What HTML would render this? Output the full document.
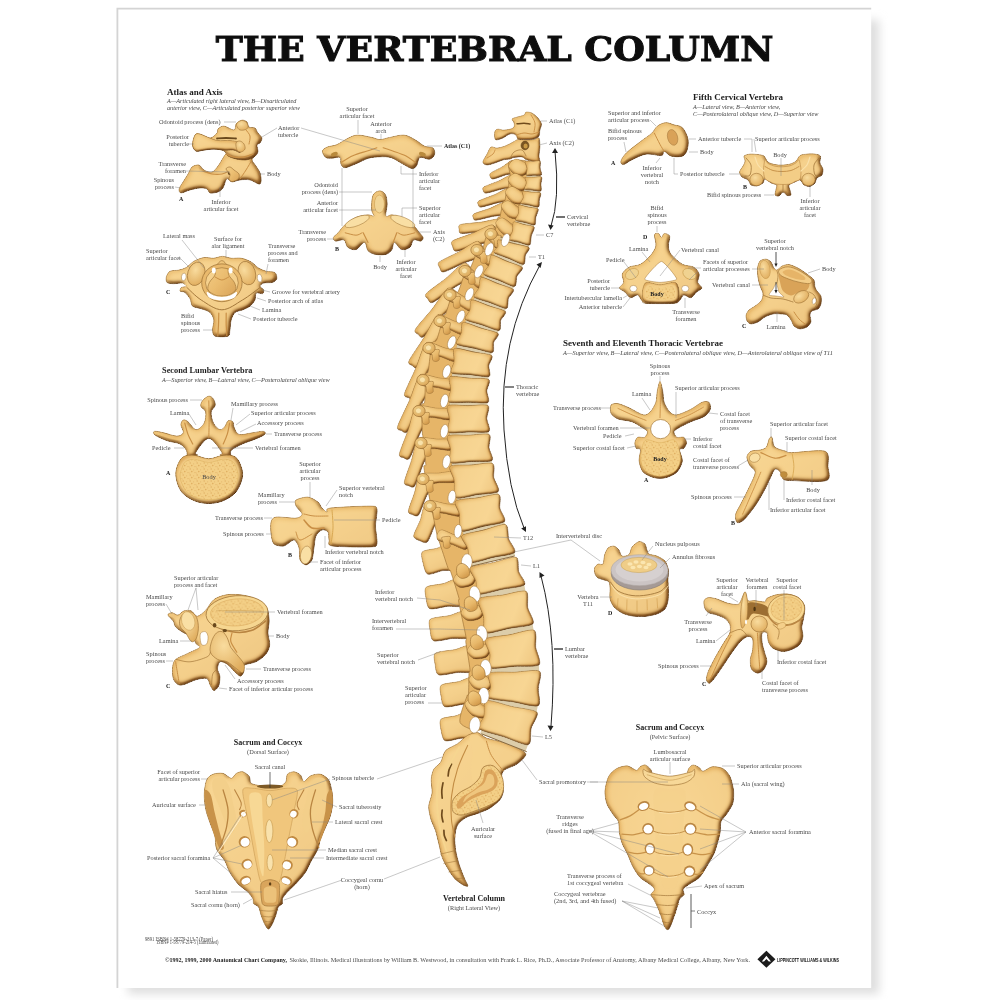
<!DOCTYPE html>
<html lang="en"><head><meta charset="utf-8"><title>The Vertebral Column</title>
<style>
html,body{margin:0;padding:0;background:#fff}
svg{display:block}
text{font-family:"Liberation Serif","DejaVu Serif",serif;fill:#4a4a4a}
.l{font-size:6.3px}
.lb{font-size:6px;font-weight:bold;fill:#222}
.i{font-style:italic;fill:#444}
.h{font-weight:bold;fill:#1c1c1c}
.b{font-weight:bold;fill:#111;font-family:"Liberation Sans",sans-serif}
.m{font-weight:bold;fill:#222}
.title{font-family:"DejaVu Serif","Liberation Serif",serif;font-weight:bold;fill:#111}
</style></head><body>
<svg width="1000" height="1000" viewBox="0 0 1000 1000">

<defs>
<linearGradient id="b1" x1="0" y1="0" x2="1" y2="1"><stop offset="0" stop-color="#f4cf88"/><stop offset=".5" stop-color="#ebbd70"/><stop offset="1" stop-color="#d9a358"/></linearGradient>
<linearGradient id="b2" x1="0" y1="0" x2="0.8" y2="1"><stop offset="0" stop-color="#f2cb84"/><stop offset=".55" stop-color="#e9b96c"/><stop offset="1" stop-color="#d59e52"/></linearGradient>
<radialGradient id="b3" cx=".4" cy=".35" r=".7"><stop offset="0" stop-color="#f9dc9e"/><stop offset="1" stop-color="#e0ad5e"/></radialGradient>
<radialGradient id="b4" cx=".5" cy=".5" r=".6"><stop offset="0" stop-color="#f5d28c"/><stop offset=".8" stop-color="#edc278"/><stop offset="1" stop-color="#dca85a"/></radialGradient>
<radialGradient id="b5" cx=".5" cy=".35" r=".75"><stop offset="0" stop-color="#f3cd86"/><stop offset=".6" stop-color="#e9b96b"/><stop offset="1" stop-color="#d59e50"/></radialGradient>
<linearGradient id="bv" x1="0" y1="0" x2="1" y2="0.3"><stop offset="0" stop-color="#dca85a"/><stop offset=".35" stop-color="#edc278"/><stop offset=".75" stop-color="#f2cb84"/><stop offset="1" stop-color="#dfab5e"/></linearGradient>
<linearGradient id="bs" x1="0" y1="0" x2="0.6" y2="1"><stop offset="0" stop-color="#f4cf88"/><stop offset=".6" stop-color="#e8b86a"/><stop offset="1" stop-color="#d29a4c"/></linearGradient>
<radialGradient id="kn" cx=".4" cy=".4" r=".7"><stop offset="0" stop-color="#f6d690"/><stop offset="1" stop-color="#d7a152"/></radialGradient>
<pattern id="sp" width="7" height="6" patternUnits="userSpaceOnUse"><rect width="7" height="6" fill="#f3cf86"/><circle cx="1.2" cy="1" r=".75" fill="#e2b267"/><circle cx="4.6" cy="1.8" r=".6" fill="#e6b970"/><circle cx="2.8" cy="3.6" r=".8" fill="#e0ae60"/><circle cx="6" cy="4.6" r=".65" fill="#e4b56a"/><circle cx=".6" cy="5" r=".5" fill="#e6b970"/></pattern>
<filter id="vol" x="-10%" y="-10%" width="120%" height="120%" color-interpolation-filters="sRGB">
<feGaussianBlur in="SourceAlpha" stdDeviation="2" result="a"/>
<feDiffuseLighting in="a" surfaceScale="4" diffuseConstant="1.22" lighting-color="#ffffff" result="lit0"><feDistantLight azimuth="230" elevation="55"/></feDiffuseLighting>
<feComponentTransfer in="lit0" result="lit"><feFuncR type="linear" slope=".5" intercept=".5"/><feFuncG type="linear" slope=".62" intercept=".38"/><feFuncB type="linear" slope=".78" intercept=".22"/></feComponentTransfer>
<feComposite in="lit" in2="SourceGraphic" operator="arithmetic" k1="1" k2="0" k3="0" k4="0" result="sh"/>
<feGaussianBlur in="SourceAlpha" stdDeviation="3.2" result="c0"/>
<feComponentTransfer in="c0" result="c"><feFuncA type="linear" slope="2.4" intercept="-1.75"/></feComponentTransfer>
<feFlood flood-color="#fbdc9c" result="fl"/>
<feComposite in="fl" in2="c" operator="in" result="hl"/>
<feMerge result="m"><feMergeNode in="sh"/><feMergeNode in="hl"/></feMerge>
<feComposite in="m" in2="SourceAlpha" operator="in"/>
</filter>
<filter id="vol2" x="-10%" y="-10%" width="120%" height="120%" color-interpolation-filters="sRGB">
<feGaussianBlur in="SourceAlpha" stdDeviation="1.2" result="a"/>
<feDiffuseLighting in="a" surfaceScale="2.2" diffuseConstant="1.22" lighting-color="#ffffff" result="lit0"><feDistantLight azimuth="230" elevation="55"/></feDiffuseLighting>
<feComponentTransfer in="lit0" result="lit"><feFuncR type="linear" slope=".5" intercept=".5"/><feFuncG type="linear" slope=".62" intercept=".38"/><feFuncB type="linear" slope=".78" intercept=".22"/></feComponentTransfer>
<feComposite in="lit" in2="SourceGraphic" operator="arithmetic" k1="1" k2="0" k3="0" k4="0" result="sh"/>
<feGaussianBlur in="SourceAlpha" stdDeviation="2.6" result="c0"/>
<feComponentTransfer in="c0" result="c"><feFuncA type="linear" slope="2.4" intercept="-1.75"/></feComponentTransfer>
<feFlood flood-color="#fbdc9c" result="fl"/>
<feComposite in="fl" in2="c" operator="in" result="hl"/>
<feMerge result="m"><feMergeNode in="sh"/><feMergeNode in="hl"/></feMerge>
<feComposite in="m" in2="SourceAlpha" operator="in"/>
</filter>
<filter id="soft" x="-2%" y="-2%" width="104%" height="104%"><feGaussianBlur stdDeviation="0.65"/></filter>
<filter id="softt" x="-2%" y="-2%" width="104%" height="104%"><feGaussianBlur stdDeviation="0.68"/></filter>
<filter id="shadow" x="-5%" y="-5%" width="112%" height="112%"><feGaussianBlur stdDeviation="5"/></filter>
</defs>

<rect width="1000" height="1000" fill="#fff"/>
<rect x="128" y="20" width="751" height="974" fill="#dedede" filter="url(#shadow)"/>
<rect x="117.400" y="8.700" width="753.800" height="979.300" fill="#fff"/>
<path d="M117.400 988V8.700H871.200" fill="none" stroke="#d4d4d4" stroke-width="1.8" filter="url(#softt)"/>
<text x="215.800" y="60.9" class="title" font-size="32.8" textLength="557.5" lengthAdjust="spacingAndGlyphs" stroke="#111" stroke-width="1.0" filter="url(#softt)">THE VERTEBRAL COLUMN</text>
<g filter="url(#soft)">
<g><path d="M226 154C224.5 154.5 224.3 156 223 158C221.7 160 219.8 163.7 218 166C216.2 168.3 214.3 171.3 212 172C209.7 172.7 206.2 171.2 204 170C201.8 168.8 201 165.5 199 165C197 164.5 193.8 165.5 192 167C190.2 168.5 189.5 171.5 188 174C186.5 176.5 184.5 179.5 183 182C181.5 184.5 179.3 187.2 179 189C178.7 190.8 179.2 192.8 181 193C182.8 193.2 186.8 190.8 190 190C193.2 189.2 197.2 188.2 200 188C202.8 187.8 205.3 188.2 207 189C208.7 189.8 208.2 192.5 210 193C211.8 193.5 215.8 192.8 218 192C220.2 191.2 221.7 190 223 188C224.3 186 225.2 181.5 226 180C226.8 178.5 227 178.7 228 179C229 179.3 230 181.8 232 182C234 182.2 237 180.3 240 180C243 179.7 246.7 179.3 250 180C253.3 180.7 258.2 185 260 184C261.8 183 261.2 177 260.5 174C259.8 171 257.4 168.3 256 166C254.6 163.7 252.3 161.7 252 160C251.7 158.3 256 156.5 254 156C252 155.5 243.7 157.2 240 157C236.3 156.8 234.3 155.5 232 155C229.7 154.5 227.5 153.5 226 154Z" fill="url(#b2)" stroke="#a3773a" stroke-width="0.9" stroke-linejoin="round"  filter="url(#vol)"/>
<path d="M203 171C204.5 171.5 208.8 173.5 212 174C215.2 174.5 219.2 174.5 222 174C224.8 173.5 227.8 171.5 229 171" fill="none" stroke="#c98f45" stroke-width="1.2" stroke-linecap="round" />
<ellipse cx="230" cy="172.5" rx="2.2" ry="2.8" fill="#6b4a1c" stroke="none" stroke-width="0" />
<path d="M226 169C226 167.8 228.7 166.8 230 167C231.3 167.2 232.5 168.8 234 170C235.5 171.2 238.3 172.5 239 174C239.7 175.5 239.2 177.8 238 179C236.8 180.2 233.5 181.5 232 181.5C230.5 181.5 229.3 180.2 229 179C228.7 177.8 230.5 175.7 230 174C229.5 172.3 226 170.2 226 169Z" fill="url(#b1)" stroke="#a3773a" stroke-width="0.7" stroke-linejoin="round" />
<path d="M252 160C251 161.7 248 166.8 246 170C244 173.2 241 177.5 240 179" fill="none" stroke="#c98f45" stroke-width="1.0" stroke-linecap="round" />
<path d="M192.5 145C192.3 142.3 193.8 136.8 195 135C196.2 133.2 197.5 133.5 200 134C202.5 134.5 207.2 138.2 210 138C212.8 137.8 215.7 134.5 217 133C218.3 131.5 216.8 130.2 218 129C219.2 127.8 221.3 125.8 224 126C226.7 126.2 232 130.3 234 130C236 129.7 234.7 125.7 236 124C237.3 122.3 240.2 120.3 242 120C243.8 119.7 245.8 120.8 247 122C248.2 123.2 247.7 126 249 127C250.3 128 253.5 127 255 128C256.5 129 256.8 131.3 258 133C259.2 134.7 261.7 136.3 262 138C262.3 139.7 260.8 141.8 260 143C259.2 144.2 257.3 143.5 257 145C256.7 146.5 258.5 150 258 152C257.5 154 256 155.7 254 157C252 158.3 249 159.7 246 160C243 160.3 239 159.7 236 159C233 158.3 230 157.3 228 156C226 154.7 226.3 152.2 224 151C221.7 149.8 217.3 149.2 214 149C210.7 148.8 207 149.7 204 150C201 150.3 197.9 151.8 196 151C194.1 150.2 192.7 147.7 192.5 145Z" fill="url(#b1)" stroke="#a3773a" stroke-width="0.9" stroke-linejoin="round"  filter="url(#vol)"/>
<path d="M192.5 145C192.3 142.3 193.8 136.8 195 135C196.2 133.2 197.5 133.5 200 134C202.5 134.5 207 136.9 210 138C213 139.1 214.7 140.1 218 140.5C221.3 140.9 226.7 140.2 230 140.5C233.3 140.8 235.9 140.9 238 142C240.1 143.1 242.2 145.2 242.5 147C242.8 148.8 241.4 152 240 152.5C238.6 153 236.3 150.6 234 150.2C231.7 149.8 229.3 150.4 226 150.2C222.7 150 217.7 149.2 214 149.2C210.3 149.2 207 149.9 204 150.2C201 150.5 197.9 152.1 196 151.2C194.1 150.3 192.7 147.7 192.5 145Z" fill="url(#b1)" stroke="#a3773a" stroke-width="0.8" stroke-linejoin="round"  filter="url(#vol2)"/>
<path d="M217 138.5C218.5 138.4 222.8 138 226 138C229.2 138 234.3 138.4 236 138.5" fill="none" stroke="#6b4a1c" stroke-width="1.8" stroke-linecap="round" />
<path d="M236.5 124C236.9 122.5 239.8 120.8 241.5 120.5C243.2 120.2 245.4 121.3 246.5 122.5C247.6 123.7 248.4 126.2 248 127.5C247.6 128.8 245.5 129.7 244 130C242.5 130.3 240.2 130.5 239 129.5C237.8 128.5 236.1 125.5 236.5 124Z" fill="url(#b3)" stroke="#a3773a" stroke-width="0.6" stroke-linejoin="round" />
<path d="M226 154C227.3 154.5 231 156.5 234 157C237 157.5 240.8 157.5 244 157C247.2 156.5 251.5 154.5 253 154" fill="none" stroke="#c98f45" stroke-width="1.3" stroke-linecap="round" />
<path d="M236 143C236.5 141.5 238.7 140.8 240 141C241.3 141.2 243.2 142.7 244 144C244.8 145.3 245.5 147.7 245 149C244.5 150.3 242.3 151.8 241 152C239.7 152.2 237.8 151.5 237 150C236.2 148.5 235.5 144.5 236 143Z" fill="url(#b3)" stroke="#a3773a" stroke-width="0.6" stroke-linejoin="round" />
<path d="M246 130C246.7 131 249.5 133.7 250 136C250.5 138.3 249.2 142.7 249 144" fill="none" stroke="#c98f45" stroke-width="1.0" stroke-linecap="round" /></g>
<g><path d="M322.4 151C322.7 149.3 324.8 148.1 327.2 147C329.6 145.9 333.3 146.1 336.8 144.6C340.3 143.1 344.5 139.8 348 138.2C351.5 136.6 353.6 135.1 357.6 135C361.6 134.9 368.3 136.7 372 137.4C375.7 138.1 377.1 139.5 380 139.5C382.9 139.5 385.6 138.1 389.6 137.4C393.6 136.7 399.7 134.6 404 135C408.3 135.4 411.7 137.9 415.2 139.8C418.7 141.7 421.9 144.9 424.8 146.2C427.7 147.5 431.1 146.5 432.8 147.8C434.5 149.1 435.3 152.3 434.7 154.2C434.2 156.1 432.1 158.8 429.6 159.3C427.1 159.9 422.1 156.4 420 157.4C417.9 158.4 418.1 163.5 416.8 165.4C415.5 167.3 414.4 168.9 412 168.6C409.6 168.3 405.9 165.6 402.4 163.8C398.9 162 394.9 158.9 391.2 157.7C387.5 156.6 383.7 156.8 380 156.9C376.3 157 372.8 157.1 368.8 158.2C364.8 159.3 360 162.2 356 163.8C352 165.4 347.3 167.8 344.8 167.8C342.3 167.8 341.6 165.5 340.8 163.8C340 162.1 341.5 158.3 340 157.4C338.5 156.5 334.4 158.2 332 158.2C329.6 158.2 327.2 158.6 325.6 157.4C324 156.2 322.1 152.7 322.4 151Z" fill="url(#b1)" stroke="#a3773a" stroke-width="0.9" stroke-linejoin="round"  filter="url(#vol)"/>
<path d="M341.6 162.2C343.5 161.1 348.5 157.7 352.8 155.8C357.1 153.9 363.2 152.3 367.2 151C371.2 149.7 375.2 148.3 376.8 147.8" fill="none" stroke="#c98f45" stroke-width="1.2" stroke-linecap="round" />
<path d="M415.2 162.2C413.6 161.1 409.3 157.7 405.6 155.8C401.9 153.9 396.5 152.3 392.8 151C389.1 149.7 384.8 148.3 383.2 147.8" fill="none" stroke="#c98f45" stroke-width="1.2" stroke-linecap="round" />
<ellipse cx="334.4" cy="154.2" rx="3.5" ry="2" fill="#b98a3c" stroke="none" stroke-width="0" transform="rotate(-20 334.4 154.2)" />
<ellipse cx="422.4" cy="154.2" rx="3.5" ry="2" fill="#b98a3c" stroke="none" stroke-width="0" transform="rotate(20 422.4 154.2)" /></g>
<g><path d="M379.4 190.8C377.3 191 374.1 192.4 372.8 195.6C371.5 198.8 371.4 206.6 371.6 210C371.8 213.4 374.6 215.2 374 216C373.4 216.8 371 214.6 368 214.8C365 215 359.8 215.6 356 217.2C352.2 218.8 348.2 221.8 345.2 224.4C342.2 227 340 230.6 338 232.8C336 235 333.6 236.2 333.2 237.6C332.8 239 333.8 240.8 335.6 241.2C337.4 241.6 342 239 344 240C346 241 345.6 245.6 347.6 247.2C349.6 248.8 353.2 250.4 356 249.6C358.8 248.8 362.4 242.2 364.4 242.4C366.4 242.6 366.2 248.8 368 250.8C369.8 252.8 372.2 253.8 375.2 254.4C378.2 255 383.2 255.2 386 254.4C388.8 253.6 390.6 251.6 392 249.6C393.4 247.6 392.8 242.4 394.4 242.4C396 242.4 399 248.8 401.6 249.6C404.2 250.4 408 248.8 410 247.2C412 245.6 411.8 241 413.6 240C415.4 239 419.2 241.6 420.8 241.2C422.4 240.8 423.4 239 423.2 237.6C423 236.2 421.2 234.8 419.6 232.8C418 230.8 416.2 228 413.6 225.6C411 223.2 407.6 220.2 404 218.4C400.4 216.6 395 215.2 392 214.8C389 214.4 386.8 217.8 386 216C385.2 214.2 387.3 207.6 387.2 204C387.1 200.4 386.7 196.6 385.4 194.4C384.1 192.2 381.5 190.6 379.4 190.8Z" fill="url(#b1)" stroke="#a3773a" stroke-width="0.9" stroke-linejoin="round"  filter="url(#vol)"/>
<ellipse cx="357.2" cy="221.4" rx="13" ry="4.2" fill="#f9dfa4" stroke="#a3773a" stroke-width="0.5" transform="rotate(-22 357.2 221.4)" />
<ellipse cx="402.8" cy="221.4" rx="13" ry="4.2" fill="#f9dfa4" stroke="#a3773a" stroke-width="0.5" transform="rotate(22 402.8 221.4)" />
<ellipse cx="379.4" cy="204" rx="5" ry="9" fill="#f2d596" stroke="#c09040" stroke-width="0.5" />
<path d="M363.2 232.8 L368 242.4" fill="none" stroke="#c98f45" stroke-width="1.2" stroke-linecap="round" />
<path d="M396.8 232.8 L393.2 242.4" fill="none" stroke="#c98f45" stroke-width="1.2" stroke-linecap="round" />
<path d="M345.2 232.8C347 233.2 353.2 235.2 356 235.2C358.8 235.2 361 233.2 362 232.8" fill="none" stroke="#c98f45" stroke-width="1.0" stroke-linecap="round" />
<path d="M414.8 232.8C413 233.2 406.8 235.2 404 235.2C401.2 235.2 399 233.2 398 232.8" fill="none" stroke="#c98f45" stroke-width="1.0" stroke-linecap="round" /></g>
<g><path d="M166.2 276.9C166.7 275.3 168.2 272.2 170 271.2C171.8 270.3 176.5 270.5 178.8 270C181 269.5 184.2 268.7 186.2 267.5C188.3 266.3 191.3 262.6 193.8 261.2C196.2 259.9 200.9 257.9 203.8 257.5C206.6 257.1 211.1 258.3 213.8 258.1C216.4 257.9 220.1 256.2 222.5 256.2C224.9 256.2 228.6 257.9 231.2 258.1C233.9 258.4 238.4 257.6 241.2 258.1C244.1 258.6 248.8 260.5 251.2 261.9C253.7 263.3 256.6 266.8 258.8 268.1C260.9 269.4 264 270.6 266.2 271.2C268.5 271.9 273.5 271.4 275 272.5C276.5 273.6 277.2 277.4 276.9 278.8C276.5 280.1 274.3 281.9 272.5 282.5C270.7 283.1 265.5 282.6 263.8 283.1C262 283.6 260 285.3 260 286.2C260 287.2 263.4 288.9 263.8 290C264.1 291.1 263.6 293.3 262.5 293.8C261.4 294.2 257.3 292.2 256.2 293.1C255.2 294 255.9 298.2 255 300C254.1 301.8 251.8 304.9 250 306.2C248.2 307.6 244.6 309.1 242.5 310C240.4 310.9 236.6 311.1 235 312.5C233.4 313.9 231.9 317.6 231.2 320C230.6 322.4 230.4 327.7 230 330C229.6 332.3 230.2 335.4 228.1 336.2C226 337.1 217.2 337.1 215 336.2C212.8 335.4 212.7 332.3 212.5 330C212.3 327.7 214.1 322.4 213.8 320C213.4 317.6 211.8 314.1 210 312.5C208.2 310.9 203.7 309.6 201.2 308.8C198.8 307.9 194.1 307.6 192.5 306.2C190.9 304.9 191.1 300.7 190 298.8C188.9 296.8 186.4 293.6 185 292.5C183.6 291.4 180.5 291.9 180 291.2C179.5 290.6 180.4 288.2 181.2 287.5C182.1 286.8 186.1 286.9 186.2 286.2C186.4 285.6 184.2 283.5 182.5 283.1C180.8 282.8 175.9 283.8 173.8 283.8C171.6 283.7 167.9 283.5 166.9 282.5C165.8 281.5 165.8 278.4 166.2 276.9Z" fill="url(#b2)" stroke="#a3773a" stroke-width="0.9" stroke-linejoin="round"  filter="url(#vol)"/>
<ellipse cx="196.2" cy="273.8" rx="8.5" ry="12" fill="url(#b3)" stroke="#a3773a" stroke-width="0.7" transform="rotate(18 196.2 273.8)" />
<ellipse cx="246.9" cy="273.1" rx="8.5" ry="12" fill="url(#b3)" stroke="#a3773a" stroke-width="0.7" transform="rotate(-18 246.9 273.1)" />
<path d="M221.9 260.6C220 260.6 217.4 263.9 216.2 266.2C215.1 268.6 216.1 272.3 215 275C213.9 277.7 210.5 280 209.4 282.5C208.2 285 207.2 287.9 208.1 290C209.1 292.1 212.7 294 215 295C217.3 296 219.6 296 221.9 296C224.2 296 226.5 296 228.8 295C231 294 234.7 292.1 235.6 290C236.6 287.9 235.5 285 234.4 282.5C233.2 280 229.9 277.7 228.8 275C227.6 272.3 228.6 268.6 227.5 266.2C226.4 263.9 223.8 260.6 221.9 260.6Z" fill="url(#b1)" stroke="#a3773a" stroke-width="0.7" stroke-linejoin="round" />
<path d="M215 276.9C216.1 277.4 219.6 280 221.9 280C224.2 280 227.6 277.4 228.8 276.9" fill="none" stroke="#c98f45" stroke-width="1.0" stroke-linecap="round" />
<ellipse cx="221.9" cy="282.8" rx="18.3" ry="17" fill="none" stroke="#e9b96c" stroke-width="3.6"/>
<ellipse cx="221.9" cy="282.8" rx="20.2" ry="18.9" fill="none" stroke="#a3773a" stroke-width="0.8"/>
<ellipse cx="221.9" cy="282.8" rx="16.4" ry="15.1" fill="none" stroke="#a3773a" stroke-width="0.7"/>
<path d="M206.9 291.9C207.5 291.5 211.2 294.8 213.8 295.6C216.2 296.5 219.2 296.9 221.9 296.9C224.6 296.9 227.5 296.5 230 295.6C232.5 294.8 236.2 291.5 236.9 291.9C237.5 292.3 236.2 296.7 233.8 298.1C231.2 299.6 225.8 300.6 221.9 300.6C217.9 300.6 212.5 299.6 210 298.1C207.5 296.7 206.2 292.3 206.9 291.9Z" fill="#ffffff" stroke="none" stroke-width="0" stroke-linejoin="round" />
<ellipse cx="183.8" cy="276.9" rx="2.4" ry="3.8" fill="#ffffff" stroke="#a3773a" stroke-width="0.5" transform="rotate(8 183.8 276.9)" />
<ellipse cx="259.6" cy="278.1" rx="2.4" ry="4" fill="#ffffff" stroke="#a3773a" stroke-width="0.5" transform="rotate(-8 259.6 278.1)" />
<ellipse cx="213.8" cy="270.6" rx="2" ry="3" fill="#ffffff" stroke="none" stroke-width="0" />
<ellipse cx="230.6" cy="270.6" rx="2" ry="3" fill="#ffffff" stroke="none" stroke-width="0" />
<path d="M186.9 287.5C189.3 289.6 195.4 296.3 201.2 300C207.1 303.7 215 309.8 221.9 309.8C228.8 309.8 236.1 303.7 242.5 300C248.9 296.3 257.1 289.6 260 287.5" fill="none" stroke="#a3773a" stroke-width="1.0" stroke-linecap="round" />
<path d="M218.8 313.1C218.7 315.1 218.7 321.2 218.5 325C218.3 328.8 217.9 333.9 217.8 335.6" fill="none" stroke="#c98f45" stroke-width="1.2" stroke-linecap="round" />
<path d="M226.2 313.1C226.2 315.1 226.1 321.2 226.2 325C226.4 328.8 226.8 333.9 226.9 335.6" fill="none" stroke="#c98f45" stroke-width="1.2" stroke-linecap="round" /></g>
<g><path d="M208.8 396C206.9 396.3 203.7 399.1 202.4 400.8C201.1 402.5 200.3 404.5 200.8 406.4C201.3 408.3 205.1 409.2 205.6 412C206.1 414.8 205.6 420.3 204 423.2C202.4 426.1 198.7 429.9 196 429.6C193.3 429.3 190.1 423.2 188 421.6C185.9 420 184.4 419.5 183.2 420C182 420.5 180.8 422.7 180.8 424.8C180.8 426.9 183.9 430.9 183.2 432.8C182.5 434.7 180 436 176.8 436C173.6 436 167.7 433.6 164 432.8C160.3 432 155.9 430.8 154.4 431.2C152.9 431.6 153.1 433.6 155.2 435.2C157.3 436.8 163.1 439.3 167.2 440.8C171.3 442.3 176.8 442.4 180 444C183.2 445.6 185.1 448.3 186.4 450.4C187.7 452.5 186.1 456 188 456.8C189.9 457.6 196.3 456 197.6 455.2C198.9 454.4 194.1 454.8 196 452C197.9 449.2 204.5 438.4 208.8 438.4C213.1 438.4 219.7 449.2 221.6 452C223.5 454.8 218.5 454.4 220 455.2C221.5 456 228.5 457.6 230.4 456.8C232.3 456 229.2 452.5 231.2 450.4C233.2 448.3 238.4 445.9 242.4 444C246.4 442.1 251.5 440.8 255.2 439.2C258.9 437.6 263.5 435.7 264.8 434.4C266.1 433.1 265.3 431.5 263.2 431.2C261.1 430.9 256 432.3 252 432.8C248 433.3 242.1 435.2 239.2 434.4C236.3 433.6 235.5 430.1 234.4 428C233.3 425.9 233.9 422.8 232.8 421.6C231.7 420.4 229.3 420 228 420.8C226.7 421.6 226.1 424.9 224.8 426.4C223.5 427.9 221.9 430.1 220 429.6C218.1 429.1 215.1 426.1 213.6 423.2C212.1 420.3 210.9 414.9 211.2 412C211.5 409.1 214.8 407.7 215.2 405.6C215.6 403.5 214.7 400.8 213.6 399.2C212.5 397.6 210.7 395.7 208.8 396Z" fill="url(#b1)" stroke="#a3773a" stroke-width="0.9" stroke-linejoin="round"  filter="url(#vol)"/>
<path d="M208.8 458.7C204 458.7 198.7 455.5 194.4 455.2C190.1 454.9 186.1 454.9 183.2 456.8C180.3 458.7 178.3 462.9 177.1 466.4C175.9 469.9 175.3 473.3 176 477.6C176.7 481.9 178.5 488.1 181.6 492C184.7 495.9 189.9 498.9 194.4 500.8C198.9 502.7 204 503.5 208.8 503.5C213.6 503.5 218.7 502.7 223.2 500.8C227.7 498.9 232.8 495.9 236 492C239.2 488.1 241.5 481.9 242.4 477.6C243.3 473.3 242.3 469.9 241.1 466.4C239.9 462.9 238.2 458.7 235.2 456.8C232.2 454.9 227.6 454.9 223.2 455.2C218.8 455.5 213.6 458.7 208.8 458.7Z" fill="url(#b4)" stroke="#a3773a" stroke-width="1.0" stroke-linejoin="round"  filter="url(#vol)"/>
<path d="M208.8 462.4C204 462.4 198.3 459.3 194.4 459.2C190.5 459.1 187.8 459.9 185.6 461.6C183.4 463.3 182.2 466.8 181.3 469.6C180.4 472.4 179.6 474.9 180.3 478.4C181 481.9 183 487.2 185.6 490.4C188.2 493.6 192.1 496.1 196 497.6C199.9 499.1 204.5 499.7 208.8 499.7C213.1 499.7 217.6 499.1 221.6 497.6C225.6 496.1 230.1 493.6 232.8 490.4C235.5 487.2 237.2 481.9 237.9 478.4C238.6 474.9 237.8 472.4 237 469.6C236.1 466.8 235.1 463.3 232.8 461.6C230.5 459.9 227.2 459.1 223.2 459.2C219.2 459.3 213.6 462.4 208.8 462.4Z" fill="url(#sp)" stroke="#d9ad58" stroke-width="0.5" stroke-linejoin="round" />
<path d="M208.8 400.8C208.9 404 209.1 413.9 209.1 420C209.1 426.1 208.9 434.7 208.8 437.6" fill="none" stroke="#c98f45" stroke-width="1.0" stroke-linecap="round" />
<path d="M184.8 423.2C185.3 425.1 186.7 430.9 188 434.4C189.3 437.9 192 442.4 192.8 444" fill="none" stroke="#c98f45" stroke-width="1.2" stroke-linecap="round" />
<path d="M229.6 423.2C229.2 425.1 228.3 430.9 227.2 434.4C226.1 437.9 223.9 442.4 223.2 444" fill="none" stroke="#c98f45" stroke-width="1.2" stroke-linecap="round" /></g>
<g><path d="M330 508C336 507.2 363.4 505.9 370 506C376.6 506.1 376.2 506.2 377 509C377.8 511.8 375.6 521.1 375.6 526C375.6 530.9 377.8 541.1 377 544C376.2 546.9 376.3 546.7 370 547C363.7 547.3 337.7 547 332 546C326.3 545 329.6 542 329 540C328.4 538 329 533.4 328 532C327 530.6 323.7 529.4 322 530C320.3 530.6 317.1 533.5 316 536C314.9 538.5 314.6 544.6 314 548C313.4 551.4 313.1 557.6 312 560C310.9 562.4 307.7 565 306 565C304.3 565 301 562.4 300 560C299 557.6 299.8 550.8 299 548C298.2 545.2 296.1 540.3 294 540C291.9 539.7 286.8 545.4 284 546C281.2 546.6 275.8 545.7 274 544C272.2 542.3 271.4 537.1 271 534C270.6 530.9 270.3 524.4 271 522C271.7 519.6 272.5 517.6 276 517C279.5 516.4 292.4 518.4 296 518C299.6 517.6 302 515.7 302 514C302 512.3 296.8 508 296 506C295.2 504 294.3 501.3 296 500C297.7 498.7 304.9 496.7 308 497C311.1 497.3 316 500.5 318 502C320 503.5 320.7 506.6 322 508C323.3 509.4 325.9 512 327 512C328.1 512 324 508.8 330 508Z" fill="url(#b1)" stroke="#a3773a" stroke-width="0.9" stroke-linejoin="round"  filter="url(#vol)"/>
<path d="M304 520C305.3 521.3 308.7 526.7 312 528C315.3 529.3 322 528 324 528" fill="none" stroke="#c98f45" stroke-width="1.6" stroke-linecap="round" />
<path d="M304 514C305.7 514.3 310 515.7 314 516C318 516.3 325.7 516 328 516" fill="none" stroke="#c98f45" stroke-width="1.0" stroke-linecap="round" />
<ellipse cx="306" cy="555" rx="5.5" ry="9" fill="#f9dfa4" stroke="#a3773a" stroke-width="0.5" transform="rotate(10 306 555)" />
<path d="M296 532C296.7 533.3 297.3 539.7 300 540C302.7 540.3 310 535 312 534" fill="none" stroke="#c98f45" stroke-width="1.0" stroke-linecap="round" />
<path d="M332 510C332.2 513 333.2 522.3 333 528C332.8 533.7 331.3 541.3 331 544" fill="none" stroke="#d8a853" stroke-width="1.0" stroke-linecap="round" /></g>
<g><path d="M167.8 615C167.6 613.7 170.5 612.6 172 612.6C173.5 612.6 176.2 615.3 178 615C179.8 614.7 182 611.4 184 610.8C186 610.2 189.2 610 191.2 610.8C193.2 611.6 195 616.3 197.2 616.2C199.4 616.1 203.1 612.7 205.6 610.2C208.1 607.7 210.8 601.7 214 599.4C217.2 597.1 222.7 595.2 227.2 594.6C231.7 594 239.1 594.3 244 595.2C248.9 596.1 256.1 598.5 259.6 600.6C263.1 602.7 266 605.9 267.4 609C268.8 612.1 269.1 617.4 269.2 621C269.3 624.6 267.9 629.4 268 633C268.1 636.6 270.2 641.8 269.8 645C269.4 648.2 267.7 652.1 265.6 654.6C263.5 657.1 259.2 660.2 256 661.8C252.8 663.4 245.8 664 244 665.4C242.2 666.8 244.5 669.8 244 671.4C243.5 673 241.8 676.2 240.4 676.2C239 676.2 236.4 673.2 234.4 671.4C232.4 669.6 229.4 665.6 227.2 664.2C225 662.8 221.4 661.1 220 661.8C218.6 662.5 217.6 666.8 217.6 669C217.6 671.2 219.8 673.7 220 676.2C220.2 678.7 219.7 683.6 218.8 685.8C217.9 688 215.3 690.6 214 690.6C212.7 690.6 211.5 687.6 210.4 685.8C209.3 684 209 679.5 206.8 678.6C204.6 677.7 199.4 678.9 196 679.8C192.6 680.7 186.7 683.9 184 684.6C181.3 685.3 179.6 685.5 178 684.6C176.4 683.7 174 681.3 173.2 678.6C172.4 675.9 172.2 669.5 172.6 666.6C173 663.7 173.4 661.4 175.6 659.4C177.9 657.4 184 655.2 187.6 653.4C191.2 651.6 198.3 648.8 199.6 647.4C200.9 646 197.1 645.4 196 643.8C194.9 642.2 194.2 638.2 192.4 636.6C190.6 635 186.5 634.4 184 633C181.5 631.6 177.2 628.8 175.6 627C174 625.2 174.4 622.8 173.2 621C172 619.2 168 616.3 167.8 615Z" fill="url(#b2)" stroke="#a3773a" stroke-width="0.9" stroke-linejoin="round"  filter="url(#vol)"/>
<path d="M208 612.6C209.2 614.6 211.2 621.4 215.2 624.6C219.2 627.8 226 630.8 232 631.8C238 632.8 245.6 632.4 251.2 630.6C256.8 628.8 263.2 622.6 265.6 621" fill="none" stroke="#b98542" stroke-width="1.6" stroke-linecap="round" />
<ellipse cx="237" cy="613.2" rx="31" ry="17.5" fill="#f6d690" stroke="#a3773a" stroke-width="0.8" transform="rotate(-4 237 613.2)" />
<ellipse cx="237" cy="612.4" rx="26.5" ry="13.5" fill="url(#sp)" stroke="#d6a356" stroke-width="0.5" transform="rotate(-4 237 612.4)" />
<path d="M216.4 610.8C219.8 610.7 229.2 610.4 236.8 610.4C244.4 610.5 257.8 611 262 611.2" fill="none" stroke="#c79a50" stroke-width="0.5" stroke-linecap="round" />
<path d="M179.8 619.8C180.4 617.5 182.1 614.5 184 613.2C185.9 611.9 189.1 611.3 191.2 612C193.3 612.7 195.4 614.7 196.6 617.4C197.8 620.1 198.5 624.6 198.4 628.2C198.3 631.8 197.2 636.8 196 639C194.8 641.2 192.9 642.4 191.2 641.4C189.5 640.4 187.6 635.4 185.8 633C184 630.6 181.4 629.2 180.4 627C179.4 624.8 179.2 622.1 179.8 619.8Z" fill="url(#b3)" stroke="#a3773a" stroke-width="0.7" stroke-linejoin="round" />
<ellipse cx="188.2" cy="621" rx="6.5" ry="9.5" fill="#f9dfa4" stroke="#c79a50" stroke-width="0.5" transform="rotate(-15 188.2 621)" />
<path d="M200.8 633C201.7 631.8 204.4 631.2 205.6 631.8C206.8 632.4 207.8 634.6 208 636.6C208.2 638.6 207.8 642.4 206.8 643.8C205.8 645.2 203.1 645.8 202 645C200.9 644.2 200.4 641 200.2 639C200 637 199.9 634.2 200.8 633Z" fill="#ffffff" stroke="#a3773a" stroke-width="0.5" stroke-linejoin="round" />
<ellipse cx="214.6" cy="625.2" rx="1.8" ry="2.2" fill="#6b4a1c" stroke="none" stroke-width="0" />
<ellipse cx="224.8" cy="630.6" rx="2.2" ry="1.6" fill="#6b4a1c" stroke="none" stroke-width="0" />
<path d="M211.6 641.4C212.6 638.2 214.6 634.6 216.4 633C218.2 631.4 220.6 631 222.4 631.8C224.2 632.6 225.8 635.2 227.2 637.8C228.6 640.4 229.2 644.6 230.8 647.4C232.4 650.2 234.6 651.8 236.8 654.6C239 657.4 243 661.2 244 664.2C245 667.2 244 671.8 242.8 672.6C241.6 673.4 239.4 670.8 236.8 669C234.2 667.2 230.4 663.4 227.2 661.8C224 660.2 220.4 661 217.6 659.4C214.8 657.8 211.4 655.2 210.4 652.2C209.4 649.2 210.6 644.6 211.6 641.4Z" fill="url(#b3)" stroke="#a3773a" stroke-width="0.7" stroke-linejoin="round" />
<path d="M232 633C231.8 634.4 230 638.2 230.8 641.4C231.6 644.6 235.8 650.4 236.8 652.2" fill="none" stroke="#c98f45" stroke-width="1.2" stroke-linecap="round" />
<path d="M176.2 659.4C178.5 659.8 184.9 662.2 190 661.8C195.1 661.4 203.4 658.6 206.8 657C210.2 655.4 209.8 653 210.4 652.2" fill="none" stroke="#a3773a" stroke-width="0.7" stroke-linecap="round" />
<path d="M175.6 661.8C176 664.2 177.4 672.6 178 676.2C178.6 679.8 179 682.2 179.2 683.4" fill="none" stroke="#c98f45" stroke-width="1.0" stroke-linecap="round" />
<path d="M217.6 669C216.8 669.8 213.8 671.2 212.8 673.8C211.8 676.4 211.8 682.8 211.6 684.6" fill="none" stroke="#a3773a" stroke-width="0.7" stroke-linecap="round" /></g>
<g><path d="M206.6 779.9C207.8 777 210.8 775 213.2 774.1C215.5 773.2 220.5 772.7 223.1 773.3C225.6 773.9 229.5 778.3 231.3 778.3C233.2 778.3 234.6 774.2 236.3 773.3C237.9 772.4 241 771.2 242.9 771.7C244.7 772.1 248.3 775 249.5 776.6C250.6 778.2 249.5 781.9 251.1 783.2C252.7 784.5 258.3 785.2 261 785.7C263.7 786.1 267.3 786.5 270.1 786.5C272.9 786.5 278.6 786.4 280.8 785.7C283 785 284.8 783.2 285.8 781.6C286.7 779.9 286.3 775.5 287.4 774.1C288.6 772.7 292.2 771.5 294 771.7C295.9 771.8 299.2 773.6 300.6 775C302 776.3 302.5 781.4 303.9 781.6C305.3 781.7 308.2 776.8 310.5 775.8C312.8 774.7 317.9 773.5 320.4 774.1C323 774.7 327 777.5 328.7 779.9C330.3 782.3 331.4 788.2 332 791.5C332.5 794.7 333 799.5 332.8 803C332.6 806.5 331.4 812.7 330.3 816.2C329.3 819.7 326.7 824.5 325.4 827.8C324 831 321.5 836.3 320.4 839.3C319.4 842.3 319.3 846 317.9 849.2C316.6 852.4 312.2 859.2 310.5 862.4C308.8 865.6 307.4 869.5 305.6 872.3C303.7 875.1 299.9 879.4 297.3 882.2C294.8 885 289.5 889.8 287.4 892.1C285.3 894.4 283.2 897.1 282.5 898.7C281.8 900.3 283 902.5 282.5 903.7C281.9 904.8 279.3 905.3 278.3 907C277.4 908.6 276.7 912.9 275.9 915.2C275 917.5 273.6 921.5 272.6 923.5C271.5 925.4 269.6 929.2 268.4 929.2C267.3 929.2 265.3 925.4 264.3 923.5C263.3 921.5 261.8 917.5 261 915.2C260.2 912.9 259.6 908.6 258.5 907C257.5 905.3 254.4 904.8 253.6 903.7C252.8 902.5 253.6 900.3 252.8 898.7C251.9 897.1 249.9 894.2 247.8 892.1C245.7 890 240.4 886.6 237.9 883.9C235.4 881.1 231.5 875.5 229.7 872.3C227.8 869.1 226.6 864 224.7 860.8C222.9 857.5 217.8 852.7 216.5 849.2C215.1 845.7 215.7 839.7 214.8 836C213.9 832.3 211.1 826.5 209.9 822.8C208.6 819.1 206.5 813.5 205.7 809.6C204.9 805.7 204 798.9 204.1 794.8C204.2 790.6 205.3 782.8 206.6 779.9Z" fill="url(#b2)" stroke="#a3773a" stroke-width="0.9" stroke-linejoin="round"  filter="url(#vol)"/>
<path d="M205.2 789.8C206.2 789.5 209.1 790.9 210.7 794.8C212.3 798.6 213.3 806.6 214.8 812.9C216.3 819.2 218.2 826.9 219.8 832.7C221.3 838.5 223.9 844.8 223.9 847.6C223.9 850.3 221.1 850.6 219.8 849.2C218.4 847.8 217.1 843.4 215.6 839.3C214.1 835.2 212.2 829.4 210.7 824.5C209.1 819.5 207.2 814.3 206.2 809.6C205.2 804.9 204.7 799.7 204.6 796.4C204.4 793.1 204.2 790.1 205.2 789.8Z" fill="#c8924a" stroke="none" stroke-width="0" stroke-linejoin="round" />
<path d="M331.6 789.8C330.7 788.4 328.1 791.2 327 794.8C326 798.3 326.2 805.8 325.4 811.3C324.5 816.8 323.3 822.5 322.1 827.8C320.8 833 318.2 840.4 317.9 842.6C317.7 844.8 319.2 843.4 320.4 841C321.7 838.5 323.7 831.9 325.4 827.8C327 823.6 329.1 820.3 330.3 816.2C331.6 812.1 332.6 807.4 332.8 803C333 798.6 332.6 791.2 331.6 789.8Z" fill="#c8924a" stroke="none" stroke-width="0" stroke-linejoin="round" />
<path d="M213.2 779.9C214.8 777.7 220.3 776.9 223.1 778.3C225.8 779.6 228 784 229.7 788.2C231.3 792.3 231.9 797.8 233 803C234.1 808.2 236.3 814.6 236.3 819.5C236.3 824.5 234.6 831.9 233 832.7C231.3 833.5 228.6 828.6 226.4 824.5C224.2 820.3 222 813.5 219.8 808C217.6 802.5 214.3 796.1 213.2 791.5C212.1 786.8 211.5 782.1 213.2 779.9Z" fill="#f3cf8a" stroke="none" stroke-width="0" stroke-linejoin="round" />
<path d="M325.4 779.9C323.7 777.7 318.2 776.9 315.5 778.3C312.7 779.6 310.5 784 308.9 788.2C307.2 792.3 306.7 797.8 305.6 803C304.5 808.2 302.3 814.6 302.3 819.5C302.3 824.5 303.9 831.9 305.6 832.7C307.2 833.5 310 828.6 312.2 824.5C314.4 820.3 316.6 813.5 318.8 808C321 802.5 324.3 796.1 325.4 791.5C326.5 786.8 327 782.1 325.4 779.9Z" fill="#f3cf8a" stroke="none" stroke-width="0" stroke-linejoin="round" />
<path d="M223.1 789.8C223.9 793.1 227.5 803.3 228 809.6C228.6 815.9 227.7 821.4 226.4 827.8C225 834.1 220.9 844.3 219.8 847.6" fill="none" stroke="#b98542" stroke-width="1.3" stroke-linecap="round" />
<path d="M315.5 789.8C314.6 793.1 311.1 803.3 310.5 809.6C310 815.9 310.8 821.4 312.2 827.8C313.5 834.1 317.7 844.3 318.8 847.6" fill="none" stroke="#b98542" stroke-width="1.3" stroke-linecap="round" />
<path d="M234.6 789.8C235.7 792 240.4 799.7 241.2 803C242 806.3 239.8 808.5 239.6 809.6" fill="none" stroke="#b98542" stroke-width="1.1" stroke-linecap="round" />
<path d="M303.9 789.8C302.8 792 298.1 799.7 297.3 803C296.5 806.3 298.7 808.5 299 809.6" fill="none" stroke="#b98542" stroke-width="1.1" stroke-linecap="round" />
<path d="M242.9 789.8C243.7 786.7 249.1 788 252.8 788.2C256.4 788.3 265.5 790.6 270.1 790.6C274.7 790.6 283.8 788.2 287.4 788.2C291 788.2 296.4 787.5 297.3 790.6C298.2 793.7 295.1 805.2 294 811.3C292.9 817.3 290.4 829.2 289.1 836C287.7 842.8 285.4 856.2 284.1 862.4C282.8 868.6 281 879.1 279.2 882.2C277.3 885.3 272.5 885.5 270.1 885.5C267.7 885.5 262.9 885.3 261 882.2C259.1 879.1 257.4 868.6 256.1 862.4C254.7 856.2 252.4 842.8 251.1 836C249.8 829.2 247.3 817.4 246.2 811.3C245.1 805.1 242 792.9 242.9 789.8Z" fill="#f0c67c" stroke="#c09048" stroke-width="0.5" stroke-linejoin="round" />
<path d="M249.5 794.8C250.7 791.5 259.2 791.5 261 794.8C262.8 798.1 262.2 812.2 262.7 819.5C263.1 826.8 264.2 841.7 264.3 849.2C264.4 856.7 264 873 263.5 875.6C262.9 878.3 261.2 873.2 260.2 869C259.2 864.8 257.2 850.9 256.1 844.3C255 837.7 252.8 826.1 251.9 819.5C251.1 812.9 248.2 798.1 249.5 794.8Z" fill="#f7d895" stroke="none" stroke-width="0" stroke-linejoin="round" />
<ellipse cx="269.3" cy="800.5" rx="3" ry="6.6" fill="#f9e2ac" stroke="#b98a3c" stroke-width="0.5" />
<ellipse cx="269.3" cy="831.1" rx="3.6" ry="11.5" fill="#f9e2ac" stroke="#b98a3c" stroke-width="0.5" />
<ellipse cx="270.1" cy="862.4" rx="3" ry="8.2" fill="#f9e2ac" stroke="#b98a3c" stroke-width="0.5" />
<ellipse cx="242.9" cy="813.7" rx="3.7" ry="3.7" fill="#c08a42" stroke="none" stroke-width="0" transform="rotate(-25 242.9 813.7)" />
<ellipse cx="243.5" cy="814.2" rx="2.4" ry="2.4" fill="#ffffff" stroke="none" stroke-width="0" transform="rotate(-25 243.5 814.2)" />
<ellipse cx="244.5" cy="841.8" rx="5.9" ry="5.7" fill="#c08a42" stroke="none" stroke-width="0" transform="rotate(-25 244.5 841.8)" />
<ellipse cx="245.1" cy="842.3" rx="4.6" ry="4.4" fill="#ffffff" stroke="none" stroke-width="0" transform="rotate(-25 245.1 842.3)" />
<ellipse cx="247" cy="864.1" rx="5.5" ry="5.2" fill="#c08a42" stroke="none" stroke-width="0" transform="rotate(-25 247 864.1)" />
<ellipse cx="247.6" cy="864.6" rx="4.2" ry="3.9" fill="#ffffff" stroke="none" stroke-width="0" transform="rotate(-25 247.6 864.6)" />
<ellipse cx="245.3" cy="880.6" rx="5.9" ry="4.5" fill="#c08a42" stroke="none" stroke-width="0" transform="rotate(-25 245.3 880.6)" />
<ellipse cx="245.9" cy="881.1" rx="4.6" ry="3.2" fill="#ffffff" stroke="none" stroke-width="0" transform="rotate(-25 245.9 881.1)" />
<ellipse cx="294" cy="813.7" rx="4.5" ry="4.7" fill="#c08a42" stroke="none" stroke-width="0" transform="rotate(25 294 813.7)" />
<ellipse cx="293.4" cy="814.2" rx="3.2" ry="3.4" fill="#ffffff" stroke="none" stroke-width="0" transform="rotate(25 293.4 814.2)" />
<ellipse cx="292.4" cy="841.8" rx="5.9" ry="5.7" fill="#c08a42" stroke="none" stroke-width="0" transform="rotate(25 292.4 841.8)" />
<ellipse cx="291.8" cy="842.3" rx="4.6" ry="4.4" fill="#ffffff" stroke="none" stroke-width="0" transform="rotate(25 291.8 842.3)" />
<ellipse cx="287.4" cy="864.9" rx="5.5" ry="5.2" fill="#c08a42" stroke="none" stroke-width="0" transform="rotate(25 287.4 864.9)" />
<ellipse cx="286.8" cy="865.4" rx="4.2" ry="3.9" fill="#ffffff" stroke="none" stroke-width="0" transform="rotate(25 286.8 865.4)" />
<ellipse cx="286.6" cy="880.6" rx="5.9" ry="4.3" fill="#c08a42" stroke="none" stroke-width="0" transform="rotate(25 286.6 880.6)" />
<ellipse cx="286" cy="881.1" rx="4.6" ry="3" fill="#ffffff" stroke="none" stroke-width="0" transform="rotate(25 286 881.1)" />
<ellipse cx="270.1" cy="786.5" rx="13" ry="2" fill="#7d5a28" stroke="none" stroke-width="0" />
<path d="M261 883.9C261.9 881.1 268 879.7 270.1 879.7C272.2 879.7 278.2 881.1 279.2 883.9C280.1 886.7 279.4 901.1 278.3 903.7C277.3 906.3 271.9 906.1 270.1 906.1C268.2 906.1 263.4 906.3 262.3 903.7C261.3 901.1 260.1 886.7 261 883.9Z" fill="#d9a55c" stroke="#a3773a" stroke-width="0.7" stroke-linejoin="round" />
<path d="M264 888.8C264.6 887.1 268.7 886.3 270.1 886.3C271.5 886.3 275.5 887.1 276.2 888.8C276.9 890.5 276.6 899.6 275.9 901.2C275.1 902.8 271.4 902.8 270.1 902.8C268.8 902.8 265.3 902.8 264.6 901.2C263.9 899.6 263.3 890.5 264 888.8Z" fill="#ecc27a" stroke="none" stroke-width="0" stroke-linejoin="round" />
<ellipse cx="270.1" cy="883.9" rx="1.2" ry="1.6" fill="#5f4018" stroke="none" stroke-width="0" />
<path d="M259.7 910.3C261.2 910.4 265.7 911.1 268.8 911.1C271.8 911.1 276.3 910.4 277.8 910.3" fill="none" stroke="#a3773a" stroke-width="0.6" stroke-linecap="round" />
<path d="M261.8 916C263 916.2 266.5 916.9 268.8 916.9C271.1 916.9 274.5 916.2 275.7 916" fill="none" stroke="#a3773a" stroke-width="0.6" stroke-linecap="round" />
<path d="M263.8 921C264.6 921.1 267.1 921.8 268.8 921.8C270.4 921.8 272.9 921.1 273.7 921" fill="none" stroke="#a3773a" stroke-width="0.6" stroke-linecap="round" />
<path d="M265.8 925.1C266.3 925.3 267.8 925.9 268.8 925.9C269.8 925.9 271.2 925.3 271.7 925.1" fill="none" stroke="#a3773a" stroke-width="0.6" stroke-linecap="round" />
<path d="M218.1 852.5C222.2 846.2 238.5 821.1 242.9 814.6C247.3 808 244.2 813.5 244.5 813.2" fill="none" stroke="#fff3d6" stroke-width="0.9" stroke-linecap="round" /></g>
<g><path d="M620.8 161.2C621.3 159.2 623.1 156.1 626.4 152.8C629.7 149.5 636.2 144.9 640.4 141.6C644.6 138.3 648.8 135.8 651.6 133.2C654.4 130.6 654.9 128 657.2 126.2C659.5 124.4 662.8 122.8 665.6 122.6C668.4 122.3 671.2 124 674 124.8C676.8 125.6 680.1 125.3 682.4 127.6C684.7 129.9 687.2 135.1 688 138.8C688.8 142.5 688.1 147.1 687.2 150C686.2 152.9 685.1 155.1 682.4 156.2C679.8 157.2 674.2 157 671.2 156.2C668.2 155.4 665.8 151.5 664.2 151.4C662.6 151.3 664.4 155.1 661.4 155.6C658.4 156.1 650.9 153.5 646 154.2C641.1 154.9 635.7 158.1 632 159.8C628.3 161.5 625.5 164.3 623.6 164.6C621.7 164.8 620.3 163.2 620.8 161.2Z" fill="url(#b1)" stroke="#a3773a" stroke-width="0.9" stroke-linejoin="round"  filter="url(#vol)"/>
<ellipse cx="672.6" cy="137.4" rx="5" ry="8" fill="#d9a258" stroke="#a3773a" stroke-width="0.5" transform="rotate(-15 672.6 137.4)" />
<path d="M654.4 133.2C655.3 135.1 658.4 141.4 660 144.4C661.6 147.4 663.5 150.2 664.2 151.4" fill="none" stroke="#c98f45" stroke-width="1.0" stroke-linecap="round" /></g>
<g><path d="M744 156C744.7 155 748 154.2 750 154C752 153.8 756 154.2 758 154.5C760 154.8 762.6 154.9 764 156C765.4 157.1 766.5 160.8 768 162C769.5 163.2 773 164.1 775 164.5C777 164.9 779.9 165.1 782 165C784.1 164.9 788 164.6 790 164C792 163.4 794.6 162.2 796 161C797.4 159.8 798.5 156.5 800 155.5C801.5 154.5 804.9 154.2 807 154C809.1 153.8 813.1 153.7 815 154C816.9 154.3 819.8 154.7 820.5 156C821.2 157.3 819.6 161.2 820 163C820.4 164.8 822.7 167.3 823 169C823.3 170.7 822.8 173.7 822 175C821.2 176.3 818 176.9 817 178C816 179.1 816 181.8 815 183C814 184.2 811.5 186.2 810 186.5C808.5 186.8 805.4 185.9 804 185C802.6 184.1 801.3 180.4 800 180C798.7 179.6 796.5 181.3 795 182C793.5 182.7 789.7 183.9 789 185C788.3 186.1 789.7 188.6 790 190C790.3 191.4 791.4 194.2 791 195C790.6 195.8 788.1 195.9 787 195.5C785.9 195.1 784.1 191.9 783 192C781.9 192.1 780.1 195.6 779 196C777.9 196.4 775.4 196 775 195C774.6 194 775.8 190.4 776 189C776.2 187.6 777.2 185.8 776.5 185C775.8 184.2 772.6 183.8 771 183C769.4 182.2 766.1 179 765 179C763.9 179 764.1 182 763 183C761.9 184 758.7 185.7 757 186C755.3 186.3 752.3 185.8 751 185C749.7 184.2 749.3 181.1 748 180C746.7 178.9 743.2 178.1 742 177C740.8 175.9 739.4 173.5 739.5 172C739.6 170.5 742.2 167.5 743 166C743.8 164.5 744.9 162.4 745 161C745.1 159.6 743.3 157 744 156Z" fill="url(#b1)" stroke="#a3773a" stroke-width="0.9" stroke-linejoin="round"  filter="url(#vol)"/>
<ellipse cx="756.5" cy="179.5" rx="6.6" ry="6.2" fill="url(#b3)" stroke="#a3773a" stroke-width="0.6" />
<ellipse cx="808.5" cy="179.5" rx="6.6" ry="6.2" fill="url(#b3)" stroke="#a3773a" stroke-width="0.6" />
<path d="M765 160C765.7 159 766.5 162.6 768 163.5C769.5 164.4 772.9 165.7 775 166.2C777.1 166.7 779.8 166.9 782 166.8C784.2 166.7 787.9 166.4 790 165.8C792.1 165.2 794.6 163.7 796 162.8C797.4 161.9 798.2 158.9 799 160C799.8 161.1 800.9 167.2 801 170C801.1 172.8 800.9 177.3 800 179C799.1 180.7 796.6 180.7 795 181.5C793.4 182.3 791.7 183.8 789 184.2C786.3 184.6 779.7 184.5 777 184.2C774.3 183.9 772.8 183.1 771 182.2C769.2 181.3 766.1 180.3 765 178.5C763.9 176.7 763.5 172.8 763.5 170C763.5 167.2 764.3 161 765 160Z" fill="#f3cd86" stroke="#b98542" stroke-width="0.6" stroke-linejoin="round" />
<path d="M765 166.5C766.3 167.2 770.2 169.7 773 170.5C775.8 171.3 779 171.5 782 171.5C785 171.5 788.2 171.3 791 170.5C793.8 169.7 797.7 167.2 799 166.5" fill="none" stroke="#c8934a" stroke-width="1.0" stroke-linecap="round" />
<path d="M746 158C746.8 159.2 750.3 162.2 751 165C751.7 167.8 751 173.2 750 175C749 176.8 745.8 175.8 745 176" fill="none" stroke="#a3773a" stroke-width="0.8" stroke-linecap="round" />
<path d="M819 158C818.2 159.2 814.7 162.2 814 165C813.3 167.8 814 173.2 815 175C816 176.8 819.2 175.8 820 176" fill="none" stroke="#a3773a" stroke-width="0.8" stroke-linecap="round" />
<path d="M755 157C755.5 158.3 756.5 162.7 758 165C759.5 167.3 763 170 764 171" fill="none" stroke="#fbe2ac" stroke-width="1.2" stroke-linecap="round" />
<path d="M810 157C809.5 158.3 808.5 162.7 807 165C805.5 167.3 802 170 801 171" fill="none" stroke="#fbe2ac" stroke-width="1.2" stroke-linecap="round" />
<path d="M783 185C783 185.7 783 187.8 783 189C783 190.2 782.8 191.5 782.8 192" fill="none" stroke="#a3773a" stroke-width="0.8" stroke-linecap="round" /></g>
<g><path d="M654.4 234.8C654.8 232.9 657.6 233 658.6 233.4C659.7 233.8 660.6 237.6 661.4 237.6C662.2 237.6 662.9 233.6 664.2 233.4C665.5 233.2 669.2 234.3 669.8 236.2C670.4 238.1 668.2 243.3 668.4 246C668.6 248.7 669.1 251.7 671.2 254.4C673.3 257.1 679.1 262.3 682.4 264.2C685.8 266.1 691.1 265.5 693.6 267C696.1 268.5 698.6 271.7 699.2 274C699.8 276.3 697.4 280.3 697.8 282.4C698.2 284.5 702.2 286.5 702 288C701.8 289.5 698.1 290.7 696.4 292.2C694.7 293.7 692.7 297.4 690.8 297.8C688.9 298.2 685.5 294.6 683.8 295C682.1 295.4 681.1 299.4 679.6 300.6C678.1 301.9 679.1 303 674 303.4C669 303.8 650.8 303.8 646 303.4C641.2 303 643.1 301.9 641.8 300.6C640.5 299.4 639.3 295.4 637.6 295C635.9 294.6 632.5 298.2 630.6 297.8C628.7 297.4 626.7 293.7 625 292.2C623.3 290.7 619.6 289.5 619.4 288C619.2 286.5 623.2 284.5 623.6 282.4C624 280.3 621.4 276.3 622.2 274C623 271.7 626.5 268.5 629.2 267C631.9 265.5 637.3 265.9 640.4 264.2C643.6 262.5 647.9 258.5 650.2 255.8C652.5 253.1 655.2 249.2 655.8 246C656.4 242.9 654 236.7 654.4 234.8Z" fill="url(#b1)" stroke="#a3773a" stroke-width="0.9" stroke-linejoin="round"  filter="url(#vol)"/>
<path d="M661.4 261.4C658.7 261.4 644.7 277.3 644.6 279.1C644.5 280.8 657.3 282.4 660 282.4C662.7 282.4 676.7 280.8 676.8 279.1C676.9 277.3 664.1 261.4 661.4 261.4Z" fill="#ffffff" stroke="#a3773a" stroke-width="0.5" stroke-linejoin="round" />
<path d="M646 282.4C648.4 281.4 656.1 284.7 660 284.7C663.9 284.7 672.9 281.4 675.4 282.4C677.9 283.4 679.1 289.6 679.1 292.2C679.1 294.8 679.8 300.7 675.4 302C671 303.3 650.4 303.3 646 302C641.6 300.7 642.4 294.8 642.4 292.2C642.4 289.6 643.7 283.4 646 282.4Z" fill="url(#b4)" stroke="#a3773a" stroke-width="0.8" stroke-linejoin="round"  filter="url(#vol2)"/>
<path d="M648.8 285.8C650.7 285.1 656.8 287.5 660 287.5C663.2 287.5 670.6 285.1 672.6 285.8C674.6 286.4 674.9 290.7 674.9 292.5C674.9 294.3 676.1 298.3 672.6 299.2C669.1 300.1 652.4 300.1 648.8 299.2C645.3 298.3 646 294.3 646 292.5C646 290.7 646.9 286.4 648.8 285.8Z" fill="url(#sp)" stroke="none" stroke-width="0" stroke-linejoin="round" />
<ellipse cx="633.4" cy="288.6" rx="3.6" ry="3.2" fill="#ffffff" stroke="#a3773a" stroke-width="0.5" />
<ellipse cx="685.2" cy="288.6" rx="3.6" ry="3.2" fill="#ffffff" stroke="#a3773a" stroke-width="0.5" />
<ellipse cx="632" cy="274" rx="7" ry="5" fill="#f0d290" stroke="#c09040" stroke-width="0.5" transform="rotate(-30 632 274)" />
<ellipse cx="689.4" cy="274" rx="7" ry="5" fill="#f0d290" stroke="#c09040" stroke-width="0.5" transform="rotate(30 689.4 274)" /></g>
<g><path d="M746 315C746.3 313.5 747.7 311.3 749 310C750.3 308.7 753.3 307.3 755 306C756.7 304.7 759.9 302.7 761 301C762.1 299.3 763.1 296.1 763 294C762.9 291.9 760.7 288.2 760 286C759.3 283.8 758.4 280.5 758 278C757.6 275.5 757.2 270.4 757.5 268C757.8 265.6 758.8 262.3 760 261C761.2 259.7 764.5 258.9 766 259C767.5 259.1 769.9 260.7 771 262C772.1 263.3 773.2 266.9 774 268C774.8 269.1 775.9 270.3 777 270C778.1 269.7 780.3 266.8 782 266C783.7 265.2 786.8 264.2 789 264.5C791.2 264.8 795.5 266.7 798 268C800.5 269.3 804.8 272.3 807 274C809.2 275.7 812.9 278.2 814 280C815.1 281.8 814.6 285.5 815 287C815.4 288.5 816.2 289.7 817 291C817.8 292.3 820.4 294.2 821 296C821.6 297.8 821.4 302.2 821 304C820.6 305.8 819.3 308 818 309C816.7 310 813.1 310.2 812 311C810.9 311.8 810.1 313.5 810 315C809.9 316.5 811.4 320.3 811 322C810.6 323.7 808.5 326 807 327C805.5 328 801.8 329.1 800 329C798.2 328.9 795.3 327.3 794 326C792.7 324.7 792 321.5 791 320C790 318.5 788.4 315.8 787 315C785.6 314.2 783 314.1 781 314C779 313.9 775.2 313.6 773 314C770.8 314.4 767.1 315.9 765 317C762.9 318.1 760 321 758 322C756 323 752.5 324.1 751 324C749.5 323.9 747.7 322.3 747 321C746.3 319.7 745.7 316.5 746 315Z" fill="url(#b2)" stroke="#a3773a" stroke-width="0.9" stroke-linejoin="round"  filter="url(#vol)"/>
<path d="M779 273C780.2 272 783.7 274.7 787 276C790.3 277.3 795.3 279.8 799 281C802.7 282.2 807.7 281.5 809 283C810.3 284.5 808.7 288.5 807 290C805.3 291.5 801.7 291.1 799 292C796.3 292.9 793.7 295.7 791 295.5C788.3 295.3 784.8 293.2 783 291C781.2 288.8 780.7 285 780 282C779.3 279 777.8 274 779 273Z" fill="#d9a358" stroke="none" stroke-width="0" stroke-linejoin="round" />
<path d="M779 270C780.2 268.6 784.7 266.7 788 266.8C791.3 266.9 795.2 268.5 799 270.5C802.8 272.5 809.2 276.8 811 279C812.8 281.2 811.5 283 809.5 283.5C807.5 284 802.4 282.9 799 282.2C795.6 281.5 792.1 280.4 789 279.2C785.9 278 782.2 276.7 780.5 275.2C778.8 273.7 777.8 271.4 779 270Z" fill="#f3cc86" stroke="#a3773a" stroke-width="0.7" stroke-linejoin="round" />
<path d="M783 271.5C783.8 270.8 786.5 269.3 789 269.5C791.5 269.7 795.3 271.2 798 272.5C800.7 273.8 804 276.2 805 277.5C806 278.8 805.3 279.7 804 280C802.7 280.3 799.5 279.7 797 279.2C794.5 278.7 791.2 277.7 789 276.8C786.8 275.9 785 274.9 784 274C783 273.1 782.2 272.2 783 271.5Z" fill="#e6b468" stroke="none" stroke-width="0" stroke-linejoin="round" />
<path d="M776.5 283C777.1 283.3 778.2 290.6 779 292C779.8 293.4 784.2 296.6 784 297C783.8 297.4 778.5 296.4 777 296.2C775.5 296 769.4 295.7 769 295C768.6 294.3 772.2 290.2 773 289C773.8 287.8 775.9 282.7 776.5 283Z" fill="#ffffff" stroke="#a3773a" stroke-width="0.5" stroke-linejoin="round" />
<ellipse cx="814.2" cy="301" rx="2" ry="3.2" fill="#ffffff" stroke="#a3773a" stroke-width="0.5" transform="rotate(10 814.2 301)" />
<ellipse cx="765" cy="269.5" rx="5.2" ry="9.2" fill="url(#b3)" stroke="#c09048" stroke-width="0.5" transform="rotate(-8 765 269.5)" />
<ellipse cx="801.2" cy="296.8" rx="8.2" ry="5.4" fill="url(#b3)" stroke="#a3773a" stroke-width="0.6" transform="rotate(-32 801.2 296.8)" />
<path d="M763 295C764.3 295.5 767.7 297.3 771 298C774.3 298.7 779.3 298.3 783 299C786.7 299.7 791.3 301.5 793 302" fill="none" stroke="#a3773a" stroke-width="0.8" stroke-linecap="round" />
<path d="M809 292C809.8 292.5 812.7 293.3 814 295C815.3 296.7 816.8 299.8 817 302C817.2 304.2 815.3 307 815 308" fill="none" stroke="#a3773a" stroke-width="0.7" stroke-linecap="round" />
<path d="M777 271C777.2 271.8 778 274 778 276C778 278 777.2 281.8 777 283" fill="none" stroke="#a3773a" stroke-width="0.7" stroke-linecap="round" />
<path d="M794 312C794.8 313.2 797.2 317 799 319C800.8 321 804 323.2 805 324" fill="none" stroke="#c98f45" stroke-width="1.0" stroke-linecap="round" /></g>
<g><path d="M660 381.2C660.8 381.2 662.2 388.1 662.8 391C663.4 393.9 663.2 399.3 664.2 402.2C665.2 405.1 668 410.2 669.8 412C671.6 413.8 673.9 415.2 676.8 414.8C679.8 414.4 687.3 411 690.8 409.2C694.3 407.4 699.5 403.2 702 402.2C704.6 401.2 707.8 401.2 709 402.2C710.2 403.2 711 407.2 710.4 409.2C709.8 411.2 707.6 414.4 704.8 416.2C702.1 418 694.3 420.2 690.8 421.8C687.3 423.4 682 426 679.6 427.4C677.3 428.8 674.4 430.2 674 431.6C673.6 433 675.4 436.4 676.8 437.2C678.2 438 682.4 436.4 683.8 437.2C685.2 438 686.6 441.2 686.6 442.8C686.6 444.4 684.8 447.4 683.8 448.4C682.8 449.4 679.8 448 679.6 449.8C679.4 451.6 682.8 457.9 682.4 461C682 464.2 679.2 469.9 676.8 472.2C674.5 474.6 668.7 477 665.6 477.8C662.5 478.6 657.5 478.6 654.4 477.8C651.3 477 645.4 474.6 643.2 472.2C641.1 469.9 639.4 464.2 639 461C638.6 457.9 640.8 451.6 640.4 449.8C640 448 637 449.4 636.2 448.4C635.4 447.4 634.6 444.4 634.8 442.8C635 441.2 636.2 438 637.6 437.2C639 436.4 643.2 438 644.6 437.2C646 436.4 647.8 433 647.4 431.6C647 430.2 644 428.8 641.8 427.4C639.6 426 635.3 423 632 421.8C628.7 420.6 620.9 420.2 618 419C615.1 417.8 612 415.4 611 413.4C610 411.4 610 406.4 611 405C612 403.6 615.5 403.2 618 403.6C620.6 404 625.7 406.2 629.2 407.8C632.7 409.4 640.3 414.2 643.2 414.8C646.1 415.4 648.4 413.8 650.2 412C652 410.2 654.8 405.1 655.8 402.2C656.8 399.3 656.6 393.9 657.2 391C657.8 388.1 659.2 381.2 660 381.2Z" fill="url(#b1)" stroke="#a3773a" stroke-width="0.9" stroke-linejoin="round"  filter="url(#vol)"/>
<path d="M646 440C649 438.8 655.3 442.8 660 442.8C664.7 442.8 670.8 438.8 674 440C677.2 441.2 678 446.3 679.1 449.8C680.1 453.3 680.8 457.5 680.2 461C679.6 464.5 677.9 468.4 675.4 470.8C672.9 473.2 668.5 474.8 665 475.6C661.6 476.4 658.3 476.4 655 475.6C651.7 474.8 647.5 473.2 645.2 470.8C642.8 468.4 641.5 464.5 641 461C640.4 457.5 641 453.3 641.8 449.8C642.6 446.3 643 441.2 646 440Z" fill="url(#sp)" stroke="#d9ad58" stroke-width="0.5" stroke-linejoin="round" />
<ellipse cx="660.6" cy="429.1" rx="10" ry="9.6" fill="#ffffff" stroke="#a3773a" stroke-width="0.7" />
<path d="M660 385.4C660.1 388.2 660.3 396.8 660.3 402.2C660.3 407.6 660.1 415 660 417.6" fill="none" stroke="#c98f45" stroke-width="0.9" stroke-linecap="round" />
<path d="M618 408.4C620.3 409.4 627.3 412.8 632 414.8C636.7 416.8 643.7 419.5 646 420.4" fill="none" stroke="#c98f45" stroke-width="0.9" stroke-linecap="round" />
<path d="M703.4 407.2C701.1 408.5 694.1 412.6 689.4 414.8C684.7 417 677.7 419.5 675.4 420.4" fill="none" stroke="#c98f45" stroke-width="0.9" stroke-linecap="round" /></g>
<g><path d="M769.2 438.6C770 437.2 771.2 436 772 437.2C772.8 438.4 772.9 445.1 774.8 447C776.8 449 783.7 450.4 786 451.2C788.4 452 786.1 452.6 791.6 452.6C797.1 452.6 820.1 449.3 825.2 451.2C830.3 453.2 827.8 462.5 828 466.6C828.2 470.7 831.7 478.7 826.6 480.6C821.5 482.6 797.7 480.8 791.6 480.6C785.5 480.4 784.8 480.4 783.2 479.2C781.7 478 781.6 473.6 780.4 472.2C779.2 470.8 776.4 468.2 774.8 469.4C773.3 470.6 770.8 477.5 769.2 480.6C767.7 483.8 765.6 488.3 763.6 491.8C761.7 495.3 758 501.9 755.2 505.8C752.5 509.7 746.6 517.5 744 519.8C741.5 522.2 738.2 523.4 737 522.6C735.8 521.8 735 517 735.6 514.2C736.2 511.5 739.3 506.9 741.2 503C743.2 499.1 747.7 490.5 749.6 486.2C751.6 481.9 755.2 475.2 755.2 472.2C755.2 469.3 750.8 467.4 749.6 465.2C748.4 463.1 746.6 458.8 746.8 456.8C747 454.9 749.1 452.2 751 451.2C753 450.2 758.7 450.4 760.8 449.8C763 449.2 765.2 448.6 766.4 447C767.6 445.4 768.4 440 769.2 438.6Z" fill="url(#b1)" stroke="#a3773a" stroke-width="0.9" stroke-linejoin="round"  filter="url(#vol)"/>
<ellipse cx="754.7" cy="457.7" rx="5.5" ry="4.5" fill="#f9dfa4" stroke="#a3773a" stroke-width="0.5" transform="rotate(-20 754.7 457.7)" />
<path d="M760.8 452.6C763.2 453.5 770.6 457.7 774.8 458.2C779 458.7 784.2 455.9 786 455.4" fill="none" stroke="#c98f45" stroke-width="1.2" stroke-linecap="round" />
<ellipse cx="783.8" cy="474.5" rx="3.5" ry="3" fill="#c08d3c" stroke="#a3773a" stroke-width="0.4" />
<path d="M792.2 454C792.5 456.1 793.9 462.4 793.9 466.6C793.9 470.8 792.5 477.1 792.2 479.2" fill="none" stroke="#d8a853" stroke-width="0.9" stroke-linecap="round" />
<path d="M760.8 472.2C759.4 475.5 755.5 484.8 752.4 491.8C749.4 498.8 744.3 510.5 742.6 514.2" fill="none" stroke="#c98f45" stroke-width="0.9" stroke-linecap="round" /></g>
<g><path d="M594.5 568C594.9 566.6 596.8 564.6 598 564C599.2 563.4 602.1 565.3 603 564C603.9 562.7 603.8 557.2 604.5 555C605.2 552.8 606.7 549.3 608 548C609.3 546.7 612.5 545.7 614 546C615.5 546.3 617.9 548.6 619 550C620.1 551.4 620.6 555.4 622 556C623.4 556.6 627.6 555.8 629 554.5C630.4 553.2 630.6 548.8 632 547C633.4 545.2 637.2 541.9 639 541.5C640.8 541.1 643.9 542.8 645 544C646.1 545.2 646.4 548.6 647 550C647.6 551.4 647.6 553.2 649 554C650.4 554.8 654.8 555 657 556C659.2 557 663.4 559 665 561C666.6 563 668.1 567.3 668.5 570C668.9 572.7 668 577.1 668 580C668 582.9 668.5 588.1 668.5 591C668.5 593.9 668.5 598.5 668 601C667.5 603.5 666.5 607.2 665 609C663.5 610.8 659.8 613 657 614C654.2 615 648.5 616.2 645 616.5C641.5 616.8 635.2 616.5 632 616C628.8 615.5 624.5 614.3 622 613C619.5 611.7 615.7 609 614 607C612.3 605 610.6 601.5 610 599C609.4 596.5 610.1 591.4 610 589C609.9 586.6 609.8 583.3 609 582C608.2 580.7 605.5 580.6 604 580C602.5 579.4 599.3 578.8 598 578C596.7 577.2 595.5 575.4 595 574C594.5 572.6 594.1 569.4 594.5 568Z" fill="url(#b2)" stroke="#a3773a" stroke-width="0.9" stroke-linejoin="round"  filter="url(#vol)"/>
<ellipse cx="639.7" cy="573.5" rx="28.5" ry="16.5" fill="#a59a96" stroke="#857a72" stroke-width="0.6" />
<ellipse cx="639.5" cy="570.2" rx="28.5" ry="15.5" fill="#cbc4c4" stroke="#a9a09c" stroke-width="0.5" />
<ellipse cx="639.5" cy="569.5" rx="24" ry="12" fill="#d6d0d0" stroke="none" stroke-width="0" />
<ellipse cx="639" cy="565" rx="18" ry="7.6" fill="#efcd88" stroke="#c9a050" stroke-width="0.5" />
<ellipse cx="630" cy="564" rx="2.6" ry="1.8" fill="#fbe6b0" stroke="none" stroke-width="0" />
<ellipse cx="636" cy="562" rx="2.6" ry="1.8" fill="#fbe6b0" stroke="none" stroke-width="0" />
<ellipse cx="643" cy="562.5" rx="2.6" ry="1.8" fill="#fbe6b0" stroke="none" stroke-width="0" />
<ellipse cx="649" cy="564.5" rx="2.6" ry="1.8" fill="#fbe6b0" stroke="none" stroke-width="0" />
<ellipse cx="633" cy="567.5" rx="2.6" ry="1.8" fill="#fbe6b0" stroke="none" stroke-width="0" />
<ellipse cx="639.5" cy="566.5" rx="2.6" ry="1.8" fill="#fbe6b0" stroke="none" stroke-width="0" />
<ellipse cx="646" cy="567.5" rx="2.6" ry="1.8" fill="#fbe6b0" stroke="none" stroke-width="0" />
<path d="M610.5 582C611.8 583.5 614.4 588.8 618 591C621.6 593.2 627.2 594.8 632 595.5C636.8 596.2 642.2 595.8 647 595C651.8 594.2 657.5 593 661 591C664.5 589 667 584.3 668.2 583" fill="none" stroke="#a3773a" stroke-width="0.9" stroke-linecap="round" />
<path d="M611.2 585C612.5 586.5 615.5 591.8 619 594C622.5 596.2 627.3 597.8 632 598.5C636.7 599.2 642.2 598.8 647 598C651.8 597.2 657.5 596 661 594C664.5 592 666.8 587.3 668 586" fill="none" stroke="#fbe2ac" stroke-width="0.9" stroke-linecap="round" />
<path d="M618 598.7 L617.4 608.2" fill="none" stroke="#cf9a4c" stroke-width="0.6" stroke-linecap="round" />
<path d="M627 599.8 L626.7 610" fill="none" stroke="#cf9a4c" stroke-width="0.6" stroke-linecap="round" />
<path d="M637 601 L637 612" fill="none" stroke="#cf9a4c" stroke-width="0.6" stroke-linecap="round" />
<path d="M647 599.8 L647.3 610" fill="none" stroke="#cf9a4c" stroke-width="0.6" stroke-linecap="round" />
<path d="M657 598.6 L657.6 608" fill="none" stroke="#cf9a4c" stroke-width="0.6" stroke-linecap="round" /></g>
<g><path d="M704 600.6C704.5 599.2 706.4 597.9 708.2 597.6C710 597.3 713.9 598 716.6 598.8C719.3 599.6 724.4 602.2 727.4 603C730.4 603.8 736.2 604.9 738.2 604.2C740.2 603.5 741 599.8 741.8 598.2C742.6 596.6 743.6 593.5 744.2 592.8C744.8 592.1 745.5 592.3 746 593.4C746.5 594.5 746.5 599.6 747.8 600.6C749.1 601.6 752.6 600.4 755 600.6C757.4 600.8 762.9 602.1 764.6 601.8C766.3 601.5 765.3 599.2 767 598.2C768.7 597.2 773.6 595.2 776.6 594.6C779.6 594 785.4 593.5 788.6 594C791.8 594.5 797.1 596.4 799.4 598.2C801.7 600 804.2 603.7 804.8 606.6C805.4 609.5 804 615.7 803.6 618.6C803.2 621.5 801.9 624.5 801.8 627C801.7 629.5 803.3 634.1 803 636.6C802.7 639.1 801.1 643.2 799.4 645C797.7 646.8 793.2 648.9 791 649.8C788.8 650.7 785.6 651.5 783.8 651.6C782 651.7 779.5 651 777.8 650.4C776.1 649.8 773.1 648.7 771.8 647.4C770.5 646.1 768.9 643.4 768.2 641.4C767.5 639.4 767.8 634.2 767 633C766.2 631.8 762.9 631.7 762.2 633C761.5 634.3 761.9 639.9 762.2 642.6C762.5 645.3 763.9 649.5 764.6 652.2C765.3 654.9 767.2 659.3 767 661.8C766.8 664.3 764.7 668.6 763.4 670.2C762.1 671.8 759.1 673.4 757.4 673.2C755.7 673 752.4 670.9 751.4 669C750.4 667.1 750 662.1 750.2 659.4C750.4 656.7 752.3 652.7 752.6 649.8C752.9 646.9 753.3 640.8 752.6 639C751.9 637.2 749.5 636.3 747.8 636.6C746.1 636.9 742.8 639.2 740.6 641.4C738.4 643.6 734.7 648.7 732.2 652.2C729.7 655.7 725.1 662.9 722.6 666.6C720.1 670.3 716 676.2 714.2 678.6C712.4 681 710.5 683.2 709.4 683.4C708.3 683.6 706.6 681.5 706.4 679.8C706.2 678.1 706.9 674.6 708.2 671.4C709.5 668.2 713.2 661 715.4 657C717.6 653 721.8 646 723.8 642.6C725.8 639.2 729 635.5 729.8 633C730.6 630.5 730.5 626.6 729.8 624.6C729.1 622.6 726.8 619.9 725 618.6C723.2 617.3 719 615.8 716.6 615C714.2 614.2 709.9 613.6 708.2 612.6C706.5 611.6 705.2 609.5 704.6 607.8C704 606.1 703.5 602 704 600.6Z" fill="url(#b2)" stroke="#a3773a" stroke-width="0.9" stroke-linejoin="round"  filter="url(#vol)"/>
<path d="M747.8 603C749.8 601.4 754.2 602.4 757.4 603C760.6 603.6 764.8 604.4 767 606.6C769.2 608.8 771.4 614.8 770.6 616.2C769.8 617.6 765.2 615.4 762.2 615C759.2 614.6 755 613 752.6 613.8C750.2 614.6 749 620 747.8 619.8C746.6 619.6 745.4 615.4 745.4 612.6C745.4 609.8 745.8 604.6 747.8 603Z" fill="#9c6e30" stroke="none" stroke-width="0" stroke-linejoin="round" />
<ellipse cx="754.6" cy="609" rx="1.2" ry="2.2" fill="#4f3512" stroke="none" stroke-width="0" />
<ellipse cx="786.2" cy="609.6" rx="18.5" ry="15" fill="#f6d690" stroke="#a3773a" stroke-width="0.7" transform="rotate(-8 786.2 609.6)" />
<ellipse cx="786.4" cy="608.8" rx="15.5" ry="12" fill="url(#sp)" stroke="#d6a356" stroke-width="0.4" transform="rotate(-8 786.4 608.8)" />
<path d="M768.2 616.2C769.6 617.6 772.8 623.2 776.6 624.6C780.4 626 786.7 625.6 791 624.6C795.3 623.6 800.5 619.6 802.4 618.6" fill="none" stroke="#b98542" stroke-width="1.4" stroke-linecap="round" />
<path d="M744.2 592.8C745.1 590.8 745.8 592.3 746.4 594.6C747 596.9 747.8 602.4 747.8 606.6C747.8 610.8 747.5 616.2 746.6 619.8C745.7 623.4 743.4 628 742.4 628.2C741.4 628.4 740.8 624.6 740.6 621C740.4 617.4 740.6 611.3 741.2 606.6C741.8 601.9 743.3 594.8 744.2 592.8Z" fill="url(#b3)" stroke="#a3773a" stroke-width="0.6" stroke-linejoin="round" />
<ellipse cx="759.2" cy="624" rx="8.2" ry="8" fill="url(#b3)" stroke="#a3773a" stroke-width="0.7" />
<ellipse cx="746" cy="622" rx="1" ry="2.2" fill="#ffffff" stroke="none" stroke-width="0" />
<path d="M729.8 633C731.6 632.4 737.6 628.8 740.6 629.4C743.6 630 746.6 635.4 747.8 636.6" fill="none" stroke="#a3773a" stroke-width="0.7" stroke-linecap="round" />
<path d="M731 635.4C729.6 638.2 726 645 722.6 652.2C719.2 659.4 712.6 674.2 710.6 678.6" fill="none" stroke="#c98f45" stroke-width="1.0" stroke-linecap="round" />
<path d="M757.4 633C757.6 636.2 758.2 646.2 758.6 652.2C759 658.2 759.6 666.2 759.8 669" fill="none" stroke="#c98f45" stroke-width="1.0" stroke-linecap="round" />
<path d="M773 624.6C774 625.6 778.2 628.2 779 630.6C779.8 633 778 637.6 777.8 639" fill="none" stroke="#a3773a" stroke-width="0.7" stroke-linecap="round" />
<ellipse cx="781.4" cy="625.8" rx="4.5" ry="3" fill="#f4cf8a" stroke="#c09048" stroke-width="0.5" transform="rotate(-20 781.4 625.8)" /></g>
<g><path d="M604.9 791C605.2 787.2 606.9 779.8 608.5 776.6C610.1 773.5 614 770 616.6 768.5C619.3 767 624.6 765.6 627.4 765.8C630.2 766.1 634.7 770.2 636.4 770.3C638.2 770.4 638.8 767.5 640 766.7C641.3 765.9 643.9 764.5 645.4 764.9C646.9 765.3 649.6 767.8 650.8 769.4C652.1 771 651.8 775.1 654.4 776.6C657.1 778.1 665.4 780.2 669.7 780.2C674 780.2 682.4 778.2 685 776.6C687.7 775 687.5 770.1 688.6 768.5C689.8 766.9 691.6 765 693.1 764.9C694.7 764.8 698.1 766.7 699.4 767.6C700.8 768.5 701.3 771.3 703 771.2C704.8 771.1 709.3 767.1 712.1 766.7C714.8 766.3 720.3 767.1 722.9 768.5C725.4 769.9 728.5 773.5 730.1 776.6C731.6 779.8 733.3 787.2 733.7 791C734 794.8 733.8 800.3 732.8 803.6C731.8 806.9 728.1 811.9 726.5 814.4C724.8 816.9 721.9 819.1 721.1 821.6C720.2 824.2 720.7 829.4 720.2 832.4C719.7 835.5 718.3 840.2 717.5 843.2C716.6 846.3 715.4 850.8 713.9 854C712.3 857.3 708.7 863.4 706.7 866.7C704.6 869.9 702 874.9 699.4 877.5C696.9 880 690.9 883 688.6 884.7C686.4 886.3 683.9 887.8 683.2 889.2C682.6 890.5 684.6 893.2 684.1 894.6C683.6 896 680.6 897.2 679.6 899.1C678.6 901 677.8 905.3 676.9 908.1C676.1 910.8 674.3 916.1 673.3 918.9C672.3 921.6 670.6 926.4 669.7 927.9C668.9 929.4 667.8 929.9 667 929.7C666.3 929.4 665.2 928.1 664.3 926.1C663.4 924.1 661.7 918 660.7 915.3C659.7 912.5 658.1 908.5 657.1 906.3C656.1 904 654.4 900.7 653.5 899.1C652.6 897.4 650.7 896 650.8 894.6C651 893.2 654.7 890.7 654.4 889.2C654.2 887.6 651 885.4 649 883.8C647 882.1 642.3 879.9 640 877.5C637.8 875.1 634.6 869.9 632.8 866.7C631.1 863.4 628.9 857.3 627.4 854C625.9 850.8 623.1 846.3 622 843.2C620.9 840.2 619.8 835.5 619.3 832.4C618.8 829.4 619.3 824.2 618.4 821.6C617.5 819.1 614.6 816.9 613 814.4C611.4 811.9 607.8 806.9 606.7 803.6C605.6 800.3 604.7 794.8 604.9 791Z" fill="url(#b5)" stroke="#a3773a" stroke-width="0.9" stroke-linejoin="round"  filter="url(#vol)"/>
<path d="M643.3 769.4C643.9 768.7 645.1 771.1 649 772.1C653 773.1 663.5 776.2 669.7 776.2C675.9 776.2 686.7 773.1 690.4 772.1C694.1 771.1 693.9 768.7 694.4 769.4C694.9 770.1 695.1 774.6 693.7 776.6C692.3 778.6 688.6 781.6 685 782.9C681.4 784.2 674.3 785.3 669.7 785.3C665.1 785.3 658.2 784.2 654.4 782.9C650.6 781.6 646.2 778.6 644.5 776.6C642.8 774.6 642.6 770.1 643.3 769.4Z" fill="#f7d898" stroke="#a3773a" stroke-width="0.7" stroke-linejoin="round" />
<path d="M647.2 774.8C651 775.7 662.4 780.2 669.7 780.2C677.1 780.2 687.7 775.7 691.3 774.8" fill="none" stroke="#c79a50" stroke-width="0.6" stroke-linecap="round" />
<path d="M654.4 791C656.8 784.7 664.6 789.2 669.7 789.2C674.8 789.2 682.8 784.7 685 791C687.3 797.3 683.8 815 683.2 827C682.6 839 682.6 853.1 681.4 863C680.2 873 678 882.3 676 886.5C674.1 890.7 671.8 888.3 669.7 888.3C667.6 888.3 665.5 890.7 663.4 886.5C661.3 882.3 658.5 873 657.1 863C655.8 853.1 655.8 839 655.3 827C654.9 815 652 797.3 654.4 791Z" fill="#f4cf8a" stroke="none" stroke-width="0" stroke-linejoin="round" opacity=".55"/>
<path d="M649.4 808.3C650.9 808.8 655 810.5 658.3 811.2C661.6 811.8 665.6 812.3 669.2 812.3C672.8 812.3 676.8 811.8 680.1 811.2C683.4 810.5 687.5 808.8 689 808.3" fill="none" stroke="#bf8c45" stroke-width="0.9" stroke-linecap="round" />
<path d="M659.3 812.4C660.9 812.6 665.9 813.5 669.2 813.5C672.5 813.5 677.4 812.6 679.1 812.4" fill="none" stroke="#fbe2ac" stroke-width="0.8" stroke-linecap="round" />
<path d="M650.3 829.9C651.7 830.4 655.6 832.1 658.8 832.8C661.9 833.5 665.7 833.9 669.2 833.9C672.7 833.9 676.4 833.5 679.6 832.8C682.7 832.1 686.7 830.4 688.1 829.9" fill="none" stroke="#bf8c45" stroke-width="0.9" stroke-linecap="round" />
<path d="M659.7 834.1C661.3 834.2 666 835.1 669.2 835.1C672.3 835.1 677.1 834.2 678.6 834.1" fill="none" stroke="#fbe2ac" stroke-width="0.8" stroke-linecap="round" />
<path d="M652.1 850.6C653.4 851.1 656.9 852.8 659.8 853.5C662.6 854.2 666.1 854.6 669.2 854.6C672.3 854.6 675.8 854.2 678.6 853.5C681.5 852.8 685 851.1 686.3 850.6" fill="none" stroke="#bf8c45" stroke-width="0.9" stroke-linecap="round" />
<path d="M660.6 854.8C662.1 854.9 666.3 855.8 669.2 855.8C672 855.8 676.3 854.9 677.7 854.8" fill="none" stroke="#fbe2ac" stroke-width="0.8" stroke-linecap="round" />
<path d="M653.9 872.2C655 872.7 658.2 874.5 660.8 875.1C663.3 875.8 666.4 876.2 669.2 876.2C672 876.2 675.1 875.8 677.6 875.1C680.2 874.5 683.4 872.7 684.5 872.2" fill="none" stroke="#bf8c45" stroke-width="0.9" stroke-linecap="round" />
<path d="M661.5 876.4C662.8 876.6 666.6 877.5 669.2 877.5C671.7 877.5 675.6 876.6 676.8 876.4" fill="none" stroke="#fbe2ac" stroke-width="0.8" stroke-linecap="round" />
<path d="M640 809C638.4 810.2 633.4 814.1 630.1 815.9C626.8 817.7 621.9 819.2 620.2 819.8" fill="none" stroke="#c8934a" stroke-width="1.3" stroke-linecap="round" />
<path d="M643.6 832.4C641.8 832.8 636.4 834.5 632.8 834.8C629.2 835.1 623.8 834.3 622 834.2" fill="none" stroke="#c8934a" stroke-width="1.3" stroke-linecap="round" />
<path d="M646.3 852.2C644.8 852.5 640.3 853.7 637.3 853.7C634.3 853.7 629.8 852.5 628.3 852.2" fill="none" stroke="#c8934a" stroke-width="1.3" stroke-linecap="round" />
<path d="M646.3 873C645.6 873.1 643.3 874.1 641.8 873.9C640.3 873.8 638.1 872.4 637.3 872.1" fill="none" stroke="#c8934a" stroke-width="1.3" stroke-linecap="round" />
<path d="M695.8 809C697.8 810.2 703.6 814.1 707.6 815.9C711.5 817.7 717.3 819.2 719.3 819.8" fill="none" stroke="#c8934a" stroke-width="1.3" stroke-linecap="round" />
<path d="M694.9 832.4C697 832.8 703 834.5 707.1 834.8C711.2 835.1 717.2 834.3 719.3 834.2" fill="none" stroke="#c8934a" stroke-width="1.3" stroke-linecap="round" />
<path d="M692.2 853.1C693.9 853.4 698.8 854.6 702.1 854.6C705.5 854.6 710.4 853.4 712.1 853.1" fill="none" stroke="#c8934a" stroke-width="1.3" stroke-linecap="round" />
<path d="M693.1 873.9C694 873.9 696.4 874.7 698.1 874.4C699.7 874.1 702.2 872.4 703 872.1" fill="none" stroke="#c8934a" stroke-width="1.3" stroke-linecap="round" />
<ellipse cx="643.6" cy="806" rx="6.2" ry="4.8" fill="#b98542" stroke="none" stroke-width="0" transform="rotate(-20 643.6 806)" />
<ellipse cx="643.6" cy="806.4" rx="4.8" ry="3.4" fill="#ffffff" stroke="none" stroke-width="0" transform="rotate(-20 643.6 806.4)" />
<ellipse cx="648.1" cy="828.8" rx="5.9" ry="5.8" fill="#b98542" stroke="none" stroke-width="0" />
<ellipse cx="648.1" cy="829.2" rx="4.5" ry="4.4" fill="#ffffff" stroke="none" stroke-width="0" />
<ellipse cx="649.9" cy="848.6" rx="5.3" ry="5.9" fill="#b98542" stroke="none" stroke-width="0" />
<ellipse cx="649.9" cy="849" rx="3.9" ry="4.5" fill="#ffffff" stroke="none" stroke-width="0" />
<ellipse cx="649" cy="870.3" rx="5.6" ry="5.4" fill="#b98542" stroke="none" stroke-width="0" />
<ellipse cx="649" cy="870.7" rx="4.2" ry="4" fill="#ffffff" stroke="none" stroke-width="0" />
<ellipse cx="690.4" cy="806.3" rx="6.4" ry="4.8" fill="#b98542" stroke="none" stroke-width="0" transform="rotate(20 690.4 806.3)" />
<ellipse cx="690.4" cy="806.7" rx="5" ry="3.4" fill="#ffffff" stroke="none" stroke-width="0" transform="rotate(20 690.4 806.7)" />
<ellipse cx="690.4" cy="828.8" rx="6.2" ry="6" fill="#b98542" stroke="none" stroke-width="0" />
<ellipse cx="690.4" cy="829.2" rx="4.8" ry="4.6" fill="#ffffff" stroke="none" stroke-width="0" />
<ellipse cx="687.7" cy="849.5" rx="5.5" ry="6.2" fill="#b98542" stroke="none" stroke-width="0" />
<ellipse cx="687.7" cy="849.9" rx="4.1" ry="4.8" fill="#ffffff" stroke="none" stroke-width="0" />
<ellipse cx="689.5" cy="871.2" rx="5.8" ry="5.6" fill="#b98542" stroke="none" stroke-width="0" />
<ellipse cx="689.5" cy="871.6" rx="4.4" ry="4.2" fill="#ffffff" stroke="none" stroke-width="0" />
<path d="M651 894.6C653.8 894.7 662.1 895.6 667.6 895.6C673.1 895.6 681.4 894.7 684.1 894.6" fill="none" stroke="#a3773a" stroke-width="0.7" stroke-linecap="round" />
<path d="M656.4 904.5C658.3 904.6 663.9 905.5 667.6 905.5C671.3 905.5 676.9 904.6 678.7 904.5" fill="none" stroke="#a3773a" stroke-width="0.7" stroke-linecap="round" />
<path d="M659.5 913.5C660.8 913.7 664.9 914.6 667.6 914.6C670.3 914.6 674.3 913.7 675.7 913.5" fill="none" stroke="#a3773a" stroke-width="0.7" stroke-linecap="round" />
<path d="M662.5 921.6C663.4 921.8 665.9 922.7 667.6 922.7C669.3 922.7 671.8 921.8 672.6 921.6" fill="none" stroke="#a3773a" stroke-width="0.7" stroke-linecap="round" /></g>
<g><path d="M483 161C483.5 159.3 485.7 156.3 487 154C488.3 151.7 489.3 148 491 147C492.7 146 494.7 148.2 497 148C499.3 147.8 502.3 147 505 146C507.7 145 510.8 143.1 513 142C515.2 140.9 515.8 139.8 518 139.5C520.2 139.2 523.3 140 526 140C528.7 140 531.8 139.8 534 139.5C536.2 139.2 538 136.8 539 138C540 139.2 540 144 540 147C540 150 539 153.5 539 156C539 158.5 540.6 160.8 539.8 161.8C539 162.8 536.3 162.2 534 161.8C531.7 161.4 528 160.4 526 159.6C524 158.8 524 157.3 522 157C520 156.7 516 157.2 514 157.5C512 157.8 511.8 158.6 510 159C508.2 159.4 505.5 159.3 503 160C500.5 160.7 497.5 162.2 495 163C492.5 163.8 489.8 164.8 488 165C486.2 165.2 484.8 164.7 484 164C483.2 163.3 482.5 162.7 483 161Z" fill="url(#bs)" stroke="#a3773a" stroke-width="0.8" stroke-linejoin="round"  filter="url(#vol2)"/>
<ellipse cx="525" cy="145.5" rx="4" ry="4.4" fill="#7a5522" stroke="#5f4018" stroke-width="0.5" />
<ellipse cx="525.6" cy="146" rx="2.1" ry="2.5" fill="#c99a45" stroke="none" stroke-width="0" />
<path d="M510 159C510.7 157.8 512 153.5 514 152C516 150.5 520 149.3 522 150C524 150.7 525.3 155 526 156" fill="none" stroke="#a3773a" stroke-width="0.7" stroke-linecap="round" />
<path d="M487 158C488 157.3 491.7 155.3 493 154C494.3 152.7 494.7 150.7 495 150" fill="none" stroke="#c98f45" stroke-width="0.9" stroke-linecap="round" />
<path d="M495 131C495.6 129.8 496.5 129.2 498 129C499.5 128.8 501.5 130.2 504 130C506.5 129.8 511.3 129.2 513 128C514.7 126.8 514.2 124.5 514 123C513.8 121.5 511.5 120 512 119C512.5 118 515 117.7 517 117C519 116.3 522.5 115.8 524 115C525.5 114.2 524.7 112.3 526 112C527.3 111.7 530 112 532 113C534 114 536.4 116.2 538 118C539.6 119.8 541.2 122 541.5 124C541.8 126 540.4 128 540 130C539.6 132 540 134.5 539 136C538 137.5 536.2 138.4 534 139C531.8 139.6 528.7 139.5 526 139.5C523.3 139.5 519.7 139.8 518 139C516.3 138.2 517.3 135.8 516 135C514.7 134.2 512.2 133.5 510 134C507.8 134.5 505.3 137 503 138C500.7 139 497.4 140.3 496 140C494.6 139.7 494.7 137.5 494.5 136C494.3 134.5 494.4 132.2 495 131Z" fill="url(#bs)" stroke="#a3773a" stroke-width="0.8" stroke-linejoin="round"  filter="url(#vol2)"/>
<path d="M517 123.8C518.2 123.7 521.8 123.2 524 123.2C526.2 123.2 529 123.9 530 124" fill="none" stroke="#6f4c1e" stroke-width="1.5" stroke-linecap="round" />
<path d="M516 135C517.3 134.7 521.3 133.2 524 133C526.7 132.8 529.5 134.2 532 134C534.5 133.8 537.8 132.3 539 132" fill="none" stroke="#c98f45" stroke-width="1.0" stroke-linecap="round" />
<path d="M531 115C531.7 116.3 534.5 120.2 535 123C535.5 125.8 534.2 130.5 534 132" fill="none" stroke="#c98f45" stroke-width="0.9" stroke-linecap="round" />
<path d="M513.1 160.3C511 159.7 505 165.3 502 166.9C499.1 168.6 492.3 171.6 490.7 172.9C489.1 174.2 489.8 175.9 490.2 176.8C490.5 177.6 491.3 179.4 493.3 179.1C495.4 178.9 502.2 176 505.5 175C508.8 174.1 516.9 173.7 518 171.7C519 169.7 515.2 160.9 513.1 160.3Z" fill="url(#bs)" stroke="#a3773a" stroke-width="0.8" stroke-linejoin="round"  filter="url(#vol2)"/>
<path d="M513 174.3C510.6 173.7 502.5 179.3 498.6 180.9C494.7 182.6 486 185.5 483.9 186.8C481.9 188.1 482.8 189.8 483.1 190.6C483.4 191.5 483.6 193.4 486.1 193.2C488.5 193.1 497.2 190.3 501.3 189.3C505.4 188.4 515.3 188.1 516.8 186.1C518.4 184.1 515.4 175 513 174.3Z" fill="url(#bs)" stroke="#a3773a" stroke-width="0.8" stroke-linejoin="round"  filter="url(#vol2)"/>
<path d="M510.2 187.5C507.6 186.9 498.9 192.7 494.7 194.5C490.5 196.3 481.1 199.4 478.9 200.8C476.7 202.1 477.8 203.8 478.1 204.6C478.4 205.5 478.5 207.5 481.1 207.2C483.6 207 493.1 203.9 497.5 202.9C501.9 201.8 512.4 201.3 514.1 199.3C515.8 197.2 512.8 188.1 510.2 187.5Z" fill="url(#bs)" stroke="#a3773a" stroke-width="0.8" stroke-linejoin="round"  filter="url(#vol2)"/>
<path d="M506.3 201.6C503.7 200.9 494.6 206.4 490.3 208.1C486 209.7 476.4 212.5 474.1 213.7C471.8 215 472.8 216.7 473.1 217.5C473.3 218.4 473.3 220.4 475.9 220.3C478.6 220.1 488.2 217.4 492.7 216.5C497.2 215.6 507.9 215.5 509.7 213.5C511.5 211.6 508.9 202.4 506.3 201.6Z" fill="url(#bs)" stroke="#a3773a" stroke-width="0.8" stroke-linejoin="round"  filter="url(#vol2)"/>
<path d="M501.8 218.8C498.9 217.7 486.7 221.3 481.2 222C475.7 222.8 463.5 223.5 460.5 224.4C457.6 225.4 458.9 228 459 229.2C459.1 230.4 458.4 233.2 461.5 233.6C464.6 233.9 476.7 232.1 482.2 231.8C487.8 231.4 500.4 232.5 503 230.8C505.7 229 504.7 220 501.8 218.8Z" fill="url(#bs)" stroke="#a3773a" stroke-width="0.8" stroke-linejoin="round"  filter="url(#vol2)"/>
<path d="M492.5 224.8C489.2 224 478 231 472.7 233.1C467.4 235.3 455.4 238.9 452.7 240.7C450 242.5 452.1 245.2 452.6 246.7C453.1 248.1 453.1 251.5 456.3 251.3C459.6 251.1 471.3 246.5 476.8 244.9C482.3 243.2 495.4 241.9 497.5 239.2C499.6 236.5 495.8 225.6 492.5 224.8Z" fill="url(#bs)" stroke="#a3773a" stroke-width="0.8" stroke-linejoin="round"  filter="url(#vol2)"/>
<path d="M477.7 241.2C474.3 240.8 463.7 249.1 458.6 251.9C453.4 254.7 441.6 259.8 439.1 262C436.6 264.1 439.1 266.5 439.7 267.9C440.3 269.2 440.7 272.7 443.9 272C447.2 271.4 458.6 265.4 463.9 263.1C469.3 260.8 482.5 257.8 484.3 254.8C486.1 251.9 481.1 241.5 477.7 241.2Z" fill="url(#bs)" stroke="#a3773a" stroke-width="0.8" stroke-linejoin="round"  filter="url(#vol2)"/>
<path d="M464.5 262.9C460.8 263.3 450.7 274.4 445.6 278.5C440.5 282.6 428.5 290.7 426.2 293.5C423.8 296.2 427 298 427.9 299.2C428.8 300.4 429.5 303.9 432.8 302.5C436.2 301.1 447.5 292.1 452.9 288.5C458.3 284.8 472 278.5 473.5 275.1C475 271.7 468.2 262.4 464.5 262.9Z" fill="url(#bs)" stroke="#a3773a" stroke-width="0.8" stroke-linejoin="round"  filter="url(#vol2)"/>
<path d="M448.2 288C444.6 289.5 436.5 303.4 432.1 309C427.7 314.5 417.1 325.9 415.3 329.3C413.4 332.8 417.1 333.5 418.2 334.5C419.3 335.5 420.6 339 423.7 336.7C426.8 334.3 436.6 322.2 441.4 317C446.2 311.9 458.8 301.8 459.8 298C460.7 294.1 451.9 286.6 448.2 288Z" fill="url(#bs)" stroke="#a3773a" stroke-width="0.8" stroke-linejoin="round"  filter="url(#vol2)"/>
<path d="M437.7 314.7C434.2 316.7 427.5 331.9 423.6 338C419.8 344.2 410.4 357.2 408.9 360.9C407.4 364.5 411.1 364.8 412.4 365.7C413.6 366.5 415.3 369.9 418.1 367.1C421 364.4 429.6 350.8 433.9 345C438.2 339.1 449.8 327.3 450.3 323.3C450.8 319.2 441.3 312.8 437.7 314.7Z" fill="url(#bs)" stroke="#a3773a" stroke-width="0.8" stroke-linejoin="round"  filter="url(#vol2)"/>
<path d="M426.1 342.8C422.9 345.3 418.5 361.6 415.6 368.4C412.7 375.1 405.4 389.7 404.4 393.6C403.5 397.5 407.3 397.2 408.6 397.8C410 398.4 412.1 401.6 414.6 398.4C417 395.2 423.5 380.2 426.9 373.6C430.2 367.1 440 353.3 439.9 349.2C439.8 345.1 429.4 340.2 426.1 342.8Z" fill="url(#bs)" stroke="#a3773a" stroke-width="0.8" stroke-linejoin="round"  filter="url(#vol2)"/>
<path d="M420.1 374.7C416.9 377.3 412.2 393.9 409.2 400.8C406.1 407.7 398.5 422.6 397.5 426.6C396.4 430.6 400.3 430.2 401.6 430.8C403 431.4 405.1 434.7 407.5 431.4C410 428.1 416.8 412.9 420.3 406.2C423.8 399.5 433.9 385.5 433.9 381.3C433.8 377.1 423.4 372.1 420.1 374.7Z" fill="url(#bs)" stroke="#a3773a" stroke-width="0.8" stroke-linejoin="round"  filter="url(#vol2)"/>
<path d="M415.9 406.2C413 408.7 410.2 423.9 408 430.2C405.8 436.6 399.9 450.3 399.3 453.9C398.7 457.6 402.4 457.3 403.8 457.9C405.2 458.4 407.6 461.1 409.7 458.1C411.8 455 416.8 440.9 419.5 434.8C422.2 428.6 430.6 415.6 430.1 411.8C429.6 408 418.9 403.8 415.9 406.2Z" fill="url(#bs)" stroke="#a3773a" stroke-width="0.8" stroke-linejoin="round"  filter="url(#vol2)"/>
<path d="M417.9 438.4C415.1 440.7 413.2 454.6 411.4 460.4C409.6 466.2 404.6 478.7 404.2 482.1C403.9 485.5 407.4 485.4 408.8 485.9C410.2 486.4 412.9 488.7 414.8 485.9C416.7 483.1 420.8 470.2 423.1 464.6C425.4 459 432.8 447.1 432.1 443.6C431.5 440.1 420.6 436.2 417.9 438.4Z" fill="url(#bs)" stroke="#a3773a" stroke-width="0.8" stroke-linejoin="round"  filter="url(#vol2)"/>
<path d="M419.9 474.3C417.3 476.1 416 487.9 414.4 492.8C412.9 497.7 408.5 508.1 408.3 511C408 514 411.4 514.3 412.8 514.9C414.2 515.4 417 517.3 418.7 515C420.5 512.6 424 501.9 426.1 497.2C428.1 492.5 434.9 482.7 434.1 479.7C433.3 476.6 422.5 472.6 419.9 474.3Z" fill="url(#bs)" stroke="#a3773a" stroke-width="0.8" stroke-linejoin="round"  filter="url(#vol2)"/>
<path d="M425.7 504.4C422.8 505.6 421.7 516.2 420.1 520.4C418.4 524.6 413.7 533.3 413.6 536C413.6 538.7 417.9 540 419.7 540.8C421.5 541.6 425.4 543.9 427.4 542C429.3 540.1 432.5 530.7 434.4 526.6C436.4 522.6 443.4 514.6 442.3 511.6C441.1 508.6 428.7 503.2 425.7 504.4Z" fill="url(#bs)" stroke="#a3773a" stroke-width="0.8" stroke-linejoin="round"  filter="url(#vol2)"/>
<path d="M451.1 543.8C448.4 541.2 440.6 547.2 436.8 548.2C432.9 549.3 424.1 549.8 422.3 551.8C420.5 553.9 422.3 560.5 423.1 563.5C423.8 566.5 425.1 573.2 427.7 574.2C430.3 575.2 438.3 571.6 442.2 570.8C446.1 570 455.8 571.7 456.9 568.2C458.1 564.6 453.8 546.5 451.1 543.8Z" fill="url(#bs)" stroke="#a3773a" stroke-width="0.8" stroke-linejoin="round"  filter="url(#vol2)"/>
<path d="M459.9 579.2C457 576.4 447.6 582.5 443 583.6C438.5 584.6 428.4 585.2 426.1 587.2C423.8 589.1 425.5 595.5 426 598.3C426.5 601.2 427.1 607.8 429.9 608.8C432.7 609.9 442.5 607 447.1 606.4C451.7 605.9 462.7 608.4 464.4 604.8C466.1 601.2 462.7 582 459.9 579.2Z" fill="url(#bs)" stroke="#a3773a" stroke-width="0.8" stroke-linejoin="round"  filter="url(#vol2)"/>
<path d="M467.9 611.2C464.8 608.3 454.1 614.5 449.1 615.5C444.1 616.6 432.8 617.2 430.3 619.1C427.7 621.1 429.6 627.4 430 630.3C430.5 633.2 430.7 639.8 433.7 640.9C436.8 642 447.7 639 452.8 638.5C457.9 637.9 469.9 640.5 471.9 636.8C473.9 633.2 470.9 614 467.9 611.2Z" fill="url(#bs)" stroke="#a3773a" stroke-width="0.8" stroke-linejoin="round"  filter="url(#vol2)"/>
<path d="M474.1 645.2C471 642.3 459.9 648.5 454.8 649.5C449.6 650.6 438 651.2 435.3 653.1C432.7 655.1 434.6 661.4 435 664.3C435.5 667.2 435.6 673.8 438.7 674.9C441.8 676 453 673 458.3 672.5C463.5 671.9 475.9 674.5 478 670.8C480.1 667.2 477.2 648 474.1 645.2Z" fill="url(#bs)" stroke="#a3773a" stroke-width="0.8" stroke-linejoin="round"  filter="url(#vol2)"/>
<path d="M475.6 677.2C472.7 674.4 463 680.5 458.4 681.6C453.8 682.6 443.4 683.2 441.1 685.2C438.8 687.1 440.5 693.4 441 696.3C441.5 699.2 442 705.8 444.9 706.8C447.7 707.9 457.7 705 462.4 704.4C467 703.9 478.2 706.4 480 702.8C481.8 699.2 478.4 680 475.6 677.2Z" fill="url(#bs)" stroke="#a3773a" stroke-width="0.8" stroke-linejoin="round"  filter="url(#vol2)"/>
<path d="M471.2 711.2C468.5 708.4 460.1 714.6 456.1 715.6C452.1 716.7 442.9 717.2 440.9 719.2C438.9 721.2 440.5 727.5 441 730.4C441.6 733.3 442.5 739.7 445.1 740.8C447.7 741.9 456.4 738.9 460.6 738.4C464.7 737.8 474.7 740.4 476.1 736.8C477.6 733.1 473.8 714.1 471.2 711.2Z" fill="url(#bs)" stroke="#a3773a" stroke-width="0.8" stroke-linejoin="round"  filter="url(#vol2)"/>
<path d="M527.1 161.4C529.7 163.2 528.5 173.3 528.5 175.4C528.5 177.5 527.4 175.4 527.1 177.3C526.8 179.1 526.7 187.7 526.4 189.5C526 191.4 525.1 189.5 524.6 191.4C524.1 193.3 523.2 201.9 522.7 203.8C522.2 205.7 521.4 203.3 520.7 205.5C520 207.8 518.2 218.5 517.5 220.8C516.8 223 516.3 219.7 515.4 222.3C514.6 224.9 513 237.9 510.9 240.3C508.9 242.7 502 238.5 500 240.2C498 242 496.7 251.2 495.8 253.3C494.9 255.3 494.8 252.9 493.5 255.8C492.1 258.7 486.9 272.2 485.6 275.1C484.2 278.1 484.5 275 483.2 278C481.9 281 477.2 294.7 476 297.7C474.7 300.7 474.9 297.6 473.7 300.6C472.6 303.5 468.4 317.1 467.2 320.1C466.1 323.1 466.2 319.7 465 323C463.8 326.2 459.7 341.1 458.6 344.6C457.4 348 457.1 344.9 456.4 348.8C455.8 352.6 454 369.4 453.3 373.2C452.7 376.9 452.2 373 451.8 376.9C451.5 380.7 451.2 398.3 450.9 402.1C450.6 405.9 449.7 401.6 449.7 405.6C449.6 409.6 450.6 428.4 450.6 432.4C450.6 436.4 449.4 431.7 449.7 435.7C449.9 439.7 452.3 458.6 452.6 462.7C452.9 466.7 451.3 461.4 452 466.1C452.7 470.7 457.2 492.9 458 497.6C458.7 502.2 456.6 496.3 457.4 500.7C458.1 505.1 462.7 526.1 463.5 530.7C464.4 535.2 462.5 530.9 463.7 535.1C464.9 539.3 471.5 557.8 472.6 562.1C473.8 566.4 471.2 562.9 472.3 567.1C473.3 571.3 479.4 589.6 480.5 593.8C481.6 598 479.5 593.4 480.5 598.6C481.4 603.7 486.7 627.2 487.6 632.6C488.5 637.9 487 634 487.6 638.7C488.1 643.4 491.5 663.4 491.9 667.9C492.4 672.5 491.2 668.8 491 672.9C490.8 677 490.6 694.6 490.2 698.4C489.9 702.1 489.6 696.9 488.4 701.1C487.2 705.2 484.8 726.5 481 729.4C477.3 732.3 462 727 460.1 722.6C458.2 718.2 465.8 699.8 467 696.2C468.1 692.5 468.2 698 468.5 695C468.8 692 468.8 677.1 469 673.7C469.2 670.3 470.4 673.5 470 669.4C469.6 665.2 466.5 647 465.9 642.7C465.4 638.3 467 642.2 466 636.8C465 631.3 459.7 607.2 458.8 602.1C457.8 596.9 460 602.2 459 598.1C457.9 594.1 452.3 576 450.8 571.9C449.3 567.9 449.5 571.8 447.9 567.7C446.4 563.6 440.6 545.5 439.1 541.3C437.7 537.2 438.5 541.4 437.4 536.5C436.3 531.6 431.8 509.3 430.9 504.7C429.9 500.1 431.1 506.6 430.2 501.7C429.3 496.8 424.5 472.9 424 467.8C423.4 462.8 425.9 468.3 425.8 464.2C425.7 460 423.3 440.6 422.9 436.5C422.4 432.4 422.6 437.2 422.4 433.1C422.3 429 421.2 409.9 421.5 405.7C421.8 401.5 424.1 405.9 424.7 401.8C425.2 397.7 425.2 379.1 425.7 375C426.2 370.9 427.5 375 428.3 370.9C429.1 366.7 430.6 348.2 431.7 344C432.9 339.9 435.2 343.2 436.8 339.5C438.4 335.8 442.5 319.7 443.7 316.2C445 312.7 444.8 316.2 446 313.1C447.2 310.1 451 296.2 452.6 293.3C454.2 290.4 456.5 294.4 458.2 291.5C460 288.6 464 274.3 465.6 271.3C467.2 268.3 468.4 271.9 470 269C471.7 266.1 476.3 252.3 478 249.5C479.7 246.7 481.7 249.7 482.8 248C483.9 246.4 485 238.4 486.4 236.8C487.9 235.2 491.9 238.4 493.5 235.9C495 233.4 497.1 220.5 498 217.9C498.8 215.3 499.3 218.6 500 216.5C500.7 214.3 502.4 204.1 503.1 202C503.8 199.8 504.6 201.9 505.1 200.3C505.5 198.6 506.2 191.3 506.7 189.6C507.1 187.9 508.1 189.4 508.5 187.8C508.8 186.2 508.8 179.2 509.1 177.6C509.4 176 510.5 178 510.5 175.9C510.5 173.8 506.9 163.9 509.1 161.9C511.3 160 524.5 159.6 527.1 161.4Z" fill="#e6b568" stroke="#a3773a" stroke-width="0.7"/>
<path d="M525.5 162.6C523.4 161.7 518.1 158.5 515.5 159C513 159.5 508.5 163.8 508.5 166.2C508.5 168.6 513 173.7 515.5 175C518.1 176.3 523.4 176.1 525.5 174.6C527.6 173.2 529.5 167.3 529.5 165.5C529.5 163.7 527.6 163.6 525.5 162.6Z" fill="url(#bs)" stroke="#a3773a" stroke-width="0.7" stroke-linejoin="round"  filter="url(#vol2)"/>
<path d="M524.9 177.9C522.8 176.7 517.5 173 514.9 173.2C512.4 173.5 507.9 177.4 507.9 179.8C507.9 182.2 512.4 187.7 514.9 189.2C517.5 190.8 522.8 191.1 524.9 189.9C527 188.7 528.9 183 528.9 181.2C528.9 179.4 527 179.1 524.9 177.9Z" fill="url(#bs)" stroke="#a3773a" stroke-width="0.7" stroke-linejoin="round"  filter="url(#vol2)"/>
<path d="M522 191.9C520 190.5 514.7 186.3 512.1 186.4C509.6 186.4 505.2 189.9 505.2 192.3C505.2 194.7 509.6 200.6 512.1 202.4C514.7 204.1 520 204.9 522 203.9C524.1 202.8 526 197.3 526 195.5C526 193.7 524.1 193.2 522 191.9Z" fill="url(#bs)" stroke="#a3773a" stroke-width="0.7" stroke-linejoin="round"  filter="url(#vol2)"/>
<path d="M517.8 206.7C515.8 205.2 510.5 200.7 508 200.6C505.5 200.5 501.2 203.7 501.2 206.1C501.2 208.5 505.5 214.7 508 216.6C510.5 218.5 515.8 219.6 517.8 218.7C519.9 217.8 521.7 212.3 521.7 210.5C521.7 208.7 519.9 208.2 517.8 206.7Z" fill="url(#bs)" stroke="#a3773a" stroke-width="0.7" stroke-linejoin="round"  filter="url(#vol2)"/>
<path d="M512.1 224.2C510.1 222.7 504.9 218 502.4 217.8C500 217.6 495.6 220.7 495.6 223.1C495.6 225.5 500 231.8 502.4 233.8C504.9 235.8 510.1 237.1 512.1 236.2C514.2 235.4 516 230 516 228.2C516 226.4 514.2 225.8 512.1 224.2Z" fill="url(#bs)" stroke="#a3773a" stroke-width="0.7" stroke-linejoin="round"  filter="url(#vol2)"/>
<path d="M503.8 241.2C504.3 239.7 500.4 237.5 499.3 236.1C498.1 234.6 496.7 231 495.3 230.4C493.9 229.8 490.2 230.7 489.1 231.7C487.9 232.7 486.4 236.2 486.7 237.6C487 239 490.4 241.1 491.6 242.5C492.8 243.9 494.2 248.1 495.8 247.9C497.5 247.7 503.4 242.8 503.8 241.2Z" fill="url(#bs)" stroke="#a3773a" stroke-width="0.7" stroke-linejoin="round"  filter="url(#vol2)"/>
<path d="M492.8 236.4C491.9 237.2 494 240 494.2 241.3C494.5 242.6 494.3 245.5 494.8 246.3C495.3 247.1 497.3 247.6 498.1 247.5C499 247.4 500.8 246.6 501.2 245.7C501.5 244.8 500.8 242 500.8 240.7C500.8 239.3 502.2 236.1 501.2 235.6C500.1 235 493.7 235.7 492.8 236.4Z" fill="url(#bs)" stroke="#a3773a" stroke-width="0.6" stroke-linejoin="round" />
<path d="M495.4 257.7C495.3 255.9 489.7 253.6 487.7 252C485.7 250.3 482.2 246.1 480.4 245.6C478.7 245.1 475.5 247 474.6 248.2C473.7 249.3 472.6 252.9 473.6 254.4C474.5 256 479.5 258.3 481.6 259.9C483.6 261.4 487.2 266.2 489.1 265.9C490.9 265.7 495.6 259.6 495.4 257.7Z" fill="url(#bs)" stroke="#a3773a" stroke-width="0.7" stroke-linejoin="round"  filter="url(#vol2)"/>
<path d="M478.8 252.4C477.9 253.2 480 256 480.2 257.3C480.5 258.6 480.3 261.5 480.8 262.3C481.3 263.1 483.3 263.6 484.1 263.5C485 263.4 486.8 262.6 487.2 261.7C487.5 260.8 486.8 258 486.8 256.7C486.8 255.3 488.2 252.1 487.2 251.6C486.1 251 479.7 251.7 478.8 252.4Z" fill="url(#bs)" stroke="#a3773a" stroke-width="0.6" stroke-linejoin="round" />
<path d="M485.3 280.1C485 278.1 478.9 275.4 476.6 273.6C474.4 271.8 470.3 267.2 468.4 266.6C466.6 266 463.5 268 462.6 269.2C461.7 270.4 460.5 273.8 461.6 275.4C462.6 277.1 468.2 279.8 470.5 281.6C472.8 283.3 477 288.5 479 288.3C480.9 288.1 485.6 282 485.3 280.1Z" fill="url(#bs)" stroke="#a3773a" stroke-width="0.7" stroke-linejoin="round"  filter="url(#vol2)"/>
<path d="M466.8 273.4C465.9 274.2 468 277 468.2 278.3C468.5 279.6 468.3 282.5 468.8 283.3C469.3 284.1 471.3 284.6 472.1 284.5C473 284.4 474.8 283.6 475.2 282.7C475.5 281.8 474.8 279 474.8 277.7C474.8 276.3 476.2 273.1 475.2 272.6C474.1 272 467.7 272.7 466.8 273.4Z" fill="url(#bs)" stroke="#a3773a" stroke-width="0.6" stroke-linejoin="round" />
<path d="M475.3 302.1C474.4 300.1 466.8 298.1 463.7 296.4C460.7 294.8 454.7 290.4 452.6 290C450.4 289.6 448 292.3 447.3 293.6C446.6 295 445.9 298.4 447.4 300C449 301.5 456.1 303.8 459.2 305.3C462.2 306.9 468.4 311.8 470.5 311.4C472.7 311 476.2 304.1 475.3 302.1Z" fill="url(#bs)" stroke="#a3773a" stroke-width="0.7" stroke-linejoin="round"  filter="url(#vol2)"/>
<path d="M451.8 297.4C450.9 298.2 453 301 453.2 302.3C453.5 303.6 453.3 306.5 453.8 307.3C454.3 308.1 456.3 308.6 457.1 308.5C458 308.4 459.8 307.6 460.2 306.7C460.5 305.8 459.8 303 459.8 301.7C459.8 300.3 461.2 297.1 460.2 296.6C459.1 296 452.7 296.7 451.8 297.4Z" fill="url(#bs)" stroke="#a3773a" stroke-width="0.6" stroke-linejoin="round" />
<path d="M465.9 325C464.8 323.1 457 322 453.8 320.7C450.6 319.5 444.1 315.8 441.9 315.7C439.7 315.6 437.7 318.6 437.2 320C436.7 321.4 436.3 324.9 438.1 326.3C439.8 327.6 447.1 329 450.4 330.1C453.6 331.3 460.3 335.4 462.4 334.8C464.4 334.1 467.1 326.9 465.9 325Z" fill="url(#bs)" stroke="#a3773a" stroke-width="0.7" stroke-linejoin="round"  filter="url(#vol2)"/>
<path d="M441.8 323.4C440.9 324.2 443 327 443.2 328.3C443.5 329.6 443.3 332.5 443.8 333.3C444.3 334.1 446.3 334.6 447.1 334.5C448 334.4 449.8 333.6 450.2 332.7C450.5 331.8 449.8 329 449.8 327.7C449.8 326.3 451.2 323.1 450.2 322.6C449.1 322 442.7 322.7 441.8 323.4Z" fill="url(#bs)" stroke="#a3773a" stroke-width="0.6" stroke-linejoin="round" />
<path d="M458.1 351.8C456.7 349.9 447.9 348.8 444.3 347.6C440.6 346.4 433.1 342.7 430.7 342.7C428.3 342.6 426.6 345.7 426.1 347.1C425.7 348.5 425.3 352 427.3 353.3C429.3 354.7 437.6 356 441.3 357.1C444.9 358.3 452.7 362.4 455 361.7C457.2 361 459.5 353.7 458.1 351.8Z" fill="url(#bs)" stroke="#a3773a" stroke-width="0.7" stroke-linejoin="round"  filter="url(#vol2)"/>
<path d="M430.8 350.4C429.9 351.2 432 354 432.2 355.3C432.5 356.6 432.3 359.5 432.8 360.3C433.3 361.1 435.3 361.6 436.1 361.5C437 361.4 438.8 360.6 439.2 359.7C439.5 358.8 438.8 356 438.8 354.7C438.8 353.3 440.2 350.1 439.2 349.6C438.1 349 431.7 349.7 430.8 350.4Z" fill="url(#bs)" stroke="#a3773a" stroke-width="0.6" stroke-linejoin="round" />
<path d="M453.5 380.2C451.7 378.5 442.6 378.5 438.7 377.7C434.7 377 426.5 374.3 424 374.5C421.5 374.7 420.3 378 420 379.5C419.8 380.9 419.8 384.4 422 385.5C424.3 386.6 432.9 386.9 436.9 387.6C440.8 388.2 449.4 391.4 451.6 390.5C453.8 389.5 455.2 381.9 453.5 380.2Z" fill="url(#bs)" stroke="#a3773a" stroke-width="0.7" stroke-linejoin="round"  filter="url(#vol2)"/>
<path d="M424.8 382.4C423.9 383.2 426 386 426.2 387.3C426.5 388.6 426.3 391.5 426.8 392.3C427.3 393.1 429.3 393.6 430.1 393.5C431 393.4 432.8 392.6 433.2 391.7C433.5 390.8 432.8 388 432.8 386.7C432.8 385.3 434.2 382.1 433.2 381.6C432.1 381 425.7 381.7 424.8 382.4Z" fill="url(#bs)" stroke="#a3773a" stroke-width="0.6" stroke-linejoin="round" />
<path d="M451.5 409.5C449.6 407.9 439.8 408.4 435.5 407.9C431.3 407.3 422.2 405.1 419.6 405.4C417 405.8 416.2 409.2 416 410.7C415.8 412.1 415.9 415.6 418.4 416.6C420.8 417.5 430.1 417.4 434.4 417.8C438.7 418.2 448.1 420.9 450.3 419.8C452.6 418.7 453.5 411.1 451.5 409.5Z" fill="url(#bs)" stroke="#a3773a" stroke-width="0.7" stroke-linejoin="round"  filter="url(#vol2)"/>
<path d="M420.8 413.4C419.9 414.2 422 417 422.2 418.3C422.5 419.6 422.3 422.5 422.8 423.3C423.3 424.1 425.3 424.6 426.1 424.5C427 424.4 428.8 423.6 429.2 422.7C429.5 421.8 428.8 419 428.8 417.7C428.8 416.3 430.2 413.1 429.2 412.6C428.1 412 421.7 412.7 420.8 413.4Z" fill="url(#bs)" stroke="#a3773a" stroke-width="0.6" stroke-linejoin="round" />
<path d="M451.9 439.7C449.9 438.2 440.6 439.2 436.6 438.9C432.5 438.6 423.8 436.9 421.3 437.4C418.9 437.9 418.1 441.3 418 442.8C417.9 444.3 418.3 447.8 420.7 448.6C423.1 449.4 431.9 448.7 436 448.9C440 449.1 449.1 451.3 451.2 450.1C453.4 448.8 453.8 441.2 451.9 439.7Z" fill="url(#bs)" stroke="#a3773a" stroke-width="0.7" stroke-linejoin="round"  filter="url(#vol2)"/>
<path d="M422.8 445.4C421.9 446.2 424 449 424.2 450.3C424.5 451.6 424.3 454.5 424.8 455.3C425.3 456.1 427.3 456.6 428.1 456.5C429 456.4 430.8 455.6 431.2 454.7C431.5 453.8 430.8 451 430.8 449.7C430.8 448.3 432.2 445.1 431.2 444.6C430.1 444 423.7 444.7 422.8 445.4Z" fill="url(#bs)" stroke="#a3773a" stroke-width="0.6" stroke-linejoin="round" />
<path d="M454.4 471.5C452.2 470.3 442.8 472.6 438.5 472.9C434.3 473.1 425.1 472.6 422.6 473.4C420.1 474.3 419.9 477.7 420 479.2C420.1 480.7 420.8 484.1 423.4 484.6C426 485.1 435 483.2 439.3 482.8C443.5 482.5 453.1 483.4 455.2 481.9C457.2 480.4 456.6 472.7 454.4 471.5Z" fill="url(#bs)" stroke="#a3773a" stroke-width="0.7" stroke-linejoin="round"  filter="url(#vol2)"/>
<path d="M424.8 481.4C423.9 482.2 426 485 426.2 486.3C426.5 487.6 426.3 490.5 426.8 491.3C427.3 492.1 429.3 492.6 430.1 492.5C431 492.4 432.8 491.6 433.2 490.7C433.5 489.8 432.8 487 432.8 485.7C432.8 484.3 434.2 481.1 433.2 480.6C432.1 480 425.7 480.7 424.8 481.4Z" fill="url(#bs)" stroke="#a3773a" stroke-width="0.6" stroke-linejoin="round" />
<path d="M461.1 505.9C459.3 504.2 450 504.3 445.9 503.6C441.9 502.9 433.4 500.2 430.9 500.5C428.4 500.7 427.3 504 427 505.5C426.8 507 426.8 510.5 429.1 511.5C431.4 512.6 440.3 512.8 444.3 513.5C448.3 514.1 457.2 517.2 459.4 516.2C461.6 515.2 462.9 507.6 461.1 505.9Z" fill="url(#bs)" stroke="#a3773a" stroke-width="0.7" stroke-linejoin="round"  filter="url(#vol2)"/>
<path d="M431.8 508.4C430.9 509.2 433 512 433.2 513.3C433.5 514.6 433.3 517.5 433.8 518.3C434.3 519.1 436.3 519.6 437.1 519.5C438 519.4 439.8 518.6 440.2 517.7C440.5 516.8 439.8 514 439.8 512.7C439.8 511.3 441.2 508.1 440.2 507.6C439.1 507 432.7 507.7 431.8 508.4Z" fill="url(#bs)" stroke="#a3773a" stroke-width="0.6" stroke-linejoin="round" />
<path d="M469.2 539.8C467.8 537.8 459 536.5 455.4 535.1C451.7 533.8 444.3 529.9 441.9 529.7C439.4 529.6 437.7 532.6 437.2 534C436.7 535.4 436.2 538.9 438.1 540.3C440.1 541.7 448.4 543.3 452.1 544.6C455.7 545.8 463.4 550.2 465.7 549.6C468 548.9 470.6 541.7 469.2 539.8Z" fill="url(#bs)" stroke="#a3773a" stroke-width="0.7" stroke-linejoin="round"  filter="url(#vol2)"/>
<path d="M441.8 537.4C440.9 538.2 443 541 443.2 542.3C443.5 543.6 443.3 546.5 443.8 547.3C444.3 548.1 446.3 548.6 447.1 548.5C448 548.4 449.8 547.6 450.2 546.7C450.5 545.8 449.8 543 449.8 541.7C449.8 540.3 451.2 537.1 450.2 536.6C449.1 536 442.7 536.7 441.8 537.4Z" fill="url(#bs)" stroke="#a3773a" stroke-width="0.6" stroke-linejoin="round" />
<path d="M472.8 572.5C470.3 572 463 570.3 460.1 571.4C457.2 572.6 453.3 577.6 453.3 580C453.3 582.4 457.2 586.8 460.1 587.4C463 588.1 470.3 586.4 472.8 584.5C475.3 582.6 476.7 576.4 476.7 574.6C476.7 572.8 475.3 573 472.8 572.5Z" fill="url(#bs)" stroke="#a3773a" stroke-width="0.7" stroke-linejoin="round"  filter="url(#vol2)"/>
<path d="M480.6 606.1C478.1 605.6 470.8 603.6 467.9 604.6C464.9 605.7 461 610.6 461 613C461 615.4 464.9 619.9 467.9 620.6C470.8 621.4 478.1 620 480.6 618.1C483.1 616.3 484.6 610.1 484.6 608.3C484.6 606.5 483.1 606.7 480.6 606.1Z" fill="url(#bs)" stroke="#a3773a" stroke-width="0.7" stroke-linejoin="round"  filter="url(#vol2)"/>
<path d="M486.9 644.8C484.4 644.1 477 641.8 474 642.7C471.1 643.6 467.1 648.4 467.1 650.8C467.1 653.2 471.1 657.8 474 658.7C477 659.6 484.4 658.5 486.9 656.8C489.4 655 490.9 649 490.9 647.2C490.9 645.4 489.4 645.4 486.9 644.8Z" fill="url(#bs)" stroke="#a3773a" stroke-width="0.7" stroke-linejoin="round"  filter="url(#vol2)"/>
<path d="M488.8 677.5C486.2 676.4 478.8 672.8 475.8 673.1C472.8 673.5 468.8 677.5 468.8 679.9C468.8 682.3 472.8 687.7 475.8 689.1C478.8 690.6 486.2 690.8 488.8 689.5C491.3 688.2 492.8 682.4 492.8 680.6C492.8 678.8 491.3 678.6 488.8 677.5Z" fill="url(#bs)" stroke="#a3773a" stroke-width="0.7" stroke-linejoin="round"  filter="url(#vol2)"/>
<path d="M484.3 706.1C481.8 704.4 474.6 699.2 471.7 698.9C468.7 698.6 464.9 701.8 464.9 704.2C464.9 706.6 468.7 712.8 471.7 714.9C474.6 717 481.8 718.8 484.3 718.1C486.7 717.3 488.1 711.8 488.1 710C488.1 708.2 486.7 707.7 484.3 706.1Z" fill="url(#bs)" stroke="#a3773a" stroke-width="0.7" stroke-linejoin="round"  filter="url(#vol2)"/>
<path d="M526 754.2C526 756.5 520.1 761.8 517 764.1C513.8 766.4 505.5 768.5 503.4 770.9C501.2 773.3 501.7 778.2 501.7 781.1C501.7 783.9 503.6 788.7 503.4 791.3C503.1 793.9 501.9 797.4 500 799.8C498.1 802.1 492.9 806.4 489.8 808.3C486.7 810.2 481.2 812.1 477.9 813.4C474.5 814.7 468.8 815.9 466 817.6C463.1 819.3 459 822.5 457.5 825.3C455.9 828 455.2 833.6 454.9 837.1C454.7 840.7 455.2 846.9 455.8 850.7C456.4 854.5 458 860.5 459.2 864.3C460.4 868.1 463 874.9 464.3 877.9C465.5 881 468.3 885.1 468 886.1C467.8 887 464.5 885.9 462.6 884.7C460.6 883.6 456.2 880.3 454.1 877.9C451.9 875.6 449 870.6 447.3 867.7C445.6 864.9 443.4 860.9 442.2 857.5C441 854.2 439.7 847.8 438.8 843.9C437.8 840.1 436.5 833.7 435.4 830.4C434.3 827 432.1 823.5 431.1 820.2C430.2 816.8 428.5 810.4 428.6 806.6C428.7 802.8 431.6 796.8 432 793C432.3 789.2 430.9 782.7 431.1 779.4C431.4 776 432.4 771.6 433.7 769.2C435 766.8 438.8 765 440.5 762.4C442.2 759.8 443.2 753.1 445.6 750.5C448 747.9 454.4 745.8 457.5 743.7C460.6 741.6 464.8 736.7 467.7 735.2C470.5 733.6 475.3 732.3 477.9 732.6C480.5 733 482.8 736.6 486.4 737.9C489.9 739.3 499.1 741 503.4 742.3C507.6 743.7 513.8 746.1 517 747.8C520.1 749.4 526 751.9 526 754.2Z" fill="url(#b2)" stroke="#a3773a" stroke-width="0.9" stroke-linejoin="round"  filter="url(#vol)"/>
<path d="M469.4 736.9C470.2 734.1 475 733.8 477.9 735.2C480.7 736.6 484.4 741.4 486.4 745.4C488.4 749.4 489.8 755.3 489.8 759C489.8 762.7 488.1 764.6 486.4 767.5C484.7 770.3 481.8 773.7 479.6 776C477.3 778.2 474.2 782.5 472.8 781.1C471.4 779.7 471.1 772.3 471.1 767.5C471.1 762.7 473.1 757.3 472.8 752.2C472.5 747.1 468.5 739.7 469.4 736.9Z" fill="#f6d38e" stroke="none" stroke-width="0" stroke-linejoin="round" opacity=".8"/>
<path d="M483 767.5C485.2 765.5 490 764.4 493.2 765.8C496.3 767.2 500 772 501.7 776C503.4 779.9 503.9 785.6 503.4 789.6C502.8 793.5 501.1 796.9 498.3 799.8C495.4 802.6 490.6 804.6 486.4 806.6C482.1 808.5 477 810.2 472.8 811.7C468.5 813.1 464.1 815.1 460.9 815.1C457.6 815.1 454.6 813.9 453.2 811.7C451.8 809.4 451.4 804.6 452.4 801.5C453.4 798.4 456.1 795.5 459.2 793C462.3 790.4 467.7 788.7 471.1 786.2C474.5 783.6 477.6 780.8 479.6 777.7C481.6 774.6 480.7 769.5 483 767.5Z" fill="url(#sp)" stroke="#a3773a" stroke-width="0.8" stroke-linejoin="round" />
<path d="M485.5 770.9C487.2 768.9 490.3 768.9 492.3 770C494.3 771.2 496.7 775 497.4 777.7C498.1 780.4 497.8 783.8 496.6 786.2C495.3 788.6 492.6 790.6 489.8 792.1C486.9 793.7 483.3 794 479.6 795.5C475.9 797.1 471 799.3 467.7 801.5C464.3 803.6 461.4 808 459.5 808.6C457.7 809.2 456.3 806.8 456.6 804.9C457 803 459 799.6 461.7 797.2C464.4 794.8 469.4 793 472.8 790.4C476.2 787.9 480 785.2 482.1 781.9C484.2 778.7 483.8 772.9 485.5 770.9Z" fill="#dba35a" stroke="none" stroke-width="0" stroke-linejoin="round" />
<path d="M488.1 774.3C489.6 773 492.2 774.3 493.2 776C494.2 777.7 494.9 782.2 494 784.5C493.2 786.7 490.5 788.3 488.1 789.6C485.7 790.8 482.7 790.8 479.6 792.1C476.5 793.4 472.1 795.5 469.4 797.2C466.7 798.9 464 802.5 463.4 802.3C462.9 802.2 464.1 798.4 466 796.4C467.8 794.4 471.5 792.5 474.5 790.4C477.4 788.3 481.6 786.3 483.8 783.6C486.1 780.9 486.5 775.6 488.1 774.3Z" fill="#efc67e" stroke="none" stroke-width="0" stroke-linejoin="round" />
<path d="M451.5 764.1C451.1 765.1 449.6 768 449 770C448.4 772 448.3 775 448.1 776" fill="none" stroke="#6f4c1e" stroke-width="1.7" stroke-linecap="round" />
<path d="M443 782.8C442.8 784 441.9 787.9 441.8 790.4C441.6 793 442.1 796.8 442.2 798.1" fill="none" stroke="#6f4c1e" stroke-width="1.7" stroke-linecap="round" />
<path d="M442.2 810C442.1 811 441.6 813.9 441.8 815.9C441.9 817.9 442.8 820.9 443 821.9" fill="none" stroke="#6f4c1e" stroke-width="1.7" stroke-linecap="round" />
<path d="M443.9 830.4C444 831.2 443.9 833.8 444.3 835.5C444.7 837.1 446.1 839.7 446.4 840.5" fill="none" stroke="#6f4c1e" stroke-width="1.7" stroke-linecap="round" />
<path d="M459.2 747.1C457.5 750.2 452.4 760.1 449 765.8C445.6 771.4 440.8 774.6 438.8 781.1C436.8 787.6 436.8 796.7 437.1 804.9C437.4 813.1 438.8 822.1 440.5 830.4C442.2 838.6 446.2 850.2 447.3 854.1" fill="none" stroke="#f6d690" stroke-width="1.8" stroke-linecap="round" />
<path d="M467.7 745.4C466 749.4 460.2 760.7 457.5 769.2C454.8 777.7 452.5 787.9 451.5 796.4C450.5 804.9 451 813.4 451.5 820.2C452.1 827 454.4 834.3 454.9 837.1" fill="none" stroke="#c28c44" stroke-width="1.1" stroke-linecap="round" />
<path d="M486.4 741.1C487.2 743.5 488.6 750.6 491.5 755.6C494.3 760.5 501.4 768.3 503.4 770.9" fill="none" stroke="#c98f45" stroke-width="1.0" stroke-linecap="round" />
<path d="M440.5 854.1 L454.9 850.7" fill="none" stroke="#a3773a" stroke-width="0.6" stroke-linecap="round" />
<path d="M443.9 863.5 L457.5 860.9" fill="none" stroke="#a3773a" stroke-width="0.6" stroke-linecap="round" />
<path d="M449 872 L460.9 870.3" fill="none" stroke="#a3773a" stroke-width="0.6" stroke-linecap="round" />
<path d="M454.9 878.8 L464.3 877.9" fill="none" stroke="#a3773a" stroke-width="0.6" stroke-linecap="round" />
<line x1="541.1" y1="176" x2="526.5" y2="176.4" stroke="#dccdaa" stroke-width="3"/>
<line x1="541.1" y1="174.5" x2="526.5" y2="174.9" stroke="#7f5f33" stroke-width="0.9"/>
<line x1="541.1" y1="177.5" x2="526.5" y2="177.9" stroke="#7f5f33" stroke-width="0.9"/>
<line x1="540.3" y1="192" x2="524.2" y2="190.2" stroke="#dccdaa" stroke-width="3"/>
<line x1="540.3" y1="190.5" x2="524.2" y2="188.7" stroke="#7f5f33" stroke-width="0.9"/>
<line x1="540.3" y1="193.5" x2="524.2" y2="191.7" stroke="#7f5f33" stroke-width="0.9"/>
<line x1="537.9" y1="208" x2="520.6" y2="204.2" stroke="#dccdaa" stroke-width="3"/>
<line x1="537.9" y1="206.5" x2="520.6" y2="202.7" stroke="#7f5f33" stroke-width="0.9"/>
<line x1="537.9" y1="209.5" x2="520.6" y2="205.7" stroke="#7f5f33" stroke-width="0.9"/>
<line x1="534" y1="226" x2="515.4" y2="221" stroke="#dccdaa" stroke-width="3"/>
<line x1="534" y1="224.5" x2="515.4" y2="219.5" stroke="#7f5f33" stroke-width="0.9"/>
<line x1="534" y1="227.5" x2="515.4" y2="222.5" stroke="#7f5f33" stroke-width="0.9"/>
<line x1="529" y1="246" x2="500.4" y2="238.5" stroke="#dccdaa" stroke-width="3"/>
<line x1="529" y1="244.5" x2="500.4" y2="237" stroke="#7f5f33" stroke-width="0.9"/>
<line x1="529" y1="247.5" x2="500.4" y2="240" stroke="#7f5f33" stroke-width="0.9"/>
<line x1="522.5" y1="266" x2="494.1" y2="253.9" stroke="#dccdaa" stroke-width="4"/>
<line x1="522.5" y1="264" x2="494.1" y2="251.9" stroke="#7f5f33" stroke-width="0.9"/>
<line x1="522.5" y1="268" x2="494.1" y2="255.9" stroke="#7f5f33" stroke-width="0.9"/>
<line x1="513.5" y1="288" x2="483.9" y2="276" stroke="#dccdaa" stroke-width="4"/>
<line x1="513.5" y1="286" x2="483.9" y2="274" stroke="#7f5f33" stroke-width="0.9"/>
<line x1="513.5" y1="290" x2="483.9" y2="278" stroke="#7f5f33" stroke-width="0.9"/>
<line x1="505.5" y1="310" x2="474.4" y2="298.6" stroke="#dccdaa" stroke-width="4"/>
<line x1="505.5" y1="308" x2="474.4" y2="296.6" stroke="#7f5f33" stroke-width="0.9"/>
<line x1="505.5" y1="312" x2="474.4" y2="300.6" stroke="#7f5f33" stroke-width="0.9"/>
<line x1="498.2" y1="332" x2="465.7" y2="321.1" stroke="#dccdaa" stroke-width="4"/>
<line x1="498.2" y1="330" x2="465.7" y2="319.1" stroke="#7f5f33" stroke-width="0.9"/>
<line x1="498.2" y1="334" x2="465.7" y2="323.1" stroke="#7f5f33" stroke-width="0.9"/>
<line x1="491.5" y1="354" x2="456.9" y2="346.3" stroke="#dccdaa" stroke-width="4"/>
<line x1="491.5" y1="352" x2="456.9" y2="344.3" stroke="#7f5f33" stroke-width="0.9"/>
<line x1="491.5" y1="356" x2="456.9" y2="348.3" stroke="#7f5f33" stroke-width="0.9"/>
<line x1="488.5" y1="378" x2="452.1" y2="374.9" stroke="#dccdaa" stroke-width="4"/>
<line x1="488.5" y1="376" x2="452.1" y2="372.9" stroke="#7f5f33" stroke-width="0.9"/>
<line x1="488.5" y1="380" x2="452.1" y2="376.9" stroke="#7f5f33" stroke-width="0.9"/>
<line x1="487.5" y1="404" x2="449.8" y2="403.9" stroke="#dccdaa" stroke-width="4"/>
<line x1="487.5" y1="402" x2="449.8" y2="401.9" stroke="#7f5f33" stroke-width="0.9"/>
<line x1="487.5" y1="406" x2="449.8" y2="405.9" stroke="#7f5f33" stroke-width="0.9"/>
<line x1="488.6" y1="433" x2="449.8" y2="434.1" stroke="#dccdaa" stroke-width="4"/>
<line x1="488.6" y1="431" x2="449.8" y2="432.1" stroke="#7f5f33" stroke-width="0.9"/>
<line x1="488.6" y1="435" x2="449.8" y2="436.1" stroke="#7f5f33" stroke-width="0.9"/>
<line x1="491.9" y1="462" x2="452" y2="464.5" stroke="#dccdaa" stroke-width="4"/>
<line x1="491.9" y1="460" x2="452" y2="462.5" stroke="#7f5f33" stroke-width="0.9"/>
<line x1="491.9" y1="464" x2="452" y2="466.5" stroke="#7f5f33" stroke-width="0.9"/>
<line x1="498.1" y1="493" x2="457.4" y2="499.3" stroke="#dccdaa" stroke-width="4"/>
<line x1="498.1" y1="491" x2="457.4" y2="497.3" stroke="#7f5f33" stroke-width="0.9"/>
<line x1="498.1" y1="495" x2="457.4" y2="501.3" stroke="#7f5f33" stroke-width="0.9"/>
<line x1="504.6" y1="523" x2="463.4" y2="533.2" stroke="#dccdaa" stroke-width="4"/>
<line x1="504.6" y1="521" x2="463.4" y2="531.2" stroke="#7f5f33" stroke-width="0.9"/>
<line x1="504.6" y1="525" x2="463.4" y2="535.2" stroke="#7f5f33" stroke-width="0.9"/>
<line x1="514.7" y1="554" x2="471.7" y2="564.1" stroke="#dccdaa" stroke-width="4"/>
<line x1="514.7" y1="552" x2="471.7" y2="562.1" stroke="#7f5f33" stroke-width="0.9"/>
<line x1="514.7" y1="556" x2="471.7" y2="566.1" stroke="#7f5f33" stroke-width="0.9"/>
<line x1="524.9" y1="588" x2="480.4" y2="596.4" stroke="#dccdaa" stroke-width="7.4"/>
<line x1="524.9" y1="584.3" x2="480.4" y2="592.7" stroke="#7f5f33" stroke-width="0.9"/>
<line x1="524.9" y1="591.7" x2="480.4" y2="600.1" stroke="#7f5f33" stroke-width="0.9"/>
<line x1="533.1" y1="627" x2="487.5" y2="635.8" stroke="#dccdaa" stroke-width="7.4"/>
<line x1="533.1" y1="623.3" x2="487.5" y2="632.1" stroke="#7f5f33" stroke-width="0.9"/>
<line x1="533.1" y1="630.7" x2="487.5" y2="639.5" stroke="#7f5f33" stroke-width="0.9"/>
<line x1="539" y1="668" x2="491.5" y2="670.5" stroke="#dccdaa" stroke-width="7.4"/>
<line x1="539" y1="664.3" x2="491.5" y2="666.8" stroke="#7f5f33" stroke-width="0.9"/>
<line x1="539" y1="671.7" x2="491.5" y2="674.2" stroke="#7f5f33" stroke-width="0.9"/>
<line x1="537.2" y1="709" x2="489.4" y2="699.5" stroke="#dccdaa" stroke-width="7.4"/>
<line x1="537.2" y1="705.3" x2="489.4" y2="695.8" stroke="#7f5f33" stroke-width="0.9"/>
<line x1="537.2" y1="712.7" x2="489.4" y2="703.2" stroke="#7f5f33" stroke-width="0.9"/>
<line x1="526.8" y1="748" x2="481.4" y2="730.1" stroke="#dccdaa" stroke-width="7.4"/>
<line x1="526.8" y1="744.3" x2="481.4" y2="726.4" stroke="#7f5f33" stroke-width="0.9"/>
<line x1="526.8" y1="751.7" x2="481.4" y2="733.8" stroke="#7f5f33" stroke-width="0.9"/>
<path d="M540.1 161C539.1 160.1 534.5 161.2 532.6 161.2C530.7 161.3 525.8 160.5 525.1 161.4C524.4 162.4 526.8 166.7 527 168.5C527.2 170.3 525.6 174.6 526.5 175.4C527.4 176.3 532.1 175.3 534 175.2C535.9 175.2 540.7 175.9 541.5 175C542.3 174.1 540.4 169.8 540.2 168C540 166.2 541.1 161.9 540.1 161Z" fill="url(#bv)" stroke="#a3773a" stroke-width="0.8" stroke-linejoin="round"  filter="url(#vol2)"/>
<path d="M541.7 177C540.7 176.1 535.5 177.1 533.4 177.1C531.3 177.2 526 176.6 525.1 177.3C524.2 178 526.3 181.4 526.2 183C526.1 184.5 523.6 188.4 524.4 189.3C525.2 190.3 530.5 190 532.6 190.2C534.7 190.4 539.8 191.8 540.9 191C542 190.2 540.9 185.7 541 184C541.1 182.2 542.7 177.9 541.7 177Z" fill="url(#bv)" stroke="#a3773a" stroke-width="0.8" stroke-linejoin="round"  filter="url(#vol2)"/>
<path d="M540.7 193C539.7 192 533.9 192.3 531.6 192.1C529.4 191.9 523.7 190.5 522.6 191.2C521.5 191.9 523.4 195.9 523.2 197.5C523 199 519.9 202.5 520.8 203.4C521.6 204.4 527.4 204.8 529.7 205.2C531.9 205.7 537.4 207.7 538.6 207C539.8 206.3 539.1 201.7 539.4 199.9C539.7 198.1 541.7 194 540.7 193Z" fill="url(#bv)" stroke="#a3773a" stroke-width="0.8" stroke-linejoin="round"  filter="url(#vol2)"/>
<path d="M538.2 209C537.2 207.8 531 207.6 528.5 207.1C526 206.6 520.1 204.3 518.8 205.1C517.5 205.9 518.8 211.2 518.4 213.1C518 215.1 514.7 219.1 515.5 220.3C516.4 221.5 522.7 222 525.1 222.6C527.6 223.2 533.4 225.7 534.8 225C536.1 224.3 535.6 218.9 536 216.9C536.5 214.8 539.2 210.2 538.2 209Z" fill="url(#bv)" stroke="#a3773a" stroke-width="0.8" stroke-linejoin="round"  filter="url(#vol2)"/>
<path d="M534.2 227C533.3 225.5 526.5 225.1 523.9 224.4C521.2 223.7 514.9 221 513.5 221.8C512 222.7 513 228.8 512.4 231.1C511.8 233.4 508.1 238.4 509 239.8C509.9 241.2 516.7 241.7 519.4 242.4C522 243.1 528.2 245.8 529.8 245C531.3 244.2 530.8 238.1 531.4 235.9C532 233.6 535.2 228.5 534.2 227Z" fill="url(#bv)" stroke="#a3773a" stroke-width="0.8" stroke-linejoin="round"  filter="url(#vol2)"/>
<path d="M529.1 247.5C527.6 246 517.5 244.6 513.6 243.6C509.7 242.6 500.1 239.4 498.1 239.7C496.1 240.1 498.2 244.9 497.7 246.5C497.2 248.1 492.5 251 493.9 252.5C495.3 254.1 505 257 508.8 258.5C512.5 260 521.5 264.9 523.6 264.5C525.7 264.1 524.8 257.7 525.5 255.5C526.2 253.4 530.6 249 529.1 247.5Z" fill="url(#bv)" stroke="#a3773a" stroke-width="0.8" stroke-linejoin="round"  filter="url(#vol2)"/>
<path d="M522.4 267.5C521.1 265.6 510.9 262.8 507 261.3C503.1 259.7 493.9 254.6 491.6 255C489.3 255.5 489.9 262.4 488.9 264.9C487.9 267.3 482.4 272.4 483.7 274.4C485 276.4 495.2 278.9 499.2 280.4C503.1 282 512.4 287 514.6 286.5C516.9 286 516 278.8 517 276.4C518 274 523.7 269.4 522.4 267.5Z" fill="url(#bv)" stroke="#a3773a" stroke-width="0.8" stroke-linejoin="round"  filter="url(#vol2)"/>
<path d="M513.5 289.5C512 287.6 501.5 284.9 497.4 283.4C493.3 281.8 483.7 276.7 481.3 277.3C479 277.8 479.7 285.1 478.8 287.7C477.9 290.2 472.6 295.2 474.1 297.1C475.6 299 486.2 301.3 490.3 302.8C494.4 304.2 504.2 309 506.5 308.5C508.8 308 507.6 300.9 508.5 298.5C509.4 296 514.9 291.4 513.5 289.5Z" fill="url(#bv)" stroke="#a3773a" stroke-width="0.8" stroke-linejoin="round"  filter="url(#vol2)"/>
<path d="M505.5 311.5C504 309.6 492.9 307.2 488.7 305.7C484.4 304.2 474.2 299.3 471.8 299.9C469.4 300.5 470.5 307.6 469.7 310.1C468.9 312.6 463.7 317.6 465.3 319.5C466.9 321.3 478 323.6 482.2 325C486.5 326.4 496.8 331.1 499.2 330.5C501.5 329.9 500 322.9 500.8 320.5C501.6 318.1 507 313.4 505.5 311.5Z" fill="url(#bv)" stroke="#a3773a" stroke-width="0.8" stroke-linejoin="round"  filter="url(#vol2)"/>
<path d="M498.2 333.5C496.5 331.6 485.1 329.3 480.6 327.9C476.2 326.5 465.6 321.7 463.1 322.3C460.6 323 462 330 461.2 332.8C460.4 335.5 454.9 342.1 456.6 344.1C458.3 346.1 470 347.2 474.5 348.3C479.1 349.4 490 353.2 492.4 352.5C494.9 351.8 493 344.9 493.8 342.5C494.5 340.1 499.8 335.4 498.2 333.5Z" fill="url(#bv)" stroke="#a3773a" stroke-width="0.8" stroke-linejoin="round"  filter="url(#vol2)"/>
<path d="M491.8 355.5C489.8 353.7 477.9 352.8 473.1 351.9C468.4 351 456.9 347.2 454.5 348.4C452.1 349.6 454.4 358.3 454 361.4C453.6 364.6 449.3 371.3 451.3 373C453.4 374.7 465.5 374.3 470.3 374.7C475.1 375.2 486.8 377.6 489.2 376.5C491.5 375.4 488.6 368.5 488.9 365.8C489.2 363.1 493.8 357.3 491.8 355.5Z" fill="url(#bv)" stroke="#a3773a" stroke-width="0.8" stroke-linejoin="round"  filter="url(#vol2)"/>
<path d="M488.9 379.5C486.7 377.9 474.3 378.5 469.4 378.1C464.4 377.8 452.2 375.3 449.8 376.7C447.5 378.2 450.7 386.3 450.5 389.5C450.4 392.8 446.6 400.5 448.9 402.1C451.1 403.7 463.5 402.2 468.5 402.3C473.4 402.3 485.7 403.9 488.1 402.5C490.4 401.1 486.8 393.9 486.9 390.9C487 388 491.2 381.1 488.9 379.5Z" fill="url(#bv)" stroke="#a3773a" stroke-width="0.8" stroke-linejoin="round"  filter="url(#vol2)"/>
<path d="M488.1 405.5C485.6 403.9 473 405.5 467.9 405.6C462.7 405.6 450 403.9 447.7 405.6C445.3 407.3 449.2 415.6 449.3 419C449.4 422.4 446.1 430.8 448.6 432.5C451.1 434.1 463.7 432.1 468.8 432C473.9 431.9 486.7 433.2 489 431.5C491.3 429.8 487 421.8 486.9 418.5C486.8 415.2 490.5 407.1 488.1 405.5Z" fill="url(#bv)" stroke="#a3773a" stroke-width="0.8" stroke-linejoin="round"  filter="url(#vol2)"/>
<path d="M489.3 434.5C486.7 432.9 473.7 435 468.5 435.1C463.2 435.3 450 434 447.7 435.8C445.4 437.5 449.9 445.6 450.3 449C450.7 452.4 447.9 461.2 450.6 462.8C453.2 464.4 466.1 461.9 471.3 461.6C476.6 461.4 489.9 462.3 492.1 460.5C494.3 458.7 489.4 450.9 489.1 447.6C488.7 444.3 491.9 436.1 489.3 434.5Z" fill="url(#bv)" stroke="#a3773a" stroke-width="0.8" stroke-linejoin="round"  filter="url(#vol2)"/>
<path d="M492.7 463.5C489.8 461.9 476.8 464.5 471.3 464.9C465.9 465.2 452.2 464.2 450 466.2C447.8 468.2 453.2 476.4 454 480.4C454.8 484.4 453 496 456 497.8C458.9 499.7 471.8 495.5 477.1 494.7C482.5 493.9 496.2 493.7 498.3 491.5C500.4 489.3 494.6 481.2 493.9 477.6C493.2 474.1 495.6 465.1 492.7 463.5Z" fill="url(#bv)" stroke="#a3773a" stroke-width="0.8" stroke-linejoin="round"  filter="url(#vol2)"/>
<path d="M498.9 494.5C496 493.2 482.7 496.9 477.1 497.8C471.6 498.6 457.7 498.9 455.4 501C453.1 503.1 458.5 510.5 459.3 514.3C460.1 518.2 458.6 529.6 461.6 531.1C464.6 532.6 477.6 527.5 483.1 526.3C488.5 525.1 502.4 523.8 504.5 521.5C506.7 519.2 500.7 511.7 500 508.2C499.3 504.8 501.8 495.8 498.9 494.5Z" fill="url(#bv)" stroke="#a3773a" stroke-width="0.8" stroke-linejoin="round"  filter="url(#vol2)"/>
<path d="M505.6 524.5C502.4 523.4 489.2 528.6 483.7 530C478.1 531.5 463.8 533.2 461.8 535.6C459.8 538 466.5 545.3 467.6 548.7C468.7 552.1 467.5 561.4 470.7 562.5C473.9 563.7 487.1 558.8 492.7 557.5C498.3 556.2 512.7 554.9 514.8 552.5C516.8 550.1 510 542.4 508.8 538.9C507.7 535.3 508.8 525.6 505.6 524.5Z" fill="url(#bv)" stroke="#a3773a" stroke-width="0.8" stroke-linejoin="round"  filter="url(#vol2)"/>
<path d="M516.2 557.2C512.9 556.1 499 561.1 493.2 562.4C487.4 563.7 472.5 565.1 470.3 567.5C468.1 569.9 474.6 577.9 475.7 581.3C476.7 584.7 475.3 593.1 478.6 594.2C481.8 595.2 495.8 590.7 501.6 589.5C507.4 588.3 522.5 587.1 524.6 584.8C526.8 582.5 519.8 574.9 518.8 571.4C517.7 567.9 519.4 558.3 516.2 557.2Z" fill="url(#bv)" stroke="#a3773a" stroke-width="0.8" stroke-linejoin="round"  filter="url(#vol2)"/>
<path d="M526.1 591.2C522.8 589.6 508.3 594.1 502.3 595C496.3 596 480.9 596.1 478.5 598.9C476.1 601.6 482.5 612.4 483.4 616.7C484.3 621 482.4 631.5 485.6 633C488.9 634.4 503.3 629.5 509.3 628.4C515.3 627.2 530.6 626.4 533 623.8C535.3 621.2 528.8 611.9 527.9 607.8C527 603.7 529.3 592.8 526.1 591.2Z" fill="url(#bv)" stroke="#a3773a" stroke-width="0.8" stroke-linejoin="round"  filter="url(#vol2)"/>
<path d="M534.2 630.2C530.9 628.5 516 633.5 509.9 634.6C503.7 635.8 488.1 636.5 485.6 639.1C483.1 641.6 489.3 651.1 489.9 654.8C490.4 658.4 486.8 666.6 489.9 668C493.1 669.5 508.3 666.8 514.6 666.4C520.8 666 536.5 667.2 539.2 664.8C541.9 662.4 536.6 652.1 535.9 647.7C535.3 643.4 537.5 631.9 534.2 630.2Z" fill="url(#bv)" stroke="#a3773a" stroke-width="0.8" stroke-linejoin="round"  filter="url(#vol2)"/>
<path d="M539.6 671.2C536.5 669.1 520.7 671.9 514.3 672.1C507.9 672.3 492 671.1 489 673C486 674.9 490.7 684 490.6 687.1C490.5 690.3 485.4 696.2 488.2 698C491.1 699.9 506.9 700.9 513.2 701.9C519.6 702.9 535.1 707.5 538.2 705.8C541.4 704.1 538.2 692.8 538.4 688.5C538.5 684.1 542.6 673.3 539.6 671.2Z" fill="url(#bv)" stroke="#a3773a" stroke-width="0.8" stroke-linejoin="round"  filter="url(#vol2)"/>
<path d="M537 712.2C534.5 709.5 518.1 707.9 511.7 706.4C505.3 704.9 490 699.4 486.5 700.6C482.9 701.9 484.7 712.7 483.8 716.2C482.9 719.8 476.6 726.2 479.1 728.8C481.7 731.4 497.5 734.8 503.8 736.8C510 738.8 524.9 745.9 528.4 744.8C531.9 743.7 530.2 732.2 531.3 728.1C532.4 724 539.4 714.9 537 712.2Z" fill="url(#bv)" stroke="#a3773a" stroke-width="0.8" stroke-linejoin="round"  filter="url(#vol2)"/>
<ellipse cx="505.6" cy="240" rx="3.8" ry="6.8" fill="#ffffff" stroke="#a3773a" stroke-width="0.5" transform="rotate(20.4 505.6 240)" />
<ellipse cx="489.3" cy="249.3" rx="3.8" ry="6.8" fill="#ffffff" stroke="#a3773a" stroke-width="0.5" transform="rotate(22.8 489.3 249.3)" />
<ellipse cx="478.9" cy="271.4" rx="3.8" ry="6.8" fill="#ffffff" stroke="#a3773a" stroke-width="0.5" transform="rotate(25.3 478.9 271.4)" />
<ellipse cx="469.4" cy="294.2" rx="3.8" ry="6.8" fill="#ffffff" stroke="#a3773a" stroke-width="0.5" transform="rotate(24 469.4 294.2)" />
<ellipse cx="460.6" cy="316.7" rx="3.8" ry="6.8" fill="#ffffff" stroke="#a3773a" stroke-width="0.5" transform="rotate(23.1 460.6 316.7)" />
<ellipse cx="451.7" cy="342.4" rx="3.8" ry="6.8" fill="#ffffff" stroke="#a3773a" stroke-width="0.5" transform="rotate(22 451.7 342.4)" />
<ellipse cx="446.7" cy="371.5" rx="3.8" ry="6.8" fill="#ffffff" stroke="#a3773a" stroke-width="0.5" transform="rotate(16.3 446.7 371.5)" />
<ellipse cx="444.4" cy="400.9" rx="3.8" ry="6.8" fill="#ffffff" stroke="#a3773a" stroke-width="0.5" transform="rotate(13.3 444.4 400.9)" />
<ellipse cx="444.3" cy="431.2" rx="3.8" ry="6.8" fill="#ffffff" stroke="#a3773a" stroke-width="0.5" transform="rotate(11.6 444.3 431.2)" />
<ellipse cx="446.5" cy="461.7" rx="3.8" ry="6.8" fill="#ffffff" stroke="#a3773a" stroke-width="0.5" transform="rotate(10.7 446.5 461.7)" />
<ellipse cx="451.9" cy="497" rx="3.8" ry="6.8" fill="#ffffff" stroke="#a3773a" stroke-width="0.5" transform="rotate(9.6 451.9 497)" />
<ellipse cx="458" cy="531.2" rx="3.8" ry="6.8" fill="#ffffff" stroke="#a3773a" stroke-width="0.5" transform="rotate(6.9 458 531.2)" />
<ellipse cx="466.8" cy="562" rx="5.4" ry="8.2" fill="#ffffff" stroke="#a3773a" stroke-width="0.5" transform="rotate(3.9 466.8 562)" />
<ellipse cx="474.8" cy="594.2" rx="5.4" ry="8.2" fill="#ffffff" stroke="#a3773a" stroke-width="0.5" transform="rotate(-7.8 474.8 594.2)" />
<ellipse cx="481.9" cy="633.7" rx="5.4" ry="8.2" fill="#ffffff" stroke="#a3773a" stroke-width="0.5" transform="rotate(-6.8 481.9 633.7)" />
<ellipse cx="485.8" cy="667.7" rx="5.4" ry="8.2" fill="#ffffff" stroke="#a3773a" stroke-width="0.5" transform="rotate(-5.2 485.8 667.7)" />
<ellipse cx="483.7" cy="695.6" rx="5.4" ry="8.2" fill="#ffffff" stroke="#a3773a" stroke-width="0.5" transform="rotate(0.9 483.7 695.6)" />
<ellipse cx="474.8" cy="724.9" rx="5.4" ry="8.2" fill="#ffffff" stroke="#a3773a" stroke-width="0.5" transform="rotate(8.4 474.8 724.9)" />
<ellipse cx="491" cy="234" rx="6.2" ry="5.6" fill="url(#kn)" stroke="#a3773a" stroke-width="0.7" />
<ellipse cx="490.4" cy="233.8" rx="3" ry="2.8" fill="#f9e2aa" stroke="#c79b4a" stroke-width="0.4" />
<ellipse cx="477" cy="250" rx="6.2" ry="5.6" fill="url(#kn)" stroke="#a3773a" stroke-width="0.7" />
<ellipse cx="476.4" cy="249.8" rx="3" ry="2.8" fill="#f9e2aa" stroke="#c79b4a" stroke-width="0.4" />
<ellipse cx="465" cy="271" rx="6.2" ry="5.6" fill="url(#kn)" stroke="#a3773a" stroke-width="0.7" />
<ellipse cx="464.4" cy="270.8" rx="3" ry="2.8" fill="#f9e2aa" stroke="#c79b4a" stroke-width="0.4" />
<ellipse cx="450" cy="295" rx="6.2" ry="5.6" fill="url(#kn)" stroke="#a3773a" stroke-width="0.7" />
<ellipse cx="449.4" cy="294.8" rx="3" ry="2.8" fill="#f9e2aa" stroke="#c79b4a" stroke-width="0.4" />
<ellipse cx="440" cy="321" rx="6.2" ry="5.6" fill="url(#kn)" stroke="#a3773a" stroke-width="0.7" />
<ellipse cx="439.4" cy="320.8" rx="3" ry="2.8" fill="#f9e2aa" stroke="#c79b4a" stroke-width="0.4" />
<ellipse cx="429" cy="348" rx="6.2" ry="5.6" fill="url(#kn)" stroke="#a3773a" stroke-width="0.7" />
<ellipse cx="428.4" cy="347.8" rx="3" ry="2.8" fill="#f9e2aa" stroke="#c79b4a" stroke-width="0.4" />
<ellipse cx="423" cy="380" rx="6.2" ry="5.6" fill="url(#kn)" stroke="#a3773a" stroke-width="0.7" />
<ellipse cx="422.4" cy="379.8" rx="3" ry="2.8" fill="#f9e2aa" stroke="#c79b4a" stroke-width="0.4" />
<ellipse cx="419" cy="411" rx="6.2" ry="5.6" fill="url(#kn)" stroke="#a3773a" stroke-width="0.7" />
<ellipse cx="418.4" cy="410.8" rx="3" ry="2.8" fill="#f9e2aa" stroke="#c79b4a" stroke-width="0.4" />
<ellipse cx="421" cy="443" rx="6.2" ry="5.6" fill="url(#kn)" stroke="#a3773a" stroke-width="0.7" />
<ellipse cx="420.4" cy="442.8" rx="3" ry="2.8" fill="#f9e2aa" stroke="#c79b4a" stroke-width="0.4" />
<ellipse cx="423" cy="479" rx="6.2" ry="5.6" fill="url(#kn)" stroke="#a3773a" stroke-width="0.7" />
<ellipse cx="422.4" cy="478.8" rx="3" ry="2.8" fill="#f9e2aa" stroke="#c79b4a" stroke-width="0.4" />
<ellipse cx="430" cy="506" rx="6.2" ry="5.6" fill="url(#kn)" stroke="#a3773a" stroke-width="0.7" />
<ellipse cx="429.4" cy="505.8" rx="3" ry="2.8" fill="#f9e2aa" stroke="#c79b4a" stroke-width="0.4" />
<path d="M457.1 566.4C457.9 564.6 460.3 563.3 462.1 563.4C463.9 563.6 466.9 565.4 468.1 567.4C469.3 569.4 470.1 573.6 469.1 575.4C468.1 577.3 464.1 578.6 462.1 578.4C460.1 578.3 457.9 576.4 457.1 574.4C456.3 572.4 456.3 568.3 457.1 566.4Z" fill="url(#bs)" stroke="#a3773a" stroke-width="0.7" stroke-linejoin="round" />
<path d="M464.9 599.6C465.7 597.8 468.1 596.5 469.9 596.6C471.7 596.8 474.7 598.6 475.9 600.6C477.1 602.6 477.9 606.8 476.9 608.6C475.9 610.5 471.9 611.8 469.9 611.6C467.9 611.5 465.7 609.6 464.9 607.6C464.1 605.6 464.1 601.5 464.9 599.6Z" fill="url(#bs)" stroke="#a3773a" stroke-width="0.7" stroke-linejoin="round" />
<path d="M471 637.7C471.9 635.9 474.2 634.6 476 634.7C477.9 634.9 480.9 636.7 482 638.7C483.2 640.7 484 644.9 483 646.7C482 648.6 478 649.9 476 649.7C474 649.6 471.9 647.7 471 645.7C470.2 643.7 470.2 639.6 471 637.7Z" fill="url(#bs)" stroke="#a3773a" stroke-width="0.7" stroke-linejoin="round" />
<path d="M472.8 668.1C473.6 666.3 475.9 665 477.8 665.1C479.6 665.3 482.6 667.1 483.8 669.1C484.9 671.1 485.8 675.3 484.8 677.1C483.8 679 479.8 680.3 477.8 680.1C475.8 680 473.6 678.1 472.8 676.1C471.9 674.1 471.9 670 472.8 668.1Z" fill="url(#bs)" stroke="#a3773a" stroke-width="0.7" stroke-linejoin="round" />
<path d="M468.7 693.9C469.5 692.1 471.8 690.8 473.7 690.9C475.5 691.1 478.5 692.9 479.7 694.9C480.8 696.9 481.7 701.1 480.7 702.9C479.7 704.8 475.7 706.1 473.7 705.9C471.7 705.8 469.5 703.9 468.7 701.9C467.8 699.9 467.8 695.8 468.7 693.9Z" fill="url(#bs)" stroke="#a3773a" stroke-width="0.7" stroke-linejoin="round" /></g>
</g>
<g filter="url(#softt)">
<text x="167" y="94.5" class="h" font-size="9" >Atlas and Axis</text>
<text x="167" y="103" class="i" font-size="6.2" >A—Articulated right lateral view, B—Disarticulated</text>
<text x="167" y="110" class="i" font-size="6.2" >anterior view, C—Articulated posterior superior view</text>
<text x="159" y="124" class="l" >Odontoid process (dens)</text>
<polyline points="224,122 236,122" fill="none" stroke="#858585" stroke-width="0.45"/>
<text x="189" y="139" class="l" text-anchor="end" >Posterior</text>
<text x="189" y="146.2" class="l" text-anchor="end" >tubercle</text>
<polyline points="189,144 194,144" fill="none" stroke="#858585" stroke-width="0.45"/>
<text x="186" y="166" class="l" text-anchor="end" >Transverse</text>
<text x="186" y="173.2" class="l" text-anchor="end" >foramen</text>
<polyline points="186,171 230,172" fill="none" stroke="#858585" stroke-width="0.45"/>
<text x="174" y="182" class="l" text-anchor="end" >Spinous</text>
<text x="174" y="189.2" class="l" text-anchor="end" >process</text>
<polyline points="175,187 181,188" fill="none" stroke="#858585" stroke-width="0.45"/>
<text x="179" y="201" class="m" font-size="6" >A</text>
<text x="221" y="204" class="l" text-anchor="middle" >Inferior</text>
<text x="221" y="211.2" class="l" text-anchor="middle" >articular facet</text>
<polyline points="220,187 220,197" fill="none" stroke="#858585" stroke-width="0.45"/>
<text x="278" y="130" class="l" >Anterior</text>
<text x="278" y="137.2" class="l" >tubercle</text>
<polyline points="277,128 262,137" fill="none" stroke="#858585" stroke-width="0.45"/>
<polyline points="301,128 380,151" fill="none" stroke="#858585" stroke-width="0.45"/>
<text x="267" y="176" class="l" >Body</text>
<polyline points="259,174 265,174" fill="none" stroke="#858585" stroke-width="0.45"/>
<text x="357" y="111" class="l" text-anchor="middle" >Superior</text>
<text x="357" y="118.2" class="l" text-anchor="middle" >articular facet</text>
<polyline points="358,120 358,134" fill="none" stroke="#858585" stroke-width="0.45"/>
<text x="381" y="126" class="l" text-anchor="middle" >Anterior</text>
<text x="381" y="133.2" class="l" text-anchor="middle" >arch</text>
<polyline points="381,134 381,139" fill="none" stroke="#858585" stroke-width="0.45"/>
<text x="444" y="148" class="lb" font-size="6" >Atlas (C1)</text>
<polyline points="427,146 442,146" fill="none" stroke="#858585" stroke-width="0.45"/>
<text x="419" y="176" class="l" >Inferior</text>
<text x="419" y="183.2" class="l" >articular</text>
<text x="419" y="190.4" class="l" >facet</text>
<polyline points="401,166 401,174 417,174" fill="none" stroke="#858585" stroke-width="0.45"/>
<polyline points="342,168 342,226" fill="none" stroke="#858585" stroke-width="0.45"/>
<polyline points="413,168 413,228" fill="none" stroke="#858585" stroke-width="0.45"/>
<text x="338" y="187" class="l" text-anchor="end" >Odontoid</text>
<text x="338" y="194.2" class="l" text-anchor="end" >process (dens)</text>
<polyline points="339,192 372,192" fill="none" stroke="#858585" stroke-width="0.45"/>
<text x="338" y="205" class="l" text-anchor="end" >Anterior</text>
<text x="338" y="212.2" class="l" text-anchor="end" >articular facet</text>
<polyline points="339,210 376,210" fill="none" stroke="#858585" stroke-width="0.45"/>
<text x="419" y="210" class="l" >Superior</text>
<text x="419" y="217.2" class="l" >articular</text>
<text x="419" y="224.4" class="l" >facet</text>
<polyline points="417,208 402,208 402,217" fill="none" stroke="#858585" stroke-width="0.45"/>
<text x="326" y="234" class="l" text-anchor="end" >Transverse</text>
<text x="326" y="241.2" class="l" text-anchor="end" >process</text>
<polyline points="327,239 334,239" fill="none" stroke="#858585" stroke-width="0.45"/>
<text x="433" y="234" class="l" >Axis</text>
<text x="433" y="241.2" class="l" >(C2)</text>
<polyline points="418,232 431,232" fill="none" stroke="#858585" stroke-width="0.45"/>
<text x="335" y="251" class="m" font-size="6" >B</text>
<text x="380" y="269" class="l" text-anchor="middle" >Body</text>
<polyline points="380,256 380,262" fill="none" stroke="#858585" stroke-width="0.45"/>
<text x="406" y="264" class="l" text-anchor="middle" >Inferior</text>
<text x="406" y="271.2" class="l" text-anchor="middle" >articular</text>
<text x="406" y="278.4" class="l" text-anchor="middle" >facet</text>
<polyline points="405,250 405,257" fill="none" stroke="#858585" stroke-width="0.45"/>
<text x="163" y="238" class="l" >Lateral mass</text>
<polyline points="182,240 204,268" fill="none" stroke="#858585" stroke-width="0.45"/>
<text x="228" y="241" class="l" text-anchor="middle" >Surface for</text>
<text x="228" y="248.2" class="l" text-anchor="middle" >alar ligament</text>
<polyline points="226,250 226,258" fill="none" stroke="#858585" stroke-width="0.45"/>
<text x="146" y="253" class="l" >Superior</text>
<text x="146" y="260.2" class="l" >articular facet</text>
<polyline points="180,258 190,268" fill="none" stroke="#858585" stroke-width="0.45"/>
<text x="268" y="248" class="l" >Transverse</text>
<text x="268" y="255.2" class="l" >process and</text>
<text x="268" y="262.4" class="l" >foramen</text>
<polyline points="268,264 266,274" fill="none" stroke="#858585" stroke-width="0.45"/>
<text x="166" y="294" class="m" font-size="6" >C</text>
<text x="272" y="294" class="l" >Groove for vertebral artery</text>
<polyline points="262,290 270,292" fill="none" stroke="#858585" stroke-width="0.45"/>
<text x="268" y="303" class="l" >Posterior arch of atlas</text>
<polyline points="257,298 266,301" fill="none" stroke="#858585" stroke-width="0.45"/>
<text x="262" y="312" class="l" >Lamina</text>
<polyline points="250,306 260,310" fill="none" stroke="#858585" stroke-width="0.45"/>
<text x="253" y="321" class="l" >Posterior tubercle</text>
<polyline points="238,314 251,319" fill="none" stroke="#858585" stroke-width="0.45"/>
<text x="181" y="318" class="l" >Bifid</text>
<text x="181" y="325.2" class="l" >spinous</text>
<text x="181" y="332.4" class="l" >process</text>
<polyline points="203,330 213,330" fill="none" stroke="#858585" stroke-width="0.45"/>
<text x="162" y="373" class="h" font-size="8.6" textLength="90.5" lengthAdjust="spacingAndGlyphs" >Second Lumbar Vertebra</text>
<text x="162" y="382" class="i" font-size="6.2" >A—Superior view, B—Lateral view, C—Posterolateral oblique view</text>
<text x="188" y="402" class="l" text-anchor="end" >Spinous process</text>
<polyline points="190,400 202,400" fill="none" stroke="#858585" stroke-width="0.45"/>
<text x="170" y="415" class="l" >Lamina</text>
<polyline points="189,414 196,425" fill="none" stroke="#858585" stroke-width="0.45"/>
<text x="231" y="406" class="l" >Mamillary process</text>
<polyline points="233,408 231,420" fill="none" stroke="#858585" stroke-width="0.45"/>
<text x="251" y="415" class="l" >Superior articular process</text>
<polyline points="250,414 236,425" fill="none" stroke="#858585" stroke-width="0.45"/>
<text x="257" y="425" class="l" >Accessory process</text>
<polyline points="256,424 240,432" fill="none" stroke="#858585" stroke-width="0.45"/>
<text x="274" y="436" class="l" >Transverse process</text>
<polyline points="266,434 272,434" fill="none" stroke="#858585" stroke-width="0.45"/>
<text x="152" y="450" class="l" >Pedicle</text>
<polyline points="174,448 184,448" fill="none" stroke="#858585" stroke-width="0.45"/>
<text x="255" y="450" class="l" >Vertebral foramen</text>
<polyline points="212,448 253,448" fill="none" stroke="#858585" stroke-width="0.45"/>
<text x="166" y="475" class="m" font-size="6" >A</text>
<text x="209" y="479" class="l" text-anchor="middle" font-size="5.5" >Body</text>
<text x="310" y="466" class="l" text-anchor="middle" >Superior</text>
<text x="310" y="473.2" class="l" text-anchor="middle" >articular</text>
<text x="310" y="480.4" class="l" text-anchor="middle" >process</text>
<polyline points="310,482 310,497" fill="none" stroke="#858585" stroke-width="0.45"/>
<text x="339" y="490" class="l" >Superior vertebral</text>
<text x="339" y="497.2" class="l" >notch</text>
<polyline points="337,490 326,506" fill="none" stroke="#858585" stroke-width="0.45"/>
<text x="258" y="497" class="l" >Mamillary</text>
<text x="258" y="504.2" class="l" >process</text>
<polyline points="279,502 295,502" fill="none" stroke="#858585" stroke-width="0.45"/>
<text x="215" y="520" class="l" >Transverse process</text>
<polyline points="264,518 272,518" fill="none" stroke="#858585" stroke-width="0.45"/>
<text x="223" y="536" class="l" >Spinous process</text>
<polyline points="266,534 272,534" fill="none" stroke="#858585" stroke-width="0.45"/>
<text x="382" y="522" class="l" >Pedicle</text>
<polyline points="334,520 380,520" fill="none" stroke="#858585" stroke-width="0.45"/>
<text x="288" y="557" class="m" font-size="6" >B</text>
<text x="325" y="554" class="l" >Inferior vertebral notch</text>
<polyline points="325,536 325,548" fill="none" stroke="#858585" stroke-width="0.45"/>
<text x="320" y="564" class="l" >Facet of inferior</text>
<text x="320" y="571.2" class="l" >articular process</text>
<polyline points="310,562 318,562" fill="none" stroke="#858585" stroke-width="0.45"/>
<text x="174" y="580" class="l" >Superior articular</text>
<text x="174" y="587.2" class="l" >process and facet</text>
<polyline points="196,588 188,610" fill="none" stroke="#858585" stroke-width="0.45"/>
<polyline points="196,588 198,610" fill="none" stroke="#858585" stroke-width="0.45"/>
<text x="146" y="599" class="l" >Mamillary</text>
<text x="146" y="606.2" class="l" >process</text>
<polyline points="166,604 172,614" fill="none" stroke="#858585" stroke-width="0.45"/>
<text x="277" y="614" class="l" >Vertebral foramen</text>
<polyline points="225,612 275,612" fill="none" stroke="#858585" stroke-width="0.45"/>
<text x="276" y="638" class="l" >Body</text>
<polyline points="268,636 274,636" fill="none" stroke="#858585" stroke-width="0.45"/>
<text x="159" y="643" class="l" >Lamina</text>
<polyline points="180,641 192,641" fill="none" stroke="#858585" stroke-width="0.45"/>
<text x="146" y="656" class="l" >Spinous</text>
<text x="146" y="663.2" class="l" >process</text>
<polyline points="166,661 173,661" fill="none" stroke="#858585" stroke-width="0.45"/>
<text x="263" y="671" class="l" >Transverse process</text>
<polyline points="246,669 261,669" fill="none" stroke="#858585" stroke-width="0.45"/>
<text x="237" y="683" class="l" >Accessory process</text>
<polyline points="225,665 235,679" fill="none" stroke="#858585" stroke-width="0.45"/>
<text x="166" y="688" class="m" font-size="6" >C</text>
<text x="229" y="691" class="l" >Facet of inferior articular process</text>
<polyline points="219,688 227,689" fill="none" stroke="#858585" stroke-width="0.45"/>
<text x="268" y="745" class="h" text-anchor="middle" font-size="8" >Sacrum and Coccyx</text>
<text x="268" y="754" class="l" text-anchor="middle" font-size="5.6" >(Dorsal Surface)</text>
<text x="270" y="769" class="l" text-anchor="middle" >Sacral canal</text>
<polyline points="270,772 270,788" fill="none" stroke="#333" stroke-width="0.7"/>
<text x="200" y="774" class="l" text-anchor="end" >Facet of superior</text>
<text x="200" y="781.2" class="l" text-anchor="end" >articular process</text>
<polyline points="201,779 208,779" fill="none" stroke="#858585" stroke-width="0.45"/>
<text x="152" y="807" class="l" >Auricular surface</text>
<polyline points="199,805 206,805" fill="none" stroke="#858585" stroke-width="0.45"/>
<text x="332" y="780" class="l" >Spinous tubercle</text>
<polyline points="272,800 330,779" fill="none" stroke="#858585" stroke-width="0.45"/>
<text x="339" y="809" class="l" >Sacral tuberosity</text>
<polyline points="322,800 337,807" fill="none" stroke="#858585" stroke-width="0.45"/>
<text x="335" y="824" class="l" >Lateral sacral crest</text>
<polyline points="312,822 333,822" fill="none" stroke="#858585" stroke-width="0.45"/>
<text x="328" y="852" class="l" >Median sacral crest</text>
<polyline points="272,850 326,850" fill="none" stroke="#858585" stroke-width="0.45"/>
<text x="326" y="860" class="l" >Intermediate sacral crest</text>
<polyline points="290,858 324,858" fill="none" stroke="#858585" stroke-width="0.45"/>
<text x="362" y="882" class="l" text-anchor="middle" >Coccygeal cornu</text>
<text x="362" y="889.2" class="l" text-anchor="middle" >(horn)</text>
<polyline points="284,900 342,880" fill="none" stroke="#858585" stroke-width="0.45"/>
<text x="147" y="860" class="l" >Posterior sacral foramina</text>
<polyline points="213,858 240,816" fill="none" stroke="#858585" stroke-width="0.45"/>
<polyline points="213,858 242,845" fill="none" stroke="#858585" stroke-width="0.45"/>
<polyline points="213,858 242,864" fill="none" stroke="#858585" stroke-width="0.45"/>
<polyline points="213,858 232,874" fill="none" stroke="#858585" stroke-width="0.45"/>
<text x="195" y="894" class="l" >Sacral hiatus</text>
<polyline points="231,892 262,892" fill="none" stroke="#858585" stroke-width="0.45"/>
<text x="191" y="907" class="l" >Sacral cornu (horn)</text>
<polyline points="243,904 252,899" fill="none" stroke="#858585" stroke-width="0.45"/>
<text x="145" y="940.5" class="l" font-size="3.2" textLength="68" lengthAdjust="spacingAndGlyphs" >9891  ISBN# 1-58779-213-7 (Paper)</text>
<text x="156.5" y="944" class="l" font-size="3.2" textLength="62" lengthAdjust="spacingAndGlyphs" >ISBN# 1-58779-214-5 (Laminated)</text>
<text x="165" y="962" class="lb" font-size="5.6" textLength="122" lengthAdjust="spacingAndGlyphs" >©1992, 1999, 2000 Anatomical Chart Company,</text>
<text x="289.5" y="962" class="l" font-size="5.6" textLength="460.5" lengthAdjust="spacingAndGlyphs" >Skokie, Illinois. Medical illustrations by William B. Westwood, in consultation with Frank L. Rice, Ph.D., Associate Professor of Anatomy, Albany Medical College, Albany, New York.</text>
<path d="M766.400 950.700l9 8.500-9 8.500-9-8.500z" fill="#1a1a1a"/><path d="M761.800 961.500l4.600-5.800 4.600 5.800-2.200 0-2.400-2.600-2.400 2.600z" fill="#fff"/>
<text x="777" y="961.6" class="b" font-size="4.6" textLength="62" lengthAdjust="spacingAndGlyphs" >LIPPINCOTT WILLIAMS &amp; WILKINS</text>
<text x="549" y="123" class="l" >Atlas (C1)</text>
<polyline points="541,121 547,121" fill="none" stroke="#858585" stroke-width="0.45"/>
<text x="549" y="145" class="l" >Axis (C2)</text>
<polyline points="539,145 547,143" fill="none" stroke="#858585" stroke-width="0.45"/>
<text x="567" y="219" class="l" >Cervical</text>
<text x="567" y="226.2" class="l" >vertebrae</text>
<polyline points="556,217 565,217" fill="none" stroke="#333" stroke-width="1.4"/>
<text x="546" y="237" class="l" >C7</text>
<polyline points="536,235 544,235" fill="none" stroke="#858585" stroke-width="0.45"/>
<text x="538" y="259" class="l" >T1</text>
<polyline points="529,257 536,257" fill="none" stroke="#858585" stroke-width="0.45"/>
<text x="516" y="389" class="l" >Thoracic</text>
<text x="516" y="396.2" class="l" >vertebrae</text>
<polyline points="505,387 514,387" fill="none" stroke="#333" stroke-width="1.2"/>
<text x="523" y="540" class="l" >T12</text>
<polyline points="494,537 521,538" fill="none" stroke="#858585" stroke-width="0.45"/>
<text x="533" y="568" class="l" >L1</text>
<polyline points="521,565 531,566" fill="none" stroke="#858585" stroke-width="0.45"/>
<polyline points="514,552 571,540" fill="none" stroke="#858585" stroke-width="0.45"/>
<text x="565" y="651" class="l" >Lumbar</text>
<text x="565" y="658.2" class="l" >vertebrae</text>
<polyline points="554,649 563,649" fill="none" stroke="#333" stroke-width="1.4"/>
<text x="545" y="739" class="l" >L5</text>
<polyline points="532,736 543,737" fill="none" stroke="#858585" stroke-width="0.45"/>
<text x="539" y="784" class="l" >Sacral promontory</text>
<polyline points="522,760 537,780" fill="none" stroke="#858585" stroke-width="0.45"/>
<polyline points="587,782 598,782" fill="none" stroke="#858585" stroke-width="0.45"/>
<text x="483" y="831" class="l" text-anchor="middle" >Auricular</text>
<text x="483" y="838.2" class="l" text-anchor="middle" >surface</text>
<polyline points="476,800 483,823" fill="none" stroke="#858585" stroke-width="0.45"/>
<text x="474" y="901" class="h" text-anchor="middle" font-size="8" >Vertebral Column</text>
<text x="474" y="910" class="l" text-anchor="middle" font-size="5.8" >(Right Lateral View)</text>
<text x="375" y="594" class="l" >Inferior</text>
<text x="375" y="601.2" class="l" >vertebral notch</text>
<polyline points="417,598 440,600 470,610" fill="none" stroke="#858585" stroke-width="0.45"/>
<text x="372" y="623" class="l" >Intervertebral</text>
<text x="372" y="630.2" class="l" >foramen</text>
<polyline points="396,629 440,629 480,630" fill="none" stroke="#858585" stroke-width="0.45"/>
<text x="377" y="657" class="l" >Superior</text>
<text x="377" y="664.2" class="l" >vertebral notch</text>
<polyline points="418,660 440,652" fill="none" stroke="#858585" stroke-width="0.45"/>
<text x="405" y="690" class="l" >Superior</text>
<text x="405" y="697.2" class="l" >articular</text>
<text x="405" y="704.4" class="l" >process</text>
<polyline points="428,703 442,703" fill="none" stroke="#858585" stroke-width="0.45"/>
<polyline points="377,779 442,757" fill="none" stroke="#858585" stroke-width="0.45"/>
<polyline points="384,879 440,857" fill="none" stroke="#858585" stroke-width="0.45"/>
<path d="M555 151Q560 200 551 226" fill="none" stroke="#222" stroke-width="1.0"/>
<path d="M555 148l-3 5h6zM550.5 230l-2.5-5.5 5.6 1z" fill="#222"/>
<path d="M540 265Q498 340 504 430Q508 490 524 528" fill="none" stroke="#222" stroke-width="1.0"/>
<path d="M542 262l-5.5 2.5 4 3.5zM526 532l-4.8-3.5 4.8-2.3z" fill="#222"/>
<path d="M541 576Q558 640 551 726" fill="none" stroke="#222" stroke-width="1.0"/>
<path d="M539.500 572l0 6 5-2.500zM550.500 731l-3-5.500 6 .4z" fill="#222"/>
<text x="693" y="100" class="h" font-size="9" >Fifth Cervical Vertebra</text>
<text x="693" y="108.5" class="i" font-size="6.2" >A—Lateral view, B—Anterior view,</text>
<text x="693" y="116" class="i" font-size="6.2" >C—Posterolateral oblique view, D—Superior view</text>
<text x="608" y="115" class="l" >Superior and inferior</text>
<text x="608" y="122.2" class="l" >articular process</text>
<polyline points="650,120 656,126" fill="none" stroke="#858585" stroke-width="0.45"/>
<text x="608" y="133" class="l" >Bifid spinous</text>
<text x="608" y="140.2" class="l" >process</text>
<polyline points="624,142 626,152" fill="none" stroke="#858585" stroke-width="0.45"/>
<text x="611" y="165" class="m" font-size="6" >A</text>
<text x="698" y="141" class="l" >Anterior tubercle</text>
<polyline points="689,139 696,139" fill="none" stroke="#858585" stroke-width="0.45"/>
<polyline points="744,139 752,139 752,152" fill="none" stroke="#858585" stroke-width="0.45"/>
<polyline points="754,139 756,152" fill="none" stroke="#858585" stroke-width="0.45"/>
<text x="700" y="154" class="l" >Body</text>
<polyline points="689,152 698,152" fill="none" stroke="#858585" stroke-width="0.45"/>
<text x="680" y="176" class="l" >Posterior tubercle</text>
<polyline points="674,158 674,174 678,174" fill="none" stroke="#858585" stroke-width="0.45"/>
<polyline points="729,174 740,174" fill="none" stroke="#858585" stroke-width="0.45"/>
<text x="652" y="170" class="l" text-anchor="middle" >Inferior</text>
<text x="652" y="177.2" class="l" text-anchor="middle" >vertebral</text>
<text x="652" y="184.4" class="l" text-anchor="middle" >notch</text>
<polyline points="660,158 656,163" fill="none" stroke="#858585" stroke-width="0.45"/>
<text x="755" y="141" class="l" >Superior articular process</text>
<text x="780" y="157" class="l" text-anchor="middle" font-size="5.5" >Body</text>
<polyline points="781,158 781,176" fill="none" stroke="#858585" stroke-width="0.45"/>
<text x="743" y="189" class="m" font-size="6" >B</text>
<text x="707" y="197" class="l" >Bifid spinous process</text>
<polyline points="764,195 774,195" fill="none" stroke="#858585" stroke-width="0.45"/>
<text x="810" y="203" class="l" text-anchor="middle" >Inferior</text>
<text x="810" y="210.2" class="l" text-anchor="middle" >articular</text>
<text x="810" y="217.4" class="l" text-anchor="middle" >facet</text>
<polyline points="810,185 810,197" fill="none" stroke="#858585" stroke-width="0.45"/>
<text x="657" y="210" class="l" text-anchor="middle" >Bifid</text>
<text x="657" y="217.2" class="l" text-anchor="middle" >spinous</text>
<text x="657" y="224.4" class="l" text-anchor="middle" >process</text>
<polyline points="657,226 657,232" fill="none" stroke="#858585" stroke-width="0.45"/>
<text x="643" y="239" class="m" font-size="6" >D</text>
<text x="629" y="251" class="l" >Lamina</text>
<polyline points="642,252 650,262" fill="none" stroke="#858585" stroke-width="0.45"/>
<text x="606" y="262" class="l" >Pedicle</text>
<polyline points="624,262 636,278" fill="none" stroke="#858585" stroke-width="0.45"/>
<text x="681" y="252" class="l" >Vertebral canal</text>
<polyline points="680,250 660,276" fill="none" stroke="#858585" stroke-width="0.45"/>
<text x="703" y="264" class="l" >Facets of superior</text>
<text x="703" y="271.2" class="l" >articular processes</text>
<polyline points="688,268 701,268" fill="none" stroke="#858585" stroke-width="0.45"/>
<polyline points="689,280 697,272" fill="none" stroke="#858585" stroke-width="0.45"/>
<text x="610" y="283" class="l" text-anchor="end" >Posterior</text>
<text x="610" y="290.2" class="l" text-anchor="end" >tubercle</text>
<polyline points="611,288 620,288" fill="none" stroke="#858585" stroke-width="0.45"/>
<text x="622" y="300" class="l" text-anchor="end" >Intertubercular lamella</text>
<polyline points="623,298 630,294" fill="none" stroke="#858585" stroke-width="0.45"/>
<text x="622" y="309" class="l" text-anchor="end" >Anterior tubercle</text>
<polyline points="623,307 630,298" fill="none" stroke="#858585" stroke-width="0.45"/>
<text x="657" y="296" class="lb" text-anchor="middle" font-size="5.5" >Body</text>
<text x="686" y="314" class="l" text-anchor="middle" >Transverse</text>
<text x="686" y="321.2" class="l" text-anchor="middle" >foramen</text>
<polyline points="685,298 685,308" fill="none" stroke="#858585" stroke-width="0.45"/>
<text x="775" y="243" class="l" text-anchor="middle" >Superior</text>
<text x="775" y="250.2" class="l" text-anchor="middle" >vertebral notch</text>
<polyline points="776,252 776,264" fill="none" stroke="#222" stroke-width="0.8"/>
<path d="M774.400 263.500h3.200l-1.600 3.600zM774.400 290h3.200l-1.600 3.600z" fill="#222"/>
<polyline points="776,282 776,291" fill="none" stroke="#222" stroke-width="0.8"/>
<text x="822" y="271" class="l" >Body</text>
<polyline points="808,273 820,269" fill="none" stroke="#858585" stroke-width="0.45"/>
<text x="712" y="287" class="l" >Vertebral canal</text>
<polyline points="752,285 768,285" fill="none" stroke="#858585" stroke-width="0.45"/>
<polyline points="752,269 764,269" fill="none" stroke="#858585" stroke-width="0.45"/>
<text x="742" y="328" class="m" font-size="6" >C</text>
<text x="776" y="329" class="l" text-anchor="middle" >Lamina</text>
<polyline points="777,312 777,322" fill="none" stroke="#858585" stroke-width="0.45"/>
<text x="563" y="346" class="h" font-size="9" textLength="160" lengthAdjust="spacingAndGlyphs" >Seventh and Eleventh Thoracic Vertebrae</text>
<text x="563" y="355" class="i" font-size="6.2" textLength="270" lengthAdjust="spacingAndGlyphs" >A—Superior view, B—Lateral view, C—Posterolateral oblique view, D—Anterolateral oblique view of T11</text>
<text x="660" y="368" class="l" text-anchor="middle" >Spinous</text>
<text x="660" y="375.2" class="l" text-anchor="middle" >process</text>
<polyline points="660,376 660,381" fill="none" stroke="#858585" stroke-width="0.45"/>
<text x="632" y="396" class="l" >Lamina</text>
<polyline points="642,398 650,410" fill="none" stroke="#858585" stroke-width="0.45"/>
<text x="675" y="390" class="l" >Superior articular process</text>
<polyline points="676,392 676,418" fill="none" stroke="#858585" stroke-width="0.45"/>
<text x="553" y="410" class="l" >Transverse process</text>
<polyline points="601,408 611,408" fill="none" stroke="#858585" stroke-width="0.45"/>
<text x="720" y="416" class="l" >Costal facet</text>
<text x="720" y="423.2" class="l" >of transverse</text>
<text x="720" y="430.4" class="l" >process</text>
<polyline points="709,413 718,414" fill="none" stroke="#858585" stroke-width="0.45"/>
<text x="573" y="430" class="l" >Vertebral foramen</text>
<polyline points="620,428 650,428" fill="none" stroke="#858585" stroke-width="0.45"/>
<text x="603" y="438" class="l" >Pedicle</text>
<polyline points="625,436 634,434" fill="none" stroke="#858585" stroke-width="0.45"/>
<text x="573" y="450" class="l" >Superior costal facet</text>
<polyline points="627,448 636,446" fill="none" stroke="#858585" stroke-width="0.45"/>
<text x="693" y="441" class="l" >Inferior</text>
<text x="693" y="448.2" class="l" >costal facet</text>
<polyline points="684,439 691,439" fill="none" stroke="#858585" stroke-width="0.45"/>
<text x="660" y="461" class="lb" text-anchor="middle" font-size="5.5" >Body</text>
<text x="693" y="462" class="l" >Costal facet of</text>
<text x="693" y="469.2" class="l" >transverse process</text>
<polyline points="738,466 748,460" fill="none" stroke="#858585" stroke-width="0.45"/>
<text x="644" y="482" class="m" font-size="6" >A</text>
<text x="770" y="426" class="l" >Superior articular facet</text>
<polyline points="771,428 771,438" fill="none" stroke="#858585" stroke-width="0.45"/>
<text x="785" y="440" class="l" >Superior costal facet</text>
<polyline points="787,442 787,452" fill="none" stroke="#858585" stroke-width="0.45"/>
<text x="813" y="492" class="l" text-anchor="middle" >Body</text>
<polyline points="812,470 812,485" fill="none" stroke="#858585" stroke-width="0.45"/>
<text x="786" y="502" class="l" >Inferior costal facet</text>
<polyline points="784,480 784,500" fill="none" stroke="#858585" stroke-width="0.45"/>
<text x="770" y="512" class="l" >Inferior articular facet</text>
<polyline points="769,482 769,510" fill="none" stroke="#858585" stroke-width="0.45"/>
<text x="691" y="499" class="l" >Spinous process</text>
<polyline points="734,497 746,497" fill="none" stroke="#858585" stroke-width="0.45"/>
<text x="731" y="525" class="m" font-size="6" >B</text>
<text x="556" y="538" class="l" >Intervertebral disc</text>
<polyline points="571,540 600,561" fill="none" stroke="#858585" stroke-width="0.45"/>
<text x="655" y="546" class="l" >Nucleus pulposus</text>
<polyline points="653,546 642,560" fill="none" stroke="#858585" stroke-width="0.45"/>
<text x="672" y="559" class="l" >Annulus fibrosus</text>
<polyline points="670,558 660,568" fill="none" stroke="#858585" stroke-width="0.45"/>
<text x="588" y="599" class="l" text-anchor="middle" >Vertebra</text>
<text x="588" y="606.2" class="l" text-anchor="middle" >T11</text>
<polyline points="600,597 612,597" fill="none" stroke="#858585" stroke-width="0.45"/>
<text x="608" y="615" class="m" font-size="6" >D</text>
<text x="727" y="582" class="l" text-anchor="middle" >Superior</text>
<text x="727" y="589.2" class="l" text-anchor="middle" >articular</text>
<text x="727" y="596.4" class="l" text-anchor="middle" >facet</text>
<polyline points="728,596 738,602" fill="none" stroke="#858585" stroke-width="0.45"/>
<text x="757" y="582" class="l" text-anchor="middle" >Vertebral</text>
<text x="757" y="589.2" class="l" text-anchor="middle" >foramen</text>
<polyline points="756,590 756,606" fill="none" stroke="#858585" stroke-width="0.45"/>
<text x="787" y="582" class="l" text-anchor="middle" >Superior</text>
<text x="787" y="589.2" class="l" text-anchor="middle" >costal facet</text>
<polyline points="784,590 784,620" fill="none" stroke="#858585" stroke-width="0.45"/>
<text x="698" y="624" class="l" text-anchor="middle" >Transverse</text>
<text x="698" y="631.2" class="l" text-anchor="middle" >process</text>
<polyline points="706,616 712,608" fill="none" stroke="#858585" stroke-width="0.45"/>
<text x="696" y="643" class="l" >Lamina</text>
<polyline points="716,641 730,630" fill="none" stroke="#858585" stroke-width="0.45"/>
<text x="658" y="668" class="l" >Spinous process</text>
<polyline points="700,666 712,666" fill="none" stroke="#858585" stroke-width="0.45"/>
<text x="777" y="664" class="l" >Inferior costal facet</text>
<polyline points="778,650 778,660" fill="none" stroke="#858585" stroke-width="0.45"/>
<text x="702" y="686" class="m" font-size="6" >C</text>
<text x="762" y="685" class="l" >Costal facet of</text>
<text x="762" y="692.2" class="l" >transverse process</text>
<polyline points="762,670 762,679" fill="none" stroke="#858585" stroke-width="0.45"/>
<text x="670" y="730" class="h" text-anchor="middle" font-size="8" >Sacrum and Coccyx</text>
<text x="670" y="739" class="l" text-anchor="middle" font-size="5.6" >(Pelvic Surface)</text>
<text x="670" y="754" class="l" text-anchor="middle" >Lumbosacral</text>
<text x="670" y="761.2" class="l" text-anchor="middle" >articular surface</text>
<polyline points="670,762 670,774" fill="none" stroke="#858585" stroke-width="0.45"/>
<text x="737" y="768" class="l" >Superior articular process</text>
<polyline points="722,766 735,766" fill="none" stroke="#858585" stroke-width="0.45"/>
<text x="741" y="786" class="l" >Ala (sacral wing)</text>
<polyline points="722,784 739,784" fill="none" stroke="#858585" stroke-width="0.45"/>
<polyline points="590,782 668,782" fill="none" stroke="#858585" stroke-width="0.45"/>
<text x="570" y="819" class="l" text-anchor="middle" >Transverse</text>
<text x="570" y="826.2" class="l" text-anchor="middle" >ridges</text>
<text x="570" y="833.4" class="l" text-anchor="middle" >(fused in final age)</text>
<polyline points="589,831 618,823" fill="none" stroke="#858585" stroke-width="0.45"/>
<polyline points="589,831 620,832" fill="none" stroke="#858585" stroke-width="0.45"/>
<polyline points="589,831 679,854" fill="none" stroke="#858585" stroke-width="0.45"/>
<polyline points="589,831 668,877" fill="none" stroke="#858585" stroke-width="0.45"/>
<text x="749" y="834" class="l" >Anterior sacral foramina</text>
<polyline points="746,832 700,806" fill="none" stroke="#858585" stroke-width="0.45"/>
<polyline points="746,832 700,829" fill="none" stroke="#858585" stroke-width="0.45"/>
<polyline points="746,832 700,849" fill="none" stroke="#858585" stroke-width="0.45"/>
<polyline points="746,832 700,870" fill="none" stroke="#858585" stroke-width="0.45"/>
<text x="567" y="878" class="l" >Transverse process of</text>
<text x="567" y="885.2" class="l" >1st coccygeal vertebra</text>
<polyline points="628,884 652,896" fill="none" stroke="#858585" stroke-width="0.45"/>
<text x="554" y="896" class="l" >Coccygeal vertebrae</text>
<text x="554" y="903.2" class="l" >(2nd, 3rd, and 4th fused)</text>
<polyline points="622,901 658,908" fill="none" stroke="#858585" stroke-width="0.45"/>
<polyline points="622,901 660,918" fill="none" stroke="#858585" stroke-width="0.45"/>
<polyline points="622,901 664,926" fill="none" stroke="#858585" stroke-width="0.45"/>
<text x="704" y="888" class="l" >Apex of sacrum</text>
<polyline points="686,888 702,886" fill="none" stroke="#858585" stroke-width="0.45"/>
<text x="697" y="914" class="l" >Coccyx</text>
<polyline points="691,894 691,928" fill="none" stroke="#333" stroke-width="0.8"/>
<polyline points="691,911 695,911" fill="none" stroke="#333" stroke-width="0.6"/>
</g>
</svg></body></html>
